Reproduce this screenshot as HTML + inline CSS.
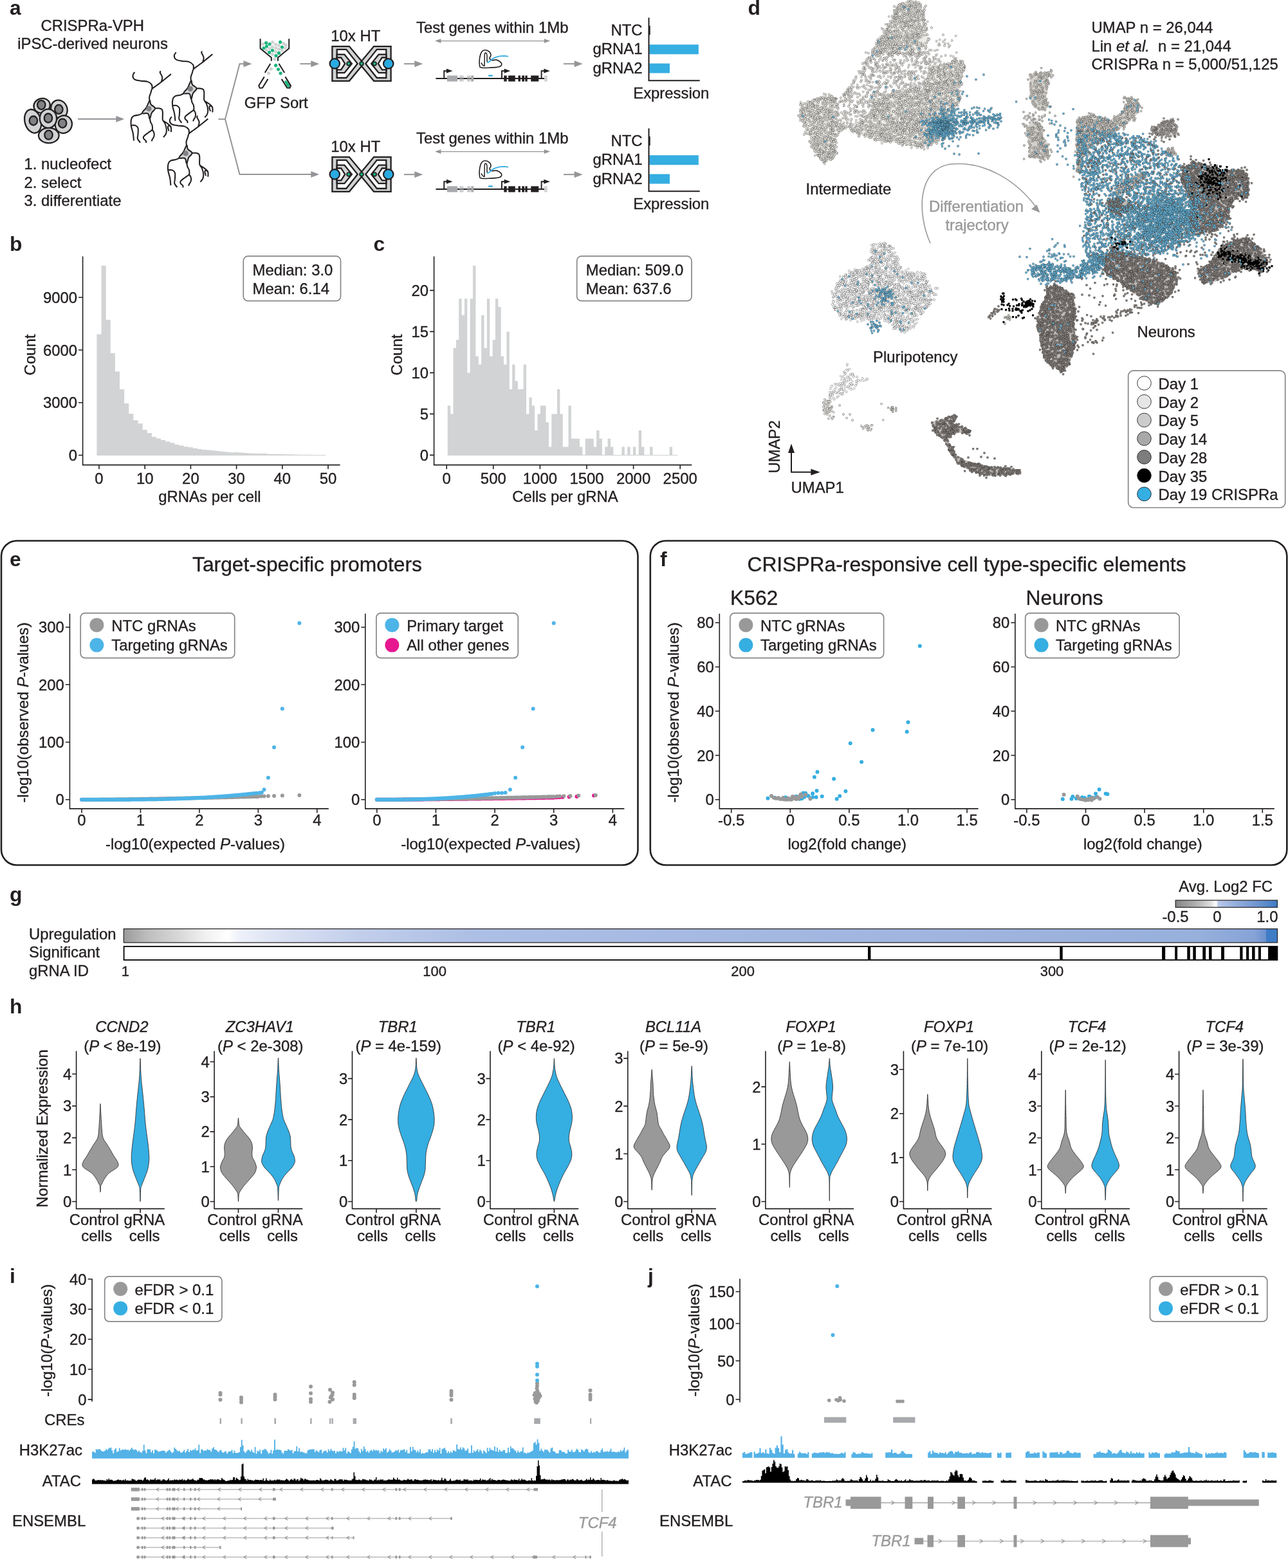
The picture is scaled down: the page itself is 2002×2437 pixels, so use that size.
<!DOCTYPE html>
<html><head><meta charset="utf-8"><title>Figure</title>
<style>
html,body{margin:0;padding:0;background:#fff}
svg{display:block}
text{font-family:"Liberation Sans",sans-serif;font-size:23.9px;fill:#231f20;stroke:#231f20;stroke-width:.35px}
.m{text-anchor:middle}.e{text-anchor:end}
text[style*="bold"]{stroke-width:0}
</style></head>
<body>
<svg width="2002" height="2437" viewBox="0 0 2002 2437">
<rect width="2002" height="2437" fill="#fff"/>
<text style="font-size:31.8px;font-weight:bold" x="15" y="23">a</text>
<text class="m" x="143.7" y="48">CRISPRa-VPH</text>
<text class="m" x="144" y="76">iPSC-derived neurons</text>
<text x="37.5" y="263">1. nucleofect</text>
<text x="37.5" y="291.6">2. select</text>
<text x="37.5" y="320.4">3. differentiate</text>
<ellipse cx="65.14" cy="164.19" rx="12.79" ry="11.23" transform="rotate(-15 65.14 164.19)" fill="#d1d3d4" stroke="#231f20" stroke-width="2.3"/>
<ellipse cx="64.27" cy="163.04" rx="6.2" ry="7" fill="#808285" stroke="#231f20" stroke-width="2.3"/>
<ellipse cx="91.92" cy="169.67" rx="12.38" ry="14.4" transform="rotate(-25 91.92 169.67)" fill="#d1d3d4" stroke="#231f20" stroke-width="2.3"/>
<ellipse cx="91.35" cy="169.95" rx="6.2" ry="7" fill="#808285" stroke="#231f20" stroke-width="2.3"/>
<ellipse cx="51.14" cy="188.39" rx="12.56" ry="18.72" transform="rotate(-15 51.14 188.39)" fill="#d1d3d4" stroke="#231f20" stroke-width="2.3"/>
<ellipse cx="51.89" cy="187.52" rx="6.2" ry="7" fill="#808285" stroke="#231f20" stroke-width="2.3"/>
<ellipse cx="98.84" cy="193.28" rx="12.96" ry="13.82" transform="rotate(20 98.84 193.28)" fill="#d1d3d4" stroke="#231f20" stroke-width="2.3"/>
<ellipse cx="97.11" cy="191.56" rx="6.2" ry="7" fill="#808285" stroke="#231f20" stroke-width="2.3"/>
<ellipse cx="75.79" cy="210.56" rx="15.84" ry="11.81" transform="rotate(0 75.79 210.56)" fill="#d1d3d4" stroke="#231f20" stroke-width="2.3"/>
<ellipse cx="75.51" cy="209.7" rx="6.2" ry="7" fill="#808285" stroke="#231f20" stroke-width="2.3"/>
<ellipse cx="74.93" cy="184.24" rx="13.13" ry="14.69" transform="rotate(0 74.93 184.24)" fill="#d1d3d4" stroke="#231f20" stroke-width="2.3"/>
<ellipse cx="74.93" cy="183.49" rx="6.2" ry="7" fill="#808285" stroke="#231f20" stroke-width="2.3"/>
<path d="M121 185L181.3 185" stroke="#939598" stroke-width="2" fill="none"/>
<path d="M193.3 185L180.3 190L180.3 180Z" fill="#939598"/>
<g transform="translate(295.8 138.1)" fill="none" stroke="#231f20" stroke-width="2.05" stroke-linecap="butt">
<path d="M1.2 -12.4C2.8 -13.5 1.2 -9.3 3.2 -6.5C5.2 -3.7 9.4 -3.6 9.7 -0.6C10 2.4 6.3 2.8 4.4 6.5C2.4 10.2 2.8 15.1 1.4 15.4C0 15.7 1.2 9.7 -1.5 7.7C-4.2 5.7 -9.6 9 -10.2 6.7C-10.7 4.5 -6.6 2.7 -3.9 -1.8C-1.3 -6.2 -0.5 -11.3 1.2 -12.4Z" fill="#d1d3d4"/>
<circle r="4.1" fill="#808285" stroke="none"/>
<path d="M1.2 -11.8C1.1 -12.9 0.5 -16.1 0.8 -18.3C1.2 -20.6 2.5 -23.4 3.2 -25.4C3.9 -27.5 3.5 -29 5 -30.8C6.4 -32.5 9.7 -34.3 12.1 -36.1C14.4 -37.9 15.4 -38.5 19.2 -41.4C22.9 -44.4 32 -51.8 34.5 -53.8M5 -30.8C4.9 -31.8 5.6 -35.4 4.4 -37.3C3.2 -39.1 0.7 -41 -2.1 -42C-5 -43 -9.4 -42.6 -12.8 -43.2C-16.1 -43.8 -20.2 -44.2 -22.2 -45.6C-24.3 -46.9 -25 -49.6 -25 -51.5C-25 -53.3 -22.7 -55.9 -22.2 -56.8M19.2 -41.4C19.5 -42.5 20.9 -46 20.9 -47.9C20.9 -49.8 19.8 -51.3 19.2 -52.7C18.6 -54 17.6 -55.2 17.4 -56.2C17.2 -57.2 18.1 -58.2 18.2 -58.6M9.1 -0.6C10.2 -0.6 13.7 -0.9 15.6 -0.6C17.5 -0.3 19.4 0 20.4 1.2C21.3 2.4 21.3 3.8 21.5 6.5C21.7 9.2 20.9 14.4 21.5 17.2C22.1 19.9 24.1 20.5 25.1 23.1C26.1 25.6 27.3 29.8 27.4 32.5C27.6 35.3 27.1 37.7 26.3 39.6C25.4 41.6 23.1 43.6 22.5 44.4M22.4 18.9C23.6 19.7 27.8 22.1 29.8 23.7C31.8 25.2 33.5 26.3 34.3 28.4C35.1 30.5 34.5 35 34.5 36.3M34.3 28.4C33.8 28.1 32 26.3 31.2 26.4C30.4 26.5 29.6 27.6 29.6 29C29.6 30.4 31 33.9 31.2 34.9M-9.2 6.5C-10.2 7 -12.8 8.7 -15.1 9.5C-17.5 10.3 -21.4 10.2 -23.4 11.2C-25.4 12.3 -26.5 13.4 -27.2 16C-27.9 18.5 -28 22.9 -27.6 26.6C-27.1 30.4 -25.3 34.6 -24.6 38.5C-23.9 42.3 -23.6 47.8 -23.4 49.7M-27.2 26C-26.2 26 -22.8 25.3 -21.1 26C-19.3 26.7 -17.6 27.9 -16.9 30.2C-16.2 32.4 -16.8 36.9 -16.9 39.6C-17 42.4 -18.1 44.6 -17.5 46.7C-16.9 48.9 -14.1 51.7 -13.4 52.7M1.2 13.6C1.4 14.8 2 18.7 2.6 20.7C3.2 22.7 4.5 23.5 5 25.4C5.4 27.4 6.2 30.6 5.2 32.5C4.2 34.5 1.3 35.5 -0.9 37.3C-3.2 39 -6.9 41.6 -8 43.2C-9.2 44.8 -8.6 45.6 -8 46.7C-7.5 47.9 -5.1 49.2 -4.5 50.3C-3.9 51.4 -4.5 52.7 -4.5 53.2M5.2 32.5C5.7 33.3 7.5 35.5 7.9 37.3C8.4 39 8.4 41.4 7.9 43.2C7.5 45 5.8 46.7 5.2 47.9C4.6 49.1 4.5 50.1 4.4 50.5"/>
</g>
<g transform="translate(288.8 238.4)" fill="none" stroke="#231f20" stroke-width="2.05" stroke-linecap="butt">
<path d="M1.2 -12.4C2.8 -13.5 1.2 -9.3 3.2 -6.5C5.2 -3.7 9.4 -3.6 9.7 -0.6C10 2.4 6.3 2.8 4.4 6.5C2.4 10.2 2.8 15.1 1.4 15.4C0 15.7 1.2 9.7 -1.5 7.7C-4.2 5.7 -9.6 9 -10.2 6.7C-10.7 4.5 -6.6 2.7 -3.9 -1.8C-1.3 -6.2 -0.5 -11.3 1.2 -12.4Z" fill="#d1d3d4"/>
<circle r="4.1" fill="#808285" stroke="none"/>
<path d="M1.2 -11.8C1.1 -12.9 0.5 -16.1 0.8 -18.3C1.2 -20.6 2.5 -23.4 3.2 -25.4C3.9 -27.5 3.5 -29 5 -30.8C6.4 -32.5 9.7 -34.3 12.1 -36.1C14.4 -37.9 15.4 -38.5 19.2 -41.4C22.9 -44.4 32 -51.8 34.5 -53.8M5 -30.8C4.9 -31.8 5.6 -35.4 4.4 -37.3C3.2 -39.1 0.7 -41 -2.1 -42C-5 -43 -9.4 -42.6 -12.8 -43.2C-16.1 -43.8 -20.2 -44.2 -22.2 -45.6C-24.3 -46.9 -25 -49.6 -25 -51.5C-25 -53.3 -22.7 -55.9 -22.2 -56.8M19.2 -41.4C19.5 -42.5 20.9 -46 20.9 -47.9C20.9 -49.8 19.8 -51.3 19.2 -52.7C18.6 -54 17.6 -55.2 17.4 -56.2C17.2 -57.2 18.1 -58.2 18.2 -58.6M9.1 -0.6C10.2 -0.6 13.7 -0.9 15.6 -0.6C17.5 -0.3 19.4 0 20.4 1.2C21.3 2.4 21.3 3.8 21.5 6.5C21.7 9.2 20.9 14.4 21.5 17.2C22.1 19.9 24.1 20.5 25.1 23.1C26.1 25.6 27.3 29.8 27.4 32.5C27.6 35.3 27.1 37.7 26.3 39.6C25.4 41.6 23.1 43.6 22.5 44.4M22.4 18.9C23.6 19.7 27.8 22.1 29.8 23.7C31.8 25.2 33.5 26.3 34.3 28.4C35.1 30.5 34.5 35 34.5 36.3M34.3 28.4C33.8 28.1 32 26.3 31.2 26.4C30.4 26.5 29.6 27.6 29.6 29C29.6 30.4 31 33.9 31.2 34.9M-9.2 6.5C-10.2 7 -12.8 8.7 -15.1 9.5C-17.5 10.3 -21.4 10.2 -23.4 11.2C-25.4 12.3 -26.5 13.4 -27.2 16C-27.9 18.5 -28 22.9 -27.6 26.6C-27.1 30.4 -25.3 34.6 -24.6 38.5C-23.9 42.3 -23.6 47.8 -23.4 49.7M-27.2 26C-26.2 26 -22.8 25.3 -21.1 26C-19.3 26.7 -17.6 27.9 -16.9 30.2C-16.2 32.4 -16.8 36.9 -16.9 39.6C-17 42.4 -18.1 44.6 -17.5 46.7C-16.9 48.9 -14.1 51.7 -13.4 52.7M1.2 13.6C1.4 14.8 2 18.7 2.6 20.7C3.2 22.7 4.5 23.5 5 25.4C5.4 27.4 6.2 30.6 5.2 32.5C4.2 34.5 1.3 35.5 -0.9 37.3C-3.2 39 -6.9 41.6 -8 43.2C-9.2 44.8 -8.6 45.6 -8 46.7C-7.5 47.9 -5.1 49.2 -4.5 50.3C-3.9 51.4 -4.5 52.7 -4.5 53.2M5.2 32.5C5.7 33.3 7.5 35.5 7.9 37.3C8.4 39 8.4 41.4 7.9 43.2C7.5 45 5.8 46.7 5.2 47.9C4.6 49.1 4.5 50.1 4.4 50.5"/>
</g>
<g transform="translate(231.4 168.9)" fill="none" stroke="#231f20" stroke-width="2.05" stroke-linecap="butt">
<path d="M1.2 -12.4C2.8 -13.5 1.2 -9.3 3.2 -6.5C5.2 -3.7 9.4 -3.6 9.7 -0.6C10 2.4 6.3 2.8 4.4 6.5C2.4 10.2 2.8 15.1 1.4 15.4C0 15.7 1.2 9.7 -1.5 7.7C-4.2 5.7 -9.6 9 -10.2 6.7C-10.7 4.5 -6.6 2.7 -3.9 -1.8C-1.3 -6.2 -0.5 -11.3 1.2 -12.4Z" fill="#d1d3d4"/>
<circle r="4.1" fill="#808285" stroke="none"/>
<path d="M1.2 -11.8C1.1 -12.9 0.5 -16.1 0.8 -18.3C1.2 -20.6 2.5 -23.4 3.2 -25.4C3.9 -27.5 3.5 -29 5 -30.8C6.4 -32.5 9.7 -34.3 12.1 -36.1C14.4 -37.9 15.4 -38.5 19.2 -41.4C22.9 -44.4 32 -51.8 34.5 -53.8M5 -30.8C4.9 -31.8 5.6 -35.4 4.4 -37.3C3.2 -39.1 0.7 -41 -2.1 -42C-5 -43 -9.4 -42.6 -12.8 -43.2C-16.1 -43.8 -20.2 -44.2 -22.2 -45.6C-24.3 -46.9 -25 -49.6 -25 -51.5C-25 -53.3 -22.7 -55.9 -22.2 -56.8M19.2 -41.4C19.5 -42.5 20.9 -46 20.9 -47.9C20.9 -49.8 19.8 -51.3 19.2 -52.7C18.6 -54 17.6 -55.2 17.4 -56.2C17.2 -57.2 18.1 -58.2 18.2 -58.6M9.1 -0.6C10.2 -0.6 13.7 -0.9 15.6 -0.6C17.5 -0.3 19.4 0 20.4 1.2C21.3 2.4 21.3 3.8 21.5 6.5C21.7 9.2 20.9 14.4 21.5 17.2C22.1 19.9 24.1 20.5 25.1 23.1C26.1 25.6 27.3 29.8 27.4 32.5C27.6 35.3 27.1 37.7 26.3 39.6C25.4 41.6 23.1 43.6 22.5 44.4M22.4 18.9C23.6 19.7 27.8 22.1 29.8 23.7C31.8 25.2 33.5 26.3 34.3 28.4C35.1 30.5 34.5 35 34.5 36.3M34.3 28.4C33.8 28.1 32 26.3 31.2 26.4C30.4 26.5 29.6 27.6 29.6 29C29.6 30.4 31 33.9 31.2 34.9M-9.2 6.5C-10.2 7 -12.8 8.7 -15.1 9.5C-17.5 10.3 -21.4 10.2 -23.4 11.2C-25.4 12.3 -26.5 13.4 -27.2 16C-27.9 18.5 -28 22.9 -27.6 26.6C-27.1 30.4 -25.3 34.6 -24.6 38.5C-23.9 42.3 -23.6 47.8 -23.4 49.7M-27.2 26C-26.2 26 -22.8 25.3 -21.1 26C-19.3 26.7 -17.6 27.9 -16.9 30.2C-16.2 32.4 -16.8 36.9 -16.9 39.6C-17 42.4 -18.1 44.6 -17.5 46.7C-16.9 48.9 -14.1 51.7 -13.4 52.7M1.2 13.6C1.4 14.8 2 18.7 2.6 20.7C3.2 22.7 4.5 23.5 5 25.4C5.4 27.4 6.2 30.6 5.2 32.5C4.2 34.5 1.3 35.5 -0.9 37.3C-3.2 39 -6.9 41.6 -8 43.2C-9.2 44.8 -8.6 45.6 -8 46.7C-7.5 47.9 -5.1 49.2 -4.5 50.3C-3.9 51.4 -4.5 52.7 -4.5 53.2M5.2 32.5C5.7 33.3 7.5 35.5 7.9 37.3C8.4 39 8.4 41.4 7.9 43.2C7.5 45 5.8 46.7 5.2 47.9C4.6 49.1 4.5 50.1 4.4 50.5"/>
</g>
<path d="M339.5 185.2H350L372.5 99.2H381M350 185.2L372.5 271H486" stroke="#939598" stroke-width="2" fill="none" stroke-linejoin="miter"/>
<path d="M378 99.2L379.5 99.2" stroke="#939598" stroke-width="2" fill="none"/>
<path d="M391.5 99.2L378.5 104.2L378.5 94.2Z" fill="#939598"/>
<path d="M480 271L484.3 271" stroke="#939598" stroke-width="2" fill="none"/>
<path d="M496.3 271L483.3 276L483.3 266Z" fill="#939598"/>
<circle cx="408.92" cy="68.46" r="2.6" fill="#d1d3d4"/>
<circle cx="423.69" cy="65.69" r="2.6" fill="#d1d3d4"/>
<circle cx="428.62" cy="69.08" r="2.6" fill="#d1d3d4"/>
<circle cx="440.92" cy="67.54" r="2.6" fill="#d1d3d4"/>
<circle cx="444.31" cy="70" r="2.6" fill="#d1d3d4"/>
<circle cx="433.54" cy="70.62" r="2.6" fill="#d1d3d4"/>
<circle cx="423.38" cy="72.77" r="2.6" fill="#d1d3d4"/>
<circle cx="419.38" cy="75.23" r="2.6" fill="#d1d3d4"/>
<circle cx="428.62" cy="74.62" r="2.6" fill="#d1d3d4"/>
<circle cx="433.54" cy="76.46" r="2.6" fill="#d1d3d4"/>
<circle cx="443.38" cy="74.62" r="2.6" fill="#d1d3d4"/>
<circle cx="414.15" cy="77.69" r="2.6" fill="#d1d3d4"/>
<circle cx="438.46" cy="78.31" r="2.6" fill="#d1d3d4"/>
<circle cx="428.62" cy="80.46" r="2.6" fill="#d1d3d4"/>
<circle cx="423.38" cy="84.46" r="2.6" fill="#d1d3d4"/>
<circle cx="426.89" cy="91.85" r="2.6" fill="#d1d3d4"/>
<circle cx="421.23" cy="107.35" r="2.6" fill="#d1d3d4"/>
<circle cx="417.42" cy="113.69" r="2.6" fill="#d1d3d4"/>
<circle cx="413.72" cy="66.49" r="2.6" fill="#1bb57c"/>
<circle cx="419.08" cy="68.58" r="2.6" fill="#1bb57c"/>
<circle cx="414.46" cy="71.97" r="2.6" fill="#1bb57c"/>
<circle cx="409.97" cy="74.8" r="2.6" fill="#1bb57c"/>
<circle cx="435.69" cy="65.38" r="2.6" fill="#1bb57c"/>
<circle cx="438.46" cy="73.26" r="2.6" fill="#1bb57c"/>
<circle cx="423.51" cy="78.31" r="2.6" fill="#1bb57c"/>
<circle cx="418.65" cy="81.38" r="2.6" fill="#1bb57c"/>
<circle cx="433.54" cy="82.43" r="2.6" fill="#1bb57c"/>
<circle cx="429.05" cy="86.49" r="2.6" fill="#1bb57c"/>
<circle cx="428.62" cy="101.69" r="2.6" fill="#1bb57c"/>
<circle cx="432.49" cy="107.85" r="2.6" fill="#1bb57c"/>
<circle cx="436.12" cy="113.88" r="2.6" fill="#1bb57c"/>
<path d="M441.8 126.6L444.9 124.8L451.1 133.1L449.5 135.8L446.8 135.5Z" fill="#1bb57c"/>
<path d="M404.6 60.2L404.6 75.2L421.8 89.4L421.8 94.8M449.2 60.2L449.2 75.2L432 89.4L432 94.8M420.3 98.9L411.7 113.1M433.5 98.9L442.2 113.1M410.8 119.4L402.2 133.1L403.7 136.8L408 136.5L416.4 122.9M443.4 119.4L452 133.1L450.5 136.8L446.2 136.5L437.7 122.9" stroke="#231f20" stroke-width="2" fill="none"/>
<text class="m" x="429.2" y="167.8">GFP Sort</text>
<path d="M466.5 99.2L484.3 99.2" stroke="#939598" stroke-width="2" fill="none"/>
<path d="M496.3 99.2L483.3 104.2L483.3 94.2Z" fill="#939598"/>
<path d="M628 99.2L645.3 99.2" stroke="#939598" stroke-width="2" fill="none"/>
<path d="M657.3 99.2L644.3 104.2L644.3 94.2Z" fill="#939598"/>
<path d="M876 99.2L893.7 99.2" stroke="#939598" stroke-width="2" fill="none"/>
<path d="M905.7 99.2L892.7 104.2L892.7 94.2Z" fill="#939598"/>
<text class="m" x="552.8" y="64.3">10x HT</text>
<g transform="translate(562 98.9)" stroke="#231f20" stroke-width="2.3" stroke-linejoin="miter">
<path d="M-45.6 -26.8L-19.1 -26.8L0 -3.9L19.1 -26.8L45.6 -26.8L45.6 26.9L19.1 26.9L0 3.9L-19.1 26.9L-45.6 26.9Z" fill="#d1d3d4"/>
<path d="M-38.3 -22L-23.8 -22L-6.3 0L-23.8 22.1L-38.3 22.1ZM38.3 -22L23.8 -22L6.3 0L23.8 22.1L38.3 22.1Z" fill="#fff"/>
<path d="M-38.3 -14.2L-26.6 -14.2L-15.1 0L-26.6 14.3L-38.3 14.3ZM38.3 -14.2L26.6 -14.2L15.1 0L26.6 14.3L38.3 14.3Z" fill="#d1d3d4"/>
<path d="M-38.3 -9.4L-31.8 -9.4L-25.8 0L-31.8 9.5L-38.3 9.5ZM38.3 -9.4L31.8 -9.4L25.8 0L31.8 9.5L38.3 9.5Z" fill="#fff"/>
<circle cx="-41.73" cy="0" r="7.7" fill="#29abe2" stroke-width="2.2"/>
<circle cx="41.73" cy="0" r="7.7" fill="#29abe2" stroke-width="2.2"/>
<circle cx="-20.01" cy="0" r="2.9" fill="#1bb57c" stroke-width="1.7"/>
<circle cx="0" cy="0" r="2.9" fill="#1bb57c" stroke-width="1.7"/>
<circle cx="20.2" cy="0" r="2.9" fill="#1bb57c" stroke-width="1.7"/>
</g>
<text class="m" x="765.3" y="51.3">Test genes within 1Mb</text>
<path d="M682 63.6L849 63.6" stroke="#939598" stroke-width="1.1" fill="none"/>
<path d="M676 63.6l9.5 -3.4v6.8zM855.2 63.6l-9.5 -3.4v6.8z" fill="#939598"/>
<path d="M677.4 121.9L846.5 121.9" stroke="#231f20" stroke-width="2" fill="none"/>
<rect x="694.95" y="117.4" width="16.09" height="9.2" fill="#a7a9ac"/>
<rect x="714.65" y="117.4" width="1.31" height="9.2" fill="#a7a9ac"/>
<rect x="716.73" y="117.4" width="1.2" height="9.2" fill="#a7a9ac"/>
<rect x="718.81" y="117.4" width="1.31" height="9.2" fill="#a7a9ac"/>
<rect x="726.36" y="117.4" width="1.09" height="9.2" fill="#a7a9ac"/>
<rect x="728.12" y="117.4" width="1.09" height="9.2" fill="#a7a9ac"/>
<rect x="729.76" y="117.4" width="1.09" height="9.2" fill="#a7a9ac"/>
<rect x="732.16" y="117.4" width="4.05" height="9.2" fill="#a7a9ac"/>
<rect x="783.28" y="117.4" width="4.38" height="9.2" fill="#231f20"/>
<rect x="790.17" y="117.4" width="10.62" height="9.2" fill="#231f20"/>
<rect x="805.49" y="117.4" width="3.5" height="9.2" fill="#231f20"/>
<rect x="811.18" y="117.4" width="3.83" height="9.2" fill="#231f20"/>
<rect x="816.33" y="117.4" width="3.39" height="9.2" fill="#231f20"/>
<rect x="825.19" y="117.4" width="12.04" height="9.2" fill="#231f20"/>
<rect x="845.99" y="117.4" width="4.82" height="9.2" fill="#d1d3d4"/>
<rect x="759.2" y="116.39" width="6.6" height="2.4" fill="#35aee2"/>
<path d="M690.25 121.86V110.2h5" stroke="#231f20" stroke-width="1.9" fill="none"/>
<path d="M693.95 106.7v7l9.5 -3.5z" fill="#231f20"/>
<path d="M779.99 121.86V110.2h5" stroke="#231f20" stroke-width="1.9" fill="none"/>
<path d="M783.69 106.7v7l9.5 -3.5z" fill="#231f20"/>
<path d="M841.61 121.86V110.2h5" stroke="#231f20" stroke-width="1.9" fill="none"/>
<path d="M845.31 106.7v7l9.5 -3.5z" fill="#231f20"/>
<path d="M745.5 101.8C745 98.9 745.1 93.2 745.7 89.3C746.3 85.3 747.2 82.6 748.8 80.5C750.4 78.4 752.1 77.7 754.3 77.8C756.5 77.8 759.2 79.2 760.8 80.7C762.4 82.2 763 84.2 763 86C763.1 87.7 760.9 88.9 761.1 90.3C761.3 91.7 762.2 93.1 764.1 93.6C766.1 94.1 769.2 92.5 771.8 93.1C774.4 93.7 776.9 95.4 778.4 96.9C779.8 98.4 780 100 779.4 101.3C778.8 102.6 778.1 103.3 775.1 104C772.1 104.7 767.8 104.9 763 105.1C758.2 105.3 752 105.8 748.8 105.2C745.6 104.6 746.1 104.8 745.5 101.8Z" stroke="#231f20" stroke-width="1.6" fill="none"/>
<path d="M753 102.9C753 101.2 753.1 95.7 753.2 92.5C753.3 89.3 753 85.5 753.4 83.8C753.8 82 754.8 81.8 755.4 82.1C756 82.5 756.7 83.9 757 86C757.3 88.1 756.8 92.9 757 94.7C757.2 96.5 757.9 96.5 758.1 96.9M747.9 97.5L750.4 101.3L752.8 102.9" stroke="#231f20" stroke-width="1.5" fill="none"/>
<path d="M757.6 96.9C758.1 96.7 759.4 96.8 760.8 95.8C762.3 94.8 763.9 92.3 766.3 90.9C768.7 89.5 772.1 88.3 775.1 87.6C778 86.9 781.5 86.8 783.8 86.8C786.2 86.9 788.4 87.6 789.3 87.7" stroke="#35aee2" stroke-width="1.8" fill="none" stroke-linecap="round"/>
<rect x="1009.3" y="69.3" width="76.5" height="15" fill="#35aee2"/>
<rect x="1009.3" y="98.6" width="31.7" height="15" fill="#35aee2"/>
<rect x="1008.5" y="40" width="2.2" height="14.2" fill="#231f20"/>
<path d="M1008.5 27.5V125.2H1087.7" stroke="#231f20" stroke-width="2" fill="none"/>
<text class="e" x="998.5" y="54.5">NTC</text>
<text class="e" x="998.5" y="84.3">gRNA1</text>
<text class="e" x="998.5" y="113.7">gRNA2</text>
<text class="m" x="1043.3" y="153">Expression</text>
<path d="M628 271.2L645.3 271.2" stroke="#939598" stroke-width="2" fill="none"/>
<path d="M657.3 271.2L644.3 276.2L644.3 266.2Z" fill="#939598"/>
<path d="M876 271.2L893.7 271.2" stroke="#939598" stroke-width="2" fill="none"/>
<path d="M905.7 271.2L892.7 276.2L892.7 266.2Z" fill="#939598"/>
<text class="m" x="552.8" y="236.3">10x HT</text>
<g transform="translate(562 270.9)" stroke="#231f20" stroke-width="2.3" stroke-linejoin="miter">
<path d="M-45.6 -26.8L-19.1 -26.8L0 -3.9L19.1 -26.8L45.6 -26.8L45.6 26.9L19.1 26.9L0 3.9L-19.1 26.9L-45.6 26.9Z" fill="#d1d3d4"/>
<path d="M-38.3 -22L-23.8 -22L-6.3 0L-23.8 22.1L-38.3 22.1ZM38.3 -22L23.8 -22L6.3 0L23.8 22.1L38.3 22.1Z" fill="#fff"/>
<path d="M-38.3 -14.2L-26.6 -14.2L-15.1 0L-26.6 14.3L-38.3 14.3ZM38.3 -14.2L26.6 -14.2L15.1 0L26.6 14.3L38.3 14.3Z" fill="#d1d3d4"/>
<path d="M-38.3 -9.4L-31.8 -9.4L-25.8 0L-31.8 9.5L-38.3 9.5ZM38.3 -9.4L31.8 -9.4L25.8 0L31.8 9.5L38.3 9.5Z" fill="#fff"/>
<circle cx="-41.73" cy="0" r="7.7" fill="#29abe2" stroke-width="2.2"/>
<circle cx="41.73" cy="0" r="7.7" fill="#29abe2" stroke-width="2.2"/>
<circle cx="-20.01" cy="0" r="2.9" fill="#1bb57c" stroke-width="1.7"/>
<circle cx="0" cy="0" r="2.9" fill="#1bb57c" stroke-width="1.7"/>
<circle cx="20.2" cy="0" r="2.9" fill="#1bb57c" stroke-width="1.7"/>
</g>
<text class="m" x="765.3" y="223.3">Test genes within 1Mb</text>
<path d="M682 235.6L849 235.6" stroke="#939598" stroke-width="1.1" fill="none"/>
<path d="M676 235.6l9.5 -3.4v6.8zM855.2 235.6l-9.5 -3.4v6.8z" fill="#939598"/>
<path d="M677.4 293.9L846.5 293.9" stroke="#231f20" stroke-width="2" fill="none"/>
<rect x="694.95" y="289.4" width="16.09" height="9.2" fill="#a7a9ac"/>
<rect x="714.65" y="289.4" width="1.31" height="9.2" fill="#a7a9ac"/>
<rect x="716.73" y="289.4" width="1.2" height="9.2" fill="#a7a9ac"/>
<rect x="718.81" y="289.4" width="1.31" height="9.2" fill="#a7a9ac"/>
<rect x="726.36" y="289.4" width="1.09" height="9.2" fill="#a7a9ac"/>
<rect x="728.12" y="289.4" width="1.09" height="9.2" fill="#a7a9ac"/>
<rect x="729.76" y="289.4" width="1.09" height="9.2" fill="#a7a9ac"/>
<rect x="732.16" y="289.4" width="4.05" height="9.2" fill="#a7a9ac"/>
<rect x="783.28" y="289.4" width="4.38" height="9.2" fill="#231f20"/>
<rect x="790.17" y="289.4" width="10.62" height="9.2" fill="#231f20"/>
<rect x="805.49" y="289.4" width="3.5" height="9.2" fill="#231f20"/>
<rect x="811.18" y="289.4" width="3.83" height="9.2" fill="#231f20"/>
<rect x="816.33" y="289.4" width="3.39" height="9.2" fill="#231f20"/>
<rect x="825.19" y="289.4" width="12.04" height="9.2" fill="#231f20"/>
<rect x="845.99" y="289.4" width="4.82" height="9.2" fill="#d1d3d4"/>
<rect x="759.2" y="288.39" width="6.6" height="2.4" fill="#35aee2"/>
<path d="M690.25 293.86V282.2h5" stroke="#231f20" stroke-width="1.9" fill="none"/>
<path d="M693.95 278.7v7l9.5 -3.5z" fill="#231f20"/>
<path d="M779.99 293.86V282.2h5" stroke="#231f20" stroke-width="1.9" fill="none"/>
<path d="M783.69 278.7v7l9.5 -3.5z" fill="#231f20"/>
<path d="M841.61 293.86V282.2h5" stroke="#231f20" stroke-width="1.9" fill="none"/>
<path d="M845.31 278.7v7l9.5 -3.5z" fill="#231f20"/>
<path d="M745.5 273.8C745 270.9 745.1 265.2 745.7 261.3C746.3 257.3 747.2 254.6 748.8 252.5C750.4 250.4 752.1 249.7 754.3 249.8C756.5 249.8 759.2 251.2 760.8 252.7C762.4 254.2 763 256.2 763 258C763.1 259.7 760.9 260.9 761.1 262.3C761.3 263.7 762.2 265.1 764.1 265.6C766.1 266.1 769.2 264.5 771.8 265.1C774.4 265.7 776.9 267.4 778.4 268.9C779.8 270.4 780 272 779.4 273.3C778.8 274.6 778.1 275.3 775.1 276C772.1 276.7 767.8 276.9 763 277.1C758.2 277.3 752 277.8 748.8 277.2C745.6 276.6 746.1 276.8 745.5 273.8Z" stroke="#231f20" stroke-width="1.6" fill="none"/>
<path d="M753 274.9C753 273.2 753.1 267.7 753.2 264.5C753.3 261.3 753 257.5 753.4 255.8C753.8 254 754.8 253.8 755.4 254.1C756 254.5 756.7 255.9 757 258C757.3 260.1 756.8 264.9 757 266.7C757.2 268.5 757.9 268.5 758.1 268.9M747.9 269.5L750.4 273.3L752.8 274.9" stroke="#231f20" stroke-width="1.5" fill="none"/>
<path d="M757.6 268.9C758.1 268.7 759.4 268.8 760.8 267.8C762.3 266.8 763.9 264.3 766.3 262.9C768.7 261.5 772.1 260.3 775.1 259.6C778 258.9 781.5 258.8 783.8 258.8C786.2 258.9 788.4 259.6 789.3 259.7" stroke="#35aee2" stroke-width="1.8" fill="none" stroke-linecap="round"/>
<rect x="1009.3" y="241.3" width="76.5" height="15" fill="#35aee2"/>
<rect x="1009.3" y="270.6" width="31.7" height="15" fill="#35aee2"/>
<rect x="1008.5" y="212" width="2.2" height="14.2" fill="#231f20"/>
<path d="M1008.5 199.5V297.2H1087.7" stroke="#231f20" stroke-width="2" fill="none"/>
<text class="e" x="998.5" y="226.5">NTC</text>
<text class="e" x="998.5" y="256.3">gRNA1</text>
<text class="e" x="998.5" y="285.7">gRNA2</text>
<text class="m" x="1043.3" y="325">Expression</text>
<path d="M150.44 708.1V519.48H157.56V413.01H164.68V496.99H171.8V548.99H178.92V577.52H186.04V605.01H193.16V627H200.28V643H207.4V653.25H214.52V658.26H221.64V667.99H228.76V673H235.88V679H243V681.5H250.12V684.01H257.24V686.25H264.36V688.26H271.48V691.01H278.6V692.51H285.72V694.26H292.84V695.24H299.96V696.74H307.08V697.96H314.2V699H321.32V699.6H328.44V700.36H335.56V701.1H342.68V701.91H349.8V702.6H356.92V703.14H364.04V703H371.16V703.55H378.28V704.09H385.4V704.5H392.52V704.77H399.64V704.91H406.76V704.77H413.88V705.46H421V705.73H428.12V705.87H435.24V706H442.36V706.14H449.48V706.27H456.6V706.46H463.72V706.63H470.84V706.74H477.96V706.85H485.08V706.96H492.2V707.01H499.32V707.06H506.44V708.1Z" fill="#d1d3d4"/>
<path d="M128.6 398.5V722.6H528.6" stroke="#231f20" stroke-width="1.6" fill="none"/>
<path d="M122.1 707.5h6.5M122.1 625.75h6.5M122.1 544h6.5M122.1 462.25h6.5" stroke="#231f20" stroke-width="1.6" fill="none"/>
<text class="e" x="120.1" y="716.06">0</text>
<text class="e" x="120.1" y="634.31">3000</text>
<text class="e" x="120.1" y="552.56">6000</text>
<text class="e" x="120.1" y="470.81">9000</text>
<path d="M154 722.6v6.5M225.2 722.6v6.5M296.4 722.6v6.5M367.6 722.6v6.5M438.8 722.6v6.5M510 722.6v6.5" stroke="#231f20" stroke-width="1.6" fill="none"/>
<text class="m" x="154" y="751.5">0</text>
<text class="m" x="225.2" y="751.5">10</text>
<text class="m" x="296.4" y="751.5">20</text>
<text class="m" x="367.6" y="751.5">30</text>
<text class="m" x="438.8" y="751.5">40</text>
<text class="m" x="510" y="751.5">50</text>
<text class="m" x="326" y="780">gRNAs per cell</text>
<text class="m" transform="translate(55 551.5) rotate(-90)">Count</text>
<rect x="378.3" y="398.2" width="151.2" height="69.5" fill="#fff" stroke="#85878a" stroke-width="1.7" rx="7"/>
<text x="392.5" y="427.7">Median: 3.0</text>
<text x="392.5" y="456.5">Mean: 6.14</text>
<text style="font-size:31.8px;font-weight:bold" x="15" y="389.5">b</text>
<path d="M695.75 708V630.6H700.12V643.4H704.48V541H708.85V528.2H713.21V464.2H717.58V489.8H721.95V464.2H726.31V579.4H730.68V464.2H735.04V413H739.41V553.8H743.78V566.6H748.14V489.8H752.51V541H756.87V464.2H761.24V553.8H765.61V528.2H769.97V464.2H774.34V477H778.7V553.8H783.07V566.6H787.44V515.4H791.8V605H796.17V566.6H800.53V592.2H804.9V605H809.27V605H813.63V566.6H818V643.4H822.36V617.8H826.73V630.6H831.1V669H835.46V643.4H839.83V630.6H844.19V630.6H848.56V656.2H852.93V694.6H857.29V643.4H861.66V643.4H866.02V605H870.39V643.4H874.76V694.6H879.12V694.6H883.49V630.6H887.85V681.8H892.22V681.8H896.59V681.8H900.95V694.6H905.32V707.1H909.68V681.8H914.05V681.8H918.42V681.8H922.78V694.6H927.15V669H931.51V681.8H935.88V707.1H940.25V694.6H944.61V681.8H948.98V694.6H953.34V707.1H957.71V707.1H962.08V707.1H966.44V694.6H970.81V707.1H975.17V694.6H979.54V707.1H983.91V694.6H988.27V707.1H992.64V669H997V694.6H1001.37V707.1H1005.74V707.1H1010.1V694.6H1014.47V707.1H1018.83V707.1H1023.2V707.1H1027.57V707.1H1031.93V707.1H1036.3V707.1H1040.66V694.6H1045.03V707.1H1049.4V707.1H1053.76V708Z" fill="#d1d3d4"/>
<path d="M674.6 398.5V722.6H1075.3" stroke="#231f20" stroke-width="1.6" fill="none"/>
<path d="M668.1 707.4h6.5M668.1 643.4h6.5M668.1 579.4h6.5M668.1 515.4h6.5M668.1 451.4h6.5" stroke="#231f20" stroke-width="1.6" fill="none"/>
<text class="e" x="666.1" y="715.96">0</text>
<text class="e" x="666.1" y="651.96">5</text>
<text class="e" x="666.1" y="587.96">10</text>
<text class="e" x="666.1" y="523.96">15</text>
<text class="e" x="666.1" y="459.96">20</text>
<path d="M694.2 722.6v6.5M766.8 722.6v6.5M839.4 722.6v6.5M912 722.6v6.5M984.6 722.6v6.5M1057.2 722.6v6.5" stroke="#231f20" stroke-width="1.6" fill="none"/>
<text class="m" x="694.2" y="751.5">0</text>
<text class="m" x="766.8" y="751.5">500</text>
<text class="m" x="839.4" y="751.5">1000</text>
<text class="m" x="912" y="751.5">1500</text>
<text class="m" x="984.6" y="751.5">2000</text>
<text class="m" x="1057.2" y="751.5">2500</text>
<text class="m" x="878.5" y="780">Cells per gRNA</text>
<text class="m" transform="translate(625 551.5) rotate(-90)">Count</text>
<rect x="896.7" y="398.2" width="178.3" height="69.5" fill="#fff" stroke="#85878a" stroke-width="1.7" rx="7"/>
<text x="910.8" y="427.7">Median: 509.0</text>
<text x="910.8" y="456.5">Mean: 637.6</text>
<text style="font-size:31.8px;font-weight:bold" x="580.5" y="389.5">c</text>
<defs><marker id="d1" markerWidth="8" markerHeight="8" refX="4" refY="4" markerUnits="userSpaceOnUse"><circle cx="4" cy="4" r="3.25" fill="#ffffff" stroke="#111" stroke-width="0.66"/></marker><marker id="d2" markerWidth="8" markerHeight="8" refX="4" refY="4" markerUnits="userSpaceOnUse"><circle cx="4" cy="4" r="3.25" fill="#e9e7e2" stroke="#111" stroke-width="0.66"/></marker><marker id="d5" markerWidth="8" markerHeight="8" refX="4" refY="4" markerUnits="userSpaceOnUse"><circle cx="4" cy="4" r="3.25" fill="#cfccc6" stroke="#111" stroke-width="0.66"/></marker><marker id="d14" markerWidth="8" markerHeight="8" refX="4" refY="4" markerUnits="userSpaceOnUse"><circle cx="4" cy="4" r="3.25" fill="#aaa6a2" stroke="#111" stroke-width="0.66"/></marker><marker id="d28" markerWidth="8" markerHeight="8" refX="4" refY="4" markerUnits="userSpaceOnUse"><circle cx="4" cy="4" r="3.25" fill="#8a8480" stroke="#111" stroke-width="0.66"/></marker><marker id="d35" markerWidth="8" markerHeight="8" refX="4" refY="4" markerUnits="userSpaceOnUse"><circle cx="4" cy="4" r="3.25" fill="#000000" stroke="#111" stroke-width="0.66"/></marker><marker id="cr" markerWidth="8" markerHeight="8" refX="4" refY="4" markerUnits="userSpaceOnUse"><circle cx="4" cy="4" r="3.25" fill="#6ab7dc" stroke="#111" stroke-width="0.66"/></marker></defs>
<g fill="none" stroke="none" transform="scale(.5)">
<path d="M2490 325L2540 305L2590 295L2605 320L2605 380L2595 450L2600 475L2585 500L2560 505L2535 480L2518 450L2520 425L2505 405L2490 370Z" fill="#e9e7e2" fill-opacity="0.85"/>
<path d="M2790 15L2820 2L2855 5L2870 30L2875 60L2882 100L2880 150L2840 165L2790 165L2740 160L2720 140L2750 95L2775 55Z" fill="#e9e7e2" fill-opacity="0.85"/>
<path d="M2890 200L2915 200L2950 195L2970 188L2995 190L3000 210L2990 240L2985 280L2988 310L2970 330L2950 350L2945 395L2940 435L2890 450L2865 460L2860 350L2870 270Z" fill="#e9e7e2" fill-opacity="0.85"/>
<path d="M2665 415L2700 350L2720 310L2790 280L2860 270L2865 460L2840 455L2790 445L2740 440L2700 430Z" fill="#e9e7e2" fill-opacity="0.85"/>
<path d="M3200 230L3240 225L3268 218L3272 230L3260 240L3260 270L3252 300L3260 325L3250 345L3230 345L3210 330L3200 300L3202 260Z" fill="#cfccc6" fill-opacity="0.9"/>
<path d="M3190 395L3210 380L3235 385L3245 400L3240 425L3260 450L3260 490L3240 495L3195 488L3200 450L3192 425Z" fill="#cfccc6" fill-opacity="0.9"/>
<path d="M3346 373L3378 357L3421 362L3453 373L3484 352L3506 314L3490 304L3522 304L3543 320L3538 352L3516 373L3484 399L3453 415L3421 437L3389 458L3367 490L3357 533L3346 533L3349 479L3343 426Z" fill="#cfccc6" fill-opacity="0.9"/>
<path d="M3463 586L3495 559L3532 543L3559 533L3564 549L3538 575L3506 596L3474 607Z" fill="#cfccc6" fill-opacity="0.9"/>
<path d="M3623 463L3649 458L3657 479L3639 490L3623 485Z" fill="#cfccc6" fill-opacity="0.9"/>
<path d="M3580 405L3612 378L3644 370L3663 394L3660 421L3633 426L3602 421Z" fill="#aaa6a2" fill-opacity="0.55"/>
<path d="M3676 522L3708 501L3751 511L3788 533L3825 527L3868 527L3884 564L3878 618L3846 612L3825 639L3820 682L3793 708L3756 724L3719 719L3697 692L3708 639L3692 596L3671 564Z" fill="#8a8480" fill-opacity="0.55"/>
<path d="M3442 623L3474 612L3506 623L3527 639L3506 660L3469 666L3447 650Z" fill="#8a8480" fill-opacity="0.55"/>
<path d="M3426 799L3463 777L3506 788L3559 799L3612 815L3655 841L3660 878L3639 916L3602 948L3559 937L3516 905L3474 873L3437 852Z" fill="#8a8480" fill-opacity="0.55"/>
<path d="M3719 841L3761 820L3788 772L3836 745L3878 740L3921 772L3942 815L3921 847L3878 831L3836 847L3788 873L3740 884Z" fill="#8a8480" fill-opacity="0.55"/>
<path d="M3256 895L3286 885L3336 915L3346 965L3336 1010L3346 1050L3336 1100L3321 1140L3301 1155L3271 1140L3246 1120L3236 1070L3226 1025L3224 990L3236 950L3251 920Z" fill="#8a8480" fill-opacity="0.55"/>
<path d="M2902 1310L2935 1300L2968 1288L2972 1300L2960 1320L2990 1325L3018 1338L3015 1350L2985 1345L2960 1350L2945 1365L2960 1390L2975 1415L3000 1430L3035 1440L3085 1450L3135 1455L3170 1460L3172 1472L3135 1478L3085 1480L3050 1475L3010 1460L2975 1440L2950 1400L2935 1370L2910 1350L2900 1330Z" fill="#8a8480" fill-opacity="0.55"/>
<path d="M2804 11l2-2 3 2 10-3 4-5 4 5 3-5 2 2 6 0 3 6 3-4 1 4 1 0 1-5 0 0 9 4 1-2 21 10-15 4-1-4 0-5-4 3 0 3-5 0-3-4-2 6-1-9-1 12 0-4-3-5 0-3-1 7-2-4-5 5 0-7-1 10-3-10-3 3 0 2 0 0-1-3-1 3-3 2 0 3-1-6-3 1-4 3-1-3-2-2-1 6-2 0-2-8-4 6-2-4-4-3 0 4-1-2 0-1 0 5-4-1-4 5-8-3 0 11 2 2 4-2 1-2 3-3 2 2 1 0 1 5 1-8 1 5 1 2 4-5 0 8 2-5 1 2 0-5 1-1 4 9 2-5 3-4 0 2 9 6 1 1 2-7 1 0 2-1 1 6 1-3 0-4 3-2 1 9 6-5 5 0 1 4 4-1 0 3 2 0 1 1 2 0 0-8 1 6 2-4 1 6 0-1 0 1 2-1 7-3 5 1 0-8-3 14 0 3-1 5-1-2-1-4-3-2-1 10-1-2-1 1-3-2-6-2-2-2-4-2-1 0-1 3-2-5-2 9-2-6-7-3-1 6-2-3-1 6-3-9-1 3-3 2-1-3 0 6 0 0-1-6-5 7-2-4-1 6-2-9-1 2-2 3-13-7-3 4 0 0-3-4-1 5 0-4-1-1 0 9-1 0-2-2 0-1-1-3-2-2-16 13 10-2 1 4 4 4 1-2 0-1 1-2 1 2 2-6 1 6 0-4 1 9 0-3 2-7 0 8 1-1 4 2 0-7 0-1 1 4 3 2 0-7 0 5 3 2 2 3 3-9 2 9 1-3 5-2 5 3 4-5 6 1 1-4 4 3 0 4 2 3 3-8 1-3 4 5 3 0 1-2 1-1 2 1 4 8 1 0 1-7 1 1 2-2 7 9 0-11 1 11 4-5 0 2 2-7 11 17-8-5-3 0-2 2 0 2-12-1-3-3-3 4 0-5-3 0-1 2-4 0-1 3-1 0-1-3-3 2-1 1-5-4 0 2-1 1-3-2-1 5-2-3-1-2-1 7-2-8-3 5-1 3-3 2 0-5 0-2-1 0-5 2-2 3-1 0-2-8-1 3-4 5-1-4-2 1-1 5-3-9-1 6-7-2-2-5 0 3-3-4-2 9-1-9-6 10-1-6-1 6-14 4 7 1 1 5 1 2 0-6 5 0 2 2 10-7 1 8 0 3 3-2 2-3 1-1 1 1 12 1 2 4 2-8 4-3 4 11 1-3 3-4 1 4 0-4 1 3 1 0 1-1 4 1 1-1 1 4 2 1 1-3 5 1 1 0 0-5 0 6 0 0 5-9 2 5 4-2 4 7 3 0 3-9 1 5 2-4 1 1 3 8 4 0 1-1 5-9 0 8 1 1 3-9 2 2 18 10-15 6-1-5-1-2-1 7-1-3-9 4-4-4-2-2 0 6-1 1-7-9 0 4-3 1-4 4-4-6-1 2-4-5-5 10 0-9-3 9-2-11-5 4-2 3-11-5-2 9-2-2-2-4-1-1-5-4-6 11-2-5-6-5-2 11-10-11-3-1-3 9-4 0-3-7 0-1 0 0-1 10-2-3-1 0-9 0-5-4 7 12 3 7 2-9 2 2 0 4 2-1 0-5 2 4 2 4 3-4 4-2 0-2 3 6 4-7 2 3 7-3 0 1 1 4 1 6 7-10 2 6 1-5 7 5 10 3 2-8 0-1 3 2 4 3 0 4 1-2 9 1 5-2 0-2 2-2 4 3 1 2 1-3 2 1 0-5 4 5 1 2 1-2 1-3 0 8 0 0 5-6 0-1 5 0 3 6 0 0 3-9 5 0 6 10 2 0 88 3-39-3-46 11-13-10-10 6-3-4-3 7-1-8-1 4-3 1-1 2-4-5-1-2-5 10-2-4-1-3-2 3 0-6 0 3-1 1-4-2-5 3-1 4-3 0-1 1 0-6-1-3-2 1-2-1-2 2-3 2-7-2-4-1-1 4 0-3-1 4-2 3-2-7-1-3-5 3-3-1 0 3-2 1 0-5-4 0-1 6 0-7 0 9-1 0-3-9-3 8-1 2-3-5-5-1-2 6-1-2-1 2-2-1-1-9-1 7-2-6-1-3-3 9 0-4-2 3-2-5-2 2-3 5-1-3-10 10 1 5 0-8 1 7 3-6 1 1 1 3 1 5 4 0 2-11 0 6 0-3 1 6 4 0 3 2 2-7 4 2 0-3 1-2 6 5 1-5 0 0 1 0 0 10 2-10 5 6 1-4 0 3 4-3 2 4 1-6 1 5 3 0 3-7 1 11 6-7 1-1 1 6 5 2 3 0 3-3 1-6 5 6 0 4 1-10 6 8 1 0 0-8 1 6 1 3 1-1 1-4 2-3 2-2 3 1 1 9 3-8 11 3 2-6 0 10 0-5 3-2 2 8 30-5 1-4 4 0 22 6 10-5 11 6 5-6 22 3-7 16-5-7-9 0-2 7-15-2-2-5-2 5-36-7-3 10-1-10-1 10-8-2 0-4-1 6-4-1-1-9-1 8 0-8-9 7-3-1 0-5-1 4-6-4 0-2-4 2-4 2-1 5-4 2-2 0-2-3-4 1-1-4-4 0-1 0-3 7-9-4 0 3-1-5-5 3-5-8 0 6-6-3 0 7 0-8-3 3 0-1-5 2 0-2-1-1-2 5-1 0-4-6-2 2 0 7-6-6-1 2-1-6 0 9-7-5-1-4-2 8-6-6 0 3-2 0-4 1-1-2-2 4-3-9-1 8-1-3-4 3-1-5-2-2-10 20 4 1 0-4 2-3 2 0 0-1 1 6 7-7 3 8 0-10 7 6 1-3 3 5 1-1 1 3 1 1 4 0 1-6 1-2 0 7 3-8 0 0 1-2 1 5 2-1 4 4 6-1 1-2 1 4 3-5 1-2 0-1 0 9 2-9 0 10 3-9 1-1 6-1 1 7 1-2 0 0 4-2 1 4 0 2 1 1 1-10 2 9 2-8 4 5 4-5 3 2 0-1 3-2 5 8 2-5 9 8 3-6 0 0 3 3 1-3 4 4 11-4 1-5 2 9 4 2 1 0 17-8 0 5 2-5 10 9 25-1 35-9 24 17-67-6-11-1-7 12-5-6 0 1-7 3-2-5-7 2-1 0-6-4-1 6-3-1-1-2 0-3-2 9-3-1-6 0-4-3-2 1-1-9-1 4 0-2-4 4-2 6-1-5-2-2-6 1-3 4-4 1-7-2-3 2-7-3-1 1 0-2-2-6-1 4-3 6-2-11-2 10-1-5 0-1 0-1-3 1-2 4-1-1-2-7-2 11-1-3-2-3-1 0-2 3-2 3-1-4-4 4-1-2-1 3-1-3-2-6-5 2-5-2-3 7-1-5-4-3-1 7-1-4-1 1 0 2-1-2 0 1-3-3-1 6-1-6 0-4-5 9-5 2-3-4-2-4-1 2-2 3-1-4 0-2-11 7-8-2 9 17 1-3 7-1 3-6 10 0 1 0 1 4 5 1 1-3 4-2 3 5 0 4 8-10 5 10 10-2 4-6 2 0 1 1 7 0 0 4 1-7 17 1 18 4 2-5 3 1 2 8 0 2 6-12 5 2 0 0 1 4 0 0 7-3 2-2 8 6 7-1 0-6 2 10 5-7 0 1 7-2 8 8 4-2 0-2 22 4 8-5 3-4 14 6 13-3 16 1 8 3 29 14-7 0 0 0-11-1-2-8-1 8-3-5 0 0-1 4-6 4 0-2-42-6-1 6-7-6-7-1 0-3-3 10-8 2-4-6 0-3 0 3-10 5-2-1-1-9-1 5-3 3 0-7 0 1-21-3-2 6-4 3-10 2 0-10-1 5-12 0-3 3-8-1-12 0 0-1-18-2 0 2-2 1-3-3-20 3 0-8-5 3-4-1-3 6-1-2-9 0-14-1-4-3-3-1-7 6 0 4 0-5-1-2-2-2 0 3-6-3-2 10-1-6-2 5-11 7 4-2 5 0 4 7 0-8 0 0 1 0 1-2 2 6 10-5 13 9 0-7 1-3 2 9 2-2 2 2 2-9 14 8 12-1 2 0 0-2 6 5 4-9 1 9 5 0 1-2 3 1 8-5 12-2 4 2 0 2 3 4 3-8 18 7 11-1 6-1 1 0 0-3 5-4 2 0 1 10 2-9 9 2 2-3 11 3 2 3 3 0 1-2 4-1 1-3 3 8 6-8 9 5 4-3 14-3 0 9 1 0 0 1 5-1 6 2 0-5 5 1 1 5 5-4 0-2 4 3 1-3 0 5 3 0 1-3 3-1 1-7 0 10 0-8 2-1 2-1 2 2 4 1 0-1 1 2 1 2 1-5 1-1 2 1 0 4 6 3 1 1 4 0 1-8 1 8 0-7 2 1 1-2 1 2 1 4 3 3 3 4-1 3-1 2-1-1 0 2-1-7-1 7-9-6 0 8-1-1-4-8-4 10-3-7-1 5-3-2 0-1-4-5-3 2-5 2-6-5 0 11-1-7-1 1-4-1 0-4-4 9 0-2-6-3-2 7-1-6-1 0-1 6-12-7 0 6-2-7-1 8-1-8-4 0-6 9-3-8-2-1 0 0-1 5-5 2-6 0 0-5-10 2-12-3-1 3-4 2-1 1 0-4 0-4-14 3-22 0-27 6-1-7-1 3-6-7 0 6-1-2-3 7-1-2 0-8-13 11-3-5-12-3-5 2-2-1-2-1-9 3-3-6-5 5-3 3 0-3-1 3-9 1-5-1 0 1-3-4-1 4-6-4-2-5-9 9-4-6 0 4-2 1-1-2-13 10 1 6 4-3 3 3 1-6 4 4 0 0 5-5 23 2 3 0 4 1 7-1 8-3 4 3 8-1 0-4 1 10 2 1 5-1 1-4 1-1 3 4 3-5 6-5 2 11 0-5 10 3 1 3 4-5 7 3 2-5 3 0 1-1 4 4 7-3 6-1 9 6 2-4 1 4 5-3 3 3 2-5 2 4 3-2 7-2 15 0 8 4 2-4 2 2 3 2 11-3 4-4 2 0 2 5 1-3 2 7 0-5 2-3 3 7 2-9 3 0 1 0 0 10 5-4 2 1 1-6 1 2 0 3 2 3 3-10 3 1 1 2 4 9 0-4 2 2 1-1 1-9 1 9 5-2 7 2 5-2 0 5 0-3 1-3 1-3 9 4 4-4 1 3 5 3 1 3 4-5 0-3 2 3 4-7 2 10 1-3 4-3 1 1 1-4 1-1-6 21-2-7-1 9-4 0-3-5-2-1-1 1-3-1-2-4 0 1-2 4-1 6-1-3-4-4-4 2-1-4-1 5-1-4 0 2-3-4-4 10-2-11 0 5-1 5-6-8-4 9 0-3-2-9 0 12-1-5-1-6 0 1-1-1-1 7-1-4-7 1-3 0-1 3-2-2 0-5-4 9-1 0-12-5-2-3-3 7-2-8-3 0-1 3-5-2 0 5 0 4-13-10-7 9-11-2-6 4-5-8-3-4-6 9-1-7-4 4-1 5-6-7-9-3 0 9-1-7-1 8-8 1 0-10-7 7-1-3-5 5-7 0-4-9-4 0-5 7-9 1-14-10 0 9-12-1-6 2-12-3-4-2-1 1-1-3-2 0-2 0-1 9-5-2-9 2-4-6-1-4-6 2-1 0-3 7-16-2-7 12 3 2 2-10 2 2 17 6 13-4 0 7 4-3 2 3 8-9 2 3 25 6 6-10 17 6 6 4 8-10 11 7 2-8 6 11 1 0 4-6 1-1 3-1 3-3 2 1 1 3 24-2 0 3 1-3 5 5 2-2 10 4 0-9 2 4 2-1 7 1 14-4 5 6 7-2 1 2 0 1 5-7 1 6 4-1 7-2 1 3 1-6 1 4 7 4 11-7 3 2 2-1 2 2 10-2 1 8 7-2 1-1 1 0 5-5 2 7 2-4 1 6 5-5 3 2 7-4 1-4 3 3 0-4 1 8 4 0 3-3 0-1 5 15 0 4-3-8-1 8 0-8-2-2-1 2-1 7 0-4-4 0-1 3-2-3 0 3-8 0-2-7-2-2-2 8 0-3-1 5 0-4 0 1 0-7-2 3-3 3-8 3 0 2-1-11-2 11 0 0-1 0 0-6-1 7-2-10-1 0-2 0-2 3-1 6 0-5-2 1 0-6-1 3-2-1-1 4-4-7-5 5 0 3-1-1-1-4-2 3-1 4-1-8 0 6 0 0-4 0-3 0-1-5 0 3-6 3-1 1-6 0-2-3-3-3 0 4-4-4-1 7-2-5-1 5-2 0-3-5-1 0-2-5-2 5-3 3-7-3-1 6-3-7-13 3-10-3-5 6-6 0-4-1-2 2-7-6-4 0 0-4-6 8-8-9-6 4-4-2-3 4-19-1-4 2-1 0-2-1-1-3-7 5-8-6-5 5-2-6-3 3 0-2-12 0-9 1-3-3-1 3-5 8-19-10-22 3-1-3-2 4-4 5-10 12 2-3 6 0 3 0 5-2 11 1 1-7 1 10 6-3 10-2 4-4 1 7 17-5 6 3 0 5 1-6 8 4 7-2 5 0 1 4 2-11 2 7 1-3 17 7 4-4 9-5 4 4 16-6 6 5 1 3 0-1 12 5 5-8 1 0 4 3 13-2 0-4 0 10 4-1 1-9 8 9 0-5 5-1 0-3 1 10 0 1 7-4 1 3 1-2 5-1 8-8 2 12 1-9 2 8 0-5 1 3 5-5 1-3 3 0 4 3 1 7 1-5 0-4 1 6 5-8 1 6 1 5 0-2 3-6 2 4 1 4 5-2 3-2 0 3 3 0 0-5 1-5 3 8 1-6 2 4 3-2 4 5 2-5 1 7 2-6 6 6 4-3 6-4 3 1 6 3 3-2 1 5 1-9 0 2 2 1 2 0 3-1 1 5 9-4 3 14-6 3-1 0-2-7 0 2-6 1-2 2-1 1-5-3-2-3-1 7-2 0-2-8-4-1-1 10-1-2-3 2-1-7 0 5-3-4-3-3-1 8-8-9-1 2-2-3-2 0-4 7-1 3-5-8-2 4-2 1-3 0-1-4-5 8 0-4 0-6-9 4-1-3-2 9-3-8 0 3-1 1-2-2-1-2 0 2-2-2-2 1 0 7-1-6-1-1-1 1-1 2-10 0 0-1-6 3-3-5-1-2-2 8-5-2 0-1-3 3-4-2 0-4-4-2-5 7-2-4-2-1-1 3-3-5-1 8-2 2-5-7-2 5 0-3-9 4-7-5-3 2-5 1-3-3-2 4-7 0-2-4-1 5-22-3-25-3-1 4-1-2-7 3-14-6-6-1-1 9-3-1-4-11-8 9-27 3-8-9-2 7-2-6-3 7-5-3-1-4 0 0-2 0 0 5 0 1-4 2-68 4 6 2 10-1 0 6 6-2 38-3 2 4 2-1 0-2 1-3 2-1 0-2 8 4 2 6 0-4 1 2 1 0 2-8 8 5 9-4 4 2 7-1 3 5 18 4 1-3 3-1 0-7 13 7 1 2 0-3 6-7 1 2 0 8 5 0 1-3 1-7 7 0 1 8 3-5 4 3 2 1 2-1 4 1 2-7 1 5 3 4 8-3 3 3 1-2 4 2 2-3 1 5 3-11 2 5 0-2 3 7 3-9 3 2 2 4 8-5 3 7 0-4 4 3 1-5 0 0 3 0 3 4 3 3 1-9 4 9 1-2 0 4 1-2 1-9 3 2 6 6 10-7 4 8 1 1 8-6 2 7 3-10 0 6 1-7 4 10 1-10 1 6 2-2 2-2 1 6 3-6 1 2 2 1 0-1 2 7 1-11 2 3 3 6 0-8 0 6 2-5 0-1 2 0 7 7 8-1 7-5 1-1 1 0 4 4 5-3 1 4 5-3 1-2 0 2 0-1 0 3 7-4 6 4 5 5 1-2 11-1 2 2 1-9 6 7 2 1 3-1 1-7 4 8 3 2 0-1 0 0 1-6 1 7 1 1 0-3 4 7-3 2-1 6 0-2-3-4 0 3-2-1-1-2-12 3-4 0-4-2-1 2-1-3-3-5-9 8-3-7-1 4 0-5 0 9-6-3-3 1 0 3-4-10-6 6-2 5-2-3-3-6-5-3-1 6-5-1-1-1-4 7 0 1-9 0-1-3-1-8-2 1 0 4-1 1-2 0 0 4-2-3-4-2 0 2-3-5-7 5-1 0-7 0-6-6-2 4-1-3 0 1-7 3 0-4-3 7-4-8 0 5 0 4-2-3-3-7 0 4-2-3-4 7-1 1-5-8-2 9-8-9-4 2-5 4-1-2-1-2-3 0-3 4-2-8-6 2-1 3-3-5-6 0 0 0-6 1-1 1-1 3-4 5-1-3 0 3-3-9-1 8-3-4 0 6-1-8-1-1-2 6-3-5 0 8-1-2-1-6-8 8-3-4-2 3-6-8-6 7-1 1-3-2-7 0-12-7-10 7-1-7-4 6-1 4-12-9-18-1-4-1-2 3-2 6-3-9-6 8-2 3-1-3-2-8-12 4-13 3-4-2 0 2-1 2-1-4 0 2 0 2-1 0-1-4-3 2 0-1 0 3-3-6 0 8 0-1-1-10-1 7-4 4-1-3 0-3-2 3-4-3 0 1-5 4-2-3-1 2-1-8-4 6-1-1 0-1-3-4-5 7-1-4-1 0-3 3 0 2-1 0-1 3-3-7-3 3-6 1-2 0-1 0 0 3-41 11 0-5 10 4 6 0 7-7 1 9 5-7 1 1 0 2 1 1 2-5 4 1 1 0 7-3 8 2 2 2 13 5 0-6 3 2 1-4 1 8 1-7 4 3 2-4 1 0 2 7 3-5 7 5 1-6 5-2 0 1 2-2 1 3 3 1 0-1 1-1 1 2 0 3 13-3 4-1 0-2 1-1 5 1 3-1 1 10 5-8 4-2 9 0 0 11 1-9 3-3 3 5 3-4 14 3 3 6 3-2 2-8 4 6 1-1 8 4 3-8 5 5 6 2 0-6 8 2 3 1 2 3 3-1 1-2 1 5 2-1 2 1 3-7 4 6 2-1 3-7 2 9 2-3 6 2 0 3 2-4 0-2 6 2 0 3 8-4 4 5 3-6 1-3 1 6 5 0 3-2 6-5 3 6 6 4 0-6 4 1 0-7 0 10 5-9 5 2 2-1 2 5 4 2 0-7 0 2 6-3 3 7 0-1 1-2 4 4 4-6 6 4 0 2 3 2 2-5 5 3 3 3 0-7 3 3 1 3 2-11 2 8 1 0 4-2 0 2 1-6 1 1 6 7 1-1 3-2 3 0 2 2 3-8 1 9 5-6 3 8 2-10 0 10 1-8 2 2 4 4 0 2 7-9 0 3 0 4 4-6 1-3 4 10 3-3 1-8 4 11 7-1 0-10 0 8 3 3 4-2 3-1 1-7 1 10 1-4 5-3 3-2 0 3 1-3 5 3 0 1 3-2 7 3 3 3 4-9 3 5-3 10-4-3-2 2 0-3-2 2-3 6-3-4 0 5-4 2-1-4-3-6-1 8 0-4-1 1-6-4-10 6-1 1 0-4-4 4-1-3-3 5-1-11-1 2 0 5-9 5-2-5-5 1-1 2-5-7-1 6 0 1 0-7-5 1 0 3-4 1 0-2-3 4-11-1 0 2-1 0-1-10-2 2-7-2-3 9-8-6-1 4-1 2-1-10-6 2-4 2 0-2-5 1-2 3-6 1 0-4-2 3 0-6-2 9-4-4-8 0 0-1-8 7-1-9-4 1-1-2 0 9 0-3-2-5 0 7-1-9-5 7-14-4-1 3-2-1-3-4-4 7-8-6-1 7-4-2 0-6-2 7 0-2-1-5-6 9-4-2-3-7 0 3-5-3-1-1-1 4-3 5 0-9-1 4-2-2-4 2-4 7-1-4-2 3-2-5-1 1 0 3-7-5-6-1-1 6-1-6-16 4-1-5-18 6-2 0-1-3-1 3-4-5-18 3-15-1 0-1-18 8-1-1 0-11-1 3-1 5-3-7 0 0-2 7-7 1-3-7 0 1-1-2-4 8-1-6-14 2-1-1-4 3-5 5-3-2-11-5-1 2-2-6-1 10-2 0-2-5-5-2-1 8 0-1-1-11 0 4-2-2-1 8-1-6-4 4-6-3 0-2 0 6-7 1 0-8-7 9-4 0-2-6-2-4-4 1-1 18 0 1 3-7 3 9 2-5 2-3 0 8 1-8 2-2 2 2 0 0 2 4 0 4 3-9 2 6 0-6 1 2 3 1 6 0 2 4 2-8 1 0 1 6 4-6 3 9 7-1 2-6 1 3 1 2 6-6 0 0 2 6 1-1 1-7 1 10 3-1 3-5 3-3 3 5 1 4 2 0 2-9 0 7 3-4 3 3 1 0 1 4 1 0 0-5 1 4 1 0 4-1 0-4 4 6 15-8 20 6 1 3 1-3 16-8 0 9 2-4 8-5 5 7 4-1 2 3 1 1 7 0 8 0 3-3 3-1 24 0 0-2 0 6 3-7 0-3 5 7 1-7 4 6 3-4 1-1 3 1 0 3 2 0 0-3 2 7 2-1 3-2 1 1 1-1 1-3 1-4 2 10 1 1 2-8 2 7 1-1 2-9 2 6 1-2 1 4 2-6 1 3 1 3 1-6 1 6 2 2 1-8 10 9 1-2 1 1 7-10 1 10 4-6 2-3 1-1 2 9 0-6 2 0 1-2 7 1 0 1 5 8 1-3 2 3 7-5 0-1 1 2 1-5 3-1 2 2 2 4 0 0 6 1 3-4 1 2 5 3 1 0 1-4 3-1 3-3 3 6 2 0 2 0 3-1 5-2 1-1 0 7 2-1 4-2 2-5 1 8 7-4 0 5 0-10 3 3 6 5 1-3 1-2 7 0 4 4 5-4 0 1 2-5 6 6 6-3 2 5 0 4 6-9 0 4 1-6 0 8 3 2 1-2 5 0 2-3 1 5 2-5 6-1 5-1 0 3 1-4 2 9-4 4-12 4-5-1-1 2-1-1-4-7-1 10-2-2 0-5-3 4-1-5-1 0-1-3-2 7-15 0-1 4 0 0 0-3-1-6-1 2-2 5-1 1-1-9-1 6-2-6-3 9-7-9 0-1-1 5 0 3-4-1-8 4-1-4-1 3-4-4-1-2 0-3-1 7 0-7-6 7-1-5 0 9-1-2-1-2-4-2-1-4-4 6-7-6-1 8-1-9-2 8 0 1-3-3-3-4-1 1-3-1-3 0-1-3-1 10-1-6-5-2-2 8-3 1-3-10-1 9-4-9-1 2-2 4-1-4-5 3 0-4-3 8-5-4-1 2-4-5-13 7 0-1-1 0-4-3-11 0-3-3-3-1-2 9-2-4 0-2-4 6 0-10-4 4-5-1-3 7-5-2-1-9-1 1-3 10-1-5-1 5 0-7-2 8-1 0-1-1-2-6-1 3-4-7-1 4-2 5-6 2-7-10 0-2 0 3-6 3-5 5-4-1-7-7-10-1-1-2-11 7-2 2-5-5-6-3-3 6-2 4-5-3-6-6-9 6-2 3 0-9-3 6-1-4-2 7-1-11 0 7-1-6-3 10-7-8-1 2-4 4-7-5 0 8-2-9-1 0-5 8-3-7-3 5-1-4-11-3-3 9-2-8-1 2-1-2-2 4 0-4 0-1-3-1-5 10-1-4-1-1 0 5-7-7-4 8-1-2-1-10-2 0-1 7-1-5 0 7-5 2-6-4-1 0-4 1-4 3-1-4 0-3-1-2-1-2-1 5-3 4-4 2 4 2 2 5 10-2 1 2 1 3 3-2 1 3 1-8 8 10 4-9 0-1 9-2 0 4 0 3 3 1 3 1 2 0 2-6 6 5 0-2 5 0 1-1 2-1 3 2 2 1 2-2 2 2 1 2 1-9 3 8 3 3 1-6 1 4 2-5 2 4 0-6 4 8 3-3 0-1 5-6 3 7 0 1 2-4 7 4 1-1 21 0 4-1 6 3 0 0 2-5 0 7 6 0 10-1 12-9 6 1 9 8 7-8 3 1 4 1 3 4 0-2 1-5 1 6 2-4 2-2 1 2 1 0 6 6 3-4 4 0 5 1 2 0 3-2 0-2 5 5 0-2 10-2 2 9 4-5 1 1 2-5 0-1 2 7 0 0 3-3 1-2 3 0 1 8 3-6 3-6 3 7 2-1 5 1 0 2 4 0 2 0 0-2 4-2 6 6 3-7 6-4 5 10 1 0 1-7 0 0 0 7 2 1 1-5 2-5 1 4 4 1 1 6 1-11 0 5 4 2 3-3 5 1 1-2 0 1 3 5 1-4 2 0 0 0 0-4 3 0 1 2 4-1 2-3 3 4 4 7 2 1 2-2 3-2 2-8 1 4 0-3 4 7 3 4 1-10 0 8 1-9 1 3 2-1 5 6 1-5 1-1 0 0 4 1 4 2 0 5 5-9 1 0 1 3 3-4 1 7 1 2 2-3 1 5 0-7 5 1 4-5 0 3 2 6 3-8 1 2 2 1 4 1 1 2 0 2 1-3 1 0 1-3 0 0 5-3 1 3 1 1 1 2 0-1 2-5 5 0 0 11 5-6-2 12-1-3-1-2-2 11-3-11-4 1-1 7-3 3-3-6-2-2-12 6-4-4-7 4-1-9-3 4-2 3 0-3-6 6-1-3-2 4-3-7-4-1 0 6-1 1-2-8-2 1-2 4-1 3-1-8-1 4-2 1-1-3-5-2-5 4 0-6-4 8 0-6 0 7-1 1-1-5-3 2-2-2-3-2-2 7 0-9-4 9-1-10-1 1-3 9-3-11-1 1-2 2-2 4 0-4-2 1-3 7-6-1-5-3-1 0-2-5-1 8 0-4-1-4-4 7 0 0-4 1-2 0-1-1-4-6-2 6-2 0-7 0-3-5 0 5 0-7-2 8-3-9 0 8-3-1-1 3-3-6-3 2-1-7-1 2-2 5-4-5-17 8-3-5-1 6-1-3-1 1-1-5-8-2-4-1-9 9-1-5-2 6-2-5-1 1-5 0-5-6-2 3-4 3-4 4-1-3 0-6-2 6 0 2-2-9-2 5-4 6-1-3-9-8 0 8-16-6-1 8-10 1-1-5-10 2-9-6-1 9-2-12-7 5-1-4-1 6-5 2-2-2-3-1-4 0-1 2-1-4 0-1-3-1-1 8-9-1-1-8-5 0-6 0-4 5 0 2-3-1-3-1-1-6-3 3-3-2-1 7 0-3-7-3-2 0-1 7-1-3-4-1-2 3-9-2 0 2-2-8-1 3-4-3-7 10 0-7-2 7-1-1-4-3-2-5 0 1-7 0 11 18 2-2 1 3 2-6 3-3 4 8 8-2 6-3 4 1 4 6 7-2 0-2 4 1 1-5 8 2 1 1 1-2 4 9 1-10 2-1 3 10 6-7 4 4 3-3 1-1 4 0 0-1 2 8 3-5 2-3 1-2 1 8 2-4 6 3 1-3 0-3 1 7 1 1 1 1 3-10 4 9 1-6 4 1 0 3 0 4 3-6 2 6 1-10 3 9 3-3 6 2 6-1 3 1 2-4 0-2 2 4 2-4 5-1 7 7 1-1 2-3 1-1 1 2 2-2 4-2 0 4 3 3 4-1 0-7 1 2 0 5 4-3 4 1 5-1 1 0 0 3 5 0 1-1 4 4 3-7 3 2 1-2 2 7 3-9 0-1 4 4 0 5 6-1 0-6 9 3 2-3 8-1 6 3 1 2 2 0 4-5 3 2 1 0 3-2 8 2 0 2 0 5 8-10 3 4 5 4 1-8 0 0 1 7 0 3 2-5 1 3 1-9 7 3 0 6 5-5 0-4 0 5 3 2 2 3 5-1 4-8 2 4 0-5 1 6 1-7 0 4 1 5 3-6 7 0 0 6 5 1 0-4 2 5 3-1 1-6 1 0 2 0 0 2 0-1 3 7 3 0 0-1 1-9 5 5 6 3 1-8 5 0 1-1 2 0 6 1 7-1 3 4 10-4 0 9 6-6 3 3 0 5 3-7 0 3 5 2 1-4 4-4 0 2 0 2 1-3 3-2 1 7 2-3 0-4 1 3 4 5 1-7 2-2 4 8 1-1 6 0 1-7-9 21 0-6 0 6-6-1-2-1-1 3-1 0-3-7-5-1-3 6-1-7-4 0-1 1 0 4 0-2-1 8-2-1-5 0 0 0-2-6-2-3-3 3-2 6-7-11 0 1-2 7-1-2-1-1 0 5-1-8-1-1 0 5-1 5-7-5-2-4-10 3 0-1-2 7 0-8-4 8 0-2-1-4-6 7 0-3-1-3-3 0-2 4-4-2-3-1 0-2-2 5-1-6-1 6-3-8-6 4-1-3-1 1-8-1-1 3 0-6-1 10-2 1 0-3-4 1-1 2-1-6 0-1-1 3-1 0-2 2-2-8-2 4-3 0 0-3-2 1 0 2-5-2-1 8-2-4 0 3-1 1-1-2-2-7-4 9 0-2-2-9-2 10-5-7 0 2-5-2-3 1-5 1 0 3-2-1 0-4-3 6-1-6-4 3-2-2-4-3 0 5-1 1-3-3-8-3-1 8 0-5-9-2-7 7-5-8 0 3-1 3-4 4-3-1-4 1-2-8-2 2-8 1-2-1-2 3-1-1-5-3-5 4 0 2-4-9-2 11 0-3-3 0-2-6-2 9-1-3-1-7-2 9-3-5 0 3-2-5-16-1-7 1 0-4-4 6 0-1 0 4-4-1-4-6-1 6-1-6-6 6-9 2-2-8 0-1-1 11 0-3-4 1-2-2 0-4-2 3 0-1 0-6 0 10-12-8-1 9-2-10-4 7-1-1-6-1-1 1-4-6-1 0-1 3-3 8-2-4-3-5-4 0 0-3-2 3-4 4-2-6-1 0-1 3-1 1-2 4-2 0-2-3-9 1 0 0-1-6-1 4-8 17 3-8 5 5 4 0 6 4 0-10 0 7 1-2 1-3 1 1 4 3 1 2 8-5 0 2 1 0 2-5 1 8 3 0 1-2 0 3 1-6 6-3 2 9 1 0 1-4 1-3 1 7 9-7 3 1 0-1 8 3 1 3 1-6 3 1 1 4 2-1 2-5 1 7 2-1 0-4 1 7 5 1 1-3 2 3 0 0 3-2 7-7 1-2 0 3 44-2 11-1 0 3 3 2 3 2 1-3 0-4 1 11 2-7 1-2 0-2 3 4 8 6 5-3 8 0 2-8 2 11 0-11 3 7 0 3 2-8 4 1 0 8 1-3 2 1 1-8 0 5 1-4 5-1 1 4 1-1 2 0 4-1 3 0 4 5 0-3 0-5 4 2 0 8 2-2 0 2 3 2 3-12 0 4 3 4 6-3 4 0 2-5 3 4 1 7 3-4 1-2 11-1 1-4 6 10 5 0 0-6 1 5 2-2 2-1 4 3 2-7 0 6 1-4 6 0 0 3 5-4 1 4 2 4 4 1 3-2 1-10 2 6 0-5 1 0 1 6 1 4 2-3 2 4 1-6 2-6 0 9 4-4 5-1 9 4 0-5 1 1 0 7 1 1 8-6 1 1 3-5 2 3 1-5 0 10 6-7 5 1 3-1 1-2 0 9 1-1 2-8 8 4 4-2 2-2 3 5 1 3 2-2 3 3 0 2 3-9 1 7 0 2 3-11 0 1 1 9 4-2 1-1 3-6 1 3 1-5 2 4 0 7 5-4-2 6-2 10-2-10 0 4-1 5-3-9 0 9-11-4-2-2-2-2-2 5-4-6-5 0-4 7-2-7-2 11 0-10-1 9 0-11-2 3-5-3-2 8 0 1-1-3 0 0-2-3-4 2-10-3-1 6-2-7-1 9-7-1 0 3-1 0-6-2-6-4 0-1-3 5-1-1 0 1-12-4-3 2-2-5-4-2-6 7-5 1-1-2-5-6-1 4-1-1-3 8-3 0-4-3-8-6-4 1-2 3-3-5-4 5-3 2-1-3-1 3 0-3-4-4 0 5-1 4-3 0 0-11-3 9-2-9-1 11-1-8-2 5 0 3-1-1-4 1 0-5-4-6-3 4-1 2-2-1-3-5-6 1-1 10-3-7-10-1 0-2-3 6-4 1 0-6-3-1-2 2-9-3-1 4-19-1 0 0-66-3-4 3-4 9 0-10-5-1-3 10-5-3-2 0-2 0-2 3-1 0-1-7-3 0-1-2-3 6-4-5-3-2-3 9-2-3-10-1-1 3-2-1-3-3-5-4 0 8-3-3-1 4-1-3 0 0-8 1-7 11 4 4 1-6 8-2 2 2 3 5 1-4 1 5 1-8 1 4 2-5 2 4 2-3 1 8 1-10 1 3 3-4 3 11 1-4 0-4 4-2 1 3 3 7 0-3 3-8 0 9 1-4 4-4 0 11 2-9 1 0 2 0 2 0 7 3 1 0 4-5 2 9 2-4 0 2 4-4 2 2 2 6 118-11 1 1 3 2 3-3 3 1 5 0 6 2 9 3 4 0 3 1 0-7 2 3 0 1 0-2 0-3 5 1 0 5 2-1 2 0 2 5 2-7 1 1 0-1 5-2 3 0 6 7 2-7 1 1 1 0 5 6 3 4 1-11 3 6 5 3 2-4 1 4 1 0 0-8 1 9 6-5 2-5 3 6 3-6 5 4 2 1 1 3 4-1 6-8 1 10 1 0 3 1 15-1 6-7 0 4 1-6 1 6 3 2 4-4 2 3 0-7 1 1 1-2 7 5 4 7 1-8 7 0 0 6 5-6 1 3 2-1 2-4 0 9 3-10 3 3 1-3 13 2 2-2-21 13-16 1-2 3 0 0-5-5-1 5-2 3-4-5-1 3-10 4-2-8-1 0-2 8-1-2-3-4 0 5 0-5-1 3-3-4-1 4 0-8-4 11 0-3 0-2-3-6-4 9 0-3-10 1-6-1 0-4-2 3-10 1-1-2-10-2-1 5 0-5-3 5-7-5-4-1-51 0-145 7-1 0-4 4-3-4-2-1-3-6-1 6-1-1-3 2-1-3-2 5-6-3-2 1-2-8-5 9-4-3-3 0-6-3-3 1-1 6-1-3-1-1-1 3 0 3-2-6-3-1-3 1-1-5-3 5 0-3-4-1-2 10 3 1 0 0 3 2 3 6 0 2 2-8 1 1 2-1 1 2 5 3 7 0 0-5 1 7 1 2 3-7 2 4 7-8 1 0 3 3 1 2 0 0 10 3 0 1 4-10 2 4 0-3 1 5 1-2 2-2 2 9 1-4 3-4 2 8 0-10 5 0 232 2 19-1 12 1 2-2 7 7 11-4-282 16-2-1-3-5-2 0-3 2-1-1 0 5-1-8-1 0-2 6 0 2-1 3-2-7-3 4-2-2-3 3 0 1-1-2 0-1-3-2-1 3 0 4-1-5-5-3 0-3-3 0-2 11-1-7-1-1-1-1-1 1-3-1 0 7 0-1-5-7-1 3 0 4-2-5-1-1-5-3 0 4-5-1-1 12 9-1 1 2 1 0 3 2 1-2 0 0 2 8 7-4 8-3 0 5 3-9 0 8 4-4 1 4 1 1 2-4 0 4 0 2 7-3 0-5 1 3 3-4 0 1 0 7 1-1 1 1 0 0 3-4 3-5-10 13-2-2-1 3-11-4-2 8-1-5-4 5 0-7 0 10-1-5-1-5-1 11-1-11 0 10-1-1-3-5-3-1-1-2 11 15" marker-start="url(#d2)" marker-mid="url(#d2)" marker-end="url(#d2)"/>
<path d="M2810 22l13 7-52 88-40 13 112-2-46 22 17 4 5-9 39 5-133 10-12 13 244 36 101 23-52 5-163 6 191 4-48 7-17 3-245-3 30 16 240 15-19-2-197-3-61 5 203 7 39-3 17 4 15-1 15 6-23 10-4-1-73-5-196 0 181 14 34 1 11 6 7-2 216-5-115 20-7-2-9 0-66-6 0-4-2 9-34-2-110 16 78-8 30 1 1 6 5-4 0-3 7 1 10 3 1-4 0 4 1-1 9 5 2-5 6-3 2 6 6-5 5-2 19 4 23-5 17 8 19 0 4-7 11 5 2 2 3 3 2-8 3-4 27 22 0-5-6 4-3-1-3 3-5 0-4-4-39 2-3 0-3-5-5 6-1-7-4-1-1 2-7 4-10-7 0 8-9-2-2-6-6 2-1-3 0 9-1-1-7-7 0 10-1-8-7-1-4 10-8-2-2-6-4-3-1 10-5-5-1 5 0-11-6 9-10-6-5-1-2 9-1-3-1 2-1 1-4-6-7 0-12-2-3 5-14-1-26-2-368 8 94 2 171 0 120 9 8-1 8-4 2 0 4 1 8-3 1 0 1 3 4 0 3 4 5-2 4-5 6 5 0-4 1-5 1 8 1 3 1-8 0 0 0-3 3 9 0 1 3-3 3-5 7-3 1 8 3 1 4-4 1 3 1-1 7 4 3-3 1-8 5 1 3 2 3-2 11 8 3 0 1 2 1-7 3-2 1 3 1-1 10 2 1-2 3 7 2-1 1-2 12 2 7-2 1-1 7 1 6-6 0 7 1-2 3-3 0 6 2-3 2 0 4-1 3 0 0-2 1-3 5 7 2-4 1 4 4 3 1-2 1-4 2 6 0-8 4 6 0 2 5 0 4-5 1 1 1 5 3-3 1-2 2-1 0-1 0 0 1 12-9 5-5 0-1 0-2-8-4 7-6-5-1 0-12 1 0 5-1 0 0-9 0-1-8 3-3 1 0 7-4-7-2 4-2-3-4 1 0-3-1 6-1-4-4 3 0-3-7 6-2-5-2-5-5 0 0 6 0 3-1-4 0 0-4 0 0-4-2 4 0 5-1-6-4 1-5 5-3-2 0 0-2-8 0 5-3 3-3-3-1-6-1 8 0 4-3-7-1 2 0-1-3-4-2 4-9 4-2-4-3-1-1-2-1 8-2-9-2 7-2 0-1-3 0 1-2-1-1-6-1 3-3-2-4 2 0-2-1 0-1 11 0-8-4 1 0-2-1 8-1-9-1-1-1 8 0 0 0-1 0 0 0 0-2 2-1-4 0 3 0 2 0-5-2 1 0 0-5 4-2-2 0-6 0 2 0 3-2-3-1-4-1 8 0-4 0 3-1-4-1 7 0-7-1 5 0 3 0-1-1-3-1-4 0 4-1 2 0-8-1 7 0-5-1 8 0-11-1 7-2-4 0 3-2-3 0-2-1 9-2-7-1 6-1-2 0 1 0 2-2 0-1-6-1 6 0 0-1 1 0-9-4 9-1-12-1 6-2 2-1 3-4-1-3 1 0-2-1 0-8-6-1 3-3 5-5-6-3-2-5 4 6 9 5-3 9 4 1 2 0-2 6 0 6 2 2 2 1-9 4 10 1-4 2 6 0-10 1 8 2 1 1-3 1-7 1 1 0 7 2-5 1 7 0-9 1 2 1 4 1-4 3 8 0-9 1 5 1 3 0-8 0 8 1-3 1 2 0 1 1-5 0 6 1-8 0-2 0-2 1 4 0-3 0 2 1-3 0 0 1 2 0 2 0 1 1-4 3 5 0 4 1 0 1 0 0 1 1-7 1 8 1-8 2 5 1-4 1-2 0 6 0-7 1 6 0-4 1 7 0 1 0-4 0-3 0 3 0-2 2-4 0 7 1 1 0-5 1 5 0-2 1-5 1 7 1 0 0-4 1 2 0-6 0 7 0-7 0 6 2-7 0 9 1-8 0 2 1-4 0 3 1 1 2 3 3-2 0 0 2 1 6 0 2-5 4 1 5 6 4-5 2 5 5 0 1-8 3 2 4 0 2-2 0 4 10 8 3-4 2 1 4-4 0 7 1-11 12 5 3 5 1-10 2 0 5 6 10 0 6-2 15-2 1 2 0 0 3 2 23-4 0 1 1 1-3 7-13 4-13-3-2-1-8 8-20-5-8 5-8 3-1-11-4 10-7-9-5 5-3 3-2-2-7-1-1-4-4 3-19 0-4-2 0 1-2 6-5-8-1-1-1 10-1-10-2 5-1-4-1 10-5-7-3-3-3 1 0 3-1 5-1-1 0-7 0 1-1 7-1 0-1-6-1 1 0-5-2 0-1 1 0 0-1 0-1 0-1 8 0 2-1-7 0-4 0 7 0-8-1 5-1 2-1-3-1-4 0 9 0-6-2 7-1-2 0-5 0 5-1 2 0-5 0-5 0 8 0-2-1 2-1-3-1-3 0-1-2 9 0-3-7-6-1 0-1 2 0 1 0 6 0-1-2-6-1 4-1-4-4 7 0-1-3-5 0 0-2 4-1 3-2-3-3-1-2 3-3-3 0-4-3 4-5 3-17-2 10 10 2 5 4-1 4 0 0 1 2-1 4-9 1 2 0 0 1 3 1 0 0-3 2 3 0-4 3 10 2-5 1-7 3 5 1-5 1 6 4-1 3-2 1 0 2 0 1-3 0 9 0 3 1-2 2-8 1 2 2 7 0-4 1-2 0-3 1 3 0 0 1-4 1 2 0 8 0 1 2-10 1 4 2 4 0-7 0 8 1-6 2-1 1 5 3-8 1 10 1-6 0 1 1-6 3 5 0 3 1-7 0 8 0-5 3 0 1 7 1-9 2 6 1-6 0 1 1 2 1-5 1 6 0-6 3 11 0-9 0 1 3 3 2 5 1-1 0-8 1 0 6 3 1 1 9-4 2-2 0 7 6-3 4-2 13 7 7 2 11 1 12-9 3 1-37 16 0-6-17 4-11 1-9-3-5 6-1-2-5 3-4 1-2-5-1-5-6-1-4 6-4-4-1 3-1 4-1 2-2-9-3-3-2 2-7 6-3-5-5 6-1-8-9 9-3-3-3-1-1-4 0 5-11-1-3-6-31 4-283 16 322-6 3 7 4-1 6-2 30-3 0-1 2 0 31 5 19-6-3 21-28 0-18-9-3 10-1-7-42 3-10-7 62 18 104 15-60 3-16-2" marker-start="url(#cr)" marker-mid="url(#cr)" marker-end="url(#cr)"/>
<path d="M3237 211l-17 13 14 3 1-1 2 0 11 0 8 1 1 1 2-3 8-7 0 2 2 1 4 13-9 0-5-3-1 5 0-2-2 3-1-8-7 4-3 0-2 7-7-11-1 8-2-6-1 9-2-3-1-2-4-4-4-3-1 3-2 0-1 2-1-4-7 9-6-7-2 3-5 13 9-5 13 9 7 1 2-9 6 9 4-9 1-2 1 2 1-1 2 1 9 2 3 5 2 1 12-11-8 20-1-3-1-5-1 8-5 2-4-8-2 1-10 7-5 1-3 1-3-2-6-10 0 3-4 3-12 4 0-4 0 11 2 4 8-6 8 5 1 1 0-4 2-4 12 5 4 5 1-4 1 2 9-6 2 2 0 2 0 5-10 10-3 1 0-3 0-7-1-1-1 10 0-3-7 1-2-5-1 3-4 3-1-2-5-1-2 3-2-4-7 3-3-5 0 20 3-7 2 5 2-5 2 2 4-6 9 4 1 0 1 3 4-4 7 4 3 4 6 0 4-10 1 18-3 5-7-2-2-8 0-1-7 1-1 3-1 5-6-7-3-2-2 6-4 0-15-4-11 4 18 11 2 5 1-10 3 6 12-6 4 9 9-5 1 7 2-2 4-4 2-4 1 4 8 1 8 12-2 0-9-4 0 3-2-5-4 0-7 10-1-1-2 2-12-1-7-9-2 4 0-1-1 2 14 9 11-2 4-1 3 5 31 18-17-10-15 7-29-7-7 8-1-2-10-4-5 7-14-11 2 19 4-6 4 11 5-6 5-2 9-4 2 10 1 0 3 0 1 1 12-9 2 10 7-6 0-4 8-1 17 23-24-8-10 7-1-11-6 7-6 3-1 0-6-5-4-5-5 9-21 4 3 1 2 7 2-2 4-1 21 5 9-9 5 10 0-9 2 1 0 3 2 2 1-2 2-3 6 7 6 10-2 1-6-10-3 5 0 5-5-4-1-1-4-4-9 3-4 7-1-9-1 1-3 7-3-9-1 10 0-8-6 8-2-10-1 9-6 8 12-3 2 4 3 2 2 2 0-3 6 2 0-7 7 0 6 6 3-2 2 2 0-3 1 3 1-4 7 2 5 16-4-2-1-7 0 5-1-1-3 3-1 2 0-5-10-2-3 6 0-3-1-1-3 4-6 0-4 1-4-3-6-4-6-3 6 19 11-1 4-2 2-2 2-3 6 4 0-3 7 3 3 0 1 7 2-3 2-5 6 8 6-6 11 12-6 5-4-2-6 1-2 0-1-9-3 9 0-7 0 6-1-3-2 5-4-5-3-4-1 7-23 0-3-3-2-4-15 7 15 7 3 1 9 0 5 7 1-9 3 1 6 6 1-2 2-6 7 4 5 6 3-2 1-6 1 3 2 5 4-11 0 12 1-10 2 9 2 1 9-3 3 7-13-2 0 6 0-2 0 4-8-4-3-1-9 4-7-3-1-6-2 12-3 0-3-2-1-2-1 0-1 2-4-4-5 2-8-6 0 16 1-3 2 5 1-2 5-3 3 5 4-3 2 4 0-5 5-2 5 6 6 3 2-2 5-6 2 3 2-3 4-1 6 4 4 0 0 2 4-5-6 10-10 4-5-4-3-1-3 11-3-4-50-5" marker-start="url(#d5)" marker-mid="url(#d5)" marker-end="url(#d5)"/>
<path d="M3234 251l-16 52-15 2 60 27 73 7-30 14-45 19 22 6-13 5-1-8 9 12 18 3 15 8-2 9-18-2-95 12 88 0-1 5 0 1-25-2 54 29 0 3-24-1-36 3-17-9 61 15-8 10-42-3-26 5 83 13 11 8-28 17 33 1" marker-start="url(#cr)" marker-mid="url(#cr)" marker-end="url(#cr)"/>
<path d="M3537 309l-13 0-6-3-1-4-7 4-5 0-2 1-6-3-1-3-3 4 0 12 11-4 4 5 1 0 4-2 9 5 8 0 3-9 3 8 14 15-6-5-4-4-9 7-2-6-6 2-7-1-6 3-1 3-4-2-6-7-1 4-2 7-3 9 5-8 0 5 1-3 5 1 3 8 1-3 10-3 1 5 1-3 8 1 5-7 2-1 0 5 2 2 1 4 9-3-21 4-2 0-1 7-8 0-10 3 0-5-10-4-6-1-4 6-1 1-3-1-6 5-75-4-8-2-7-2-32 18 2-5 5 6 6-5 8 4 7-7 3 6 0-8 1 10 4-4 1 1 1-8 1 1 7-1 3 1 5 2 9 2 10 2 9-2 1 5 1 0 5 1 22-3 0-6 1 5 2 1 2-5 12 6 0-1 1 0 8-2 7-1 3 0 4-4 1 0 3 7 1 3 6-5 9 0 1-5 4 7-2 6-4 0-13-2-7 10 0-1-6-4-5 5-6 0-3-7-9 1-3 7-3-10-2 3-5 5-4 1 0-1-4-1-1-5-3 5-3-5-2 0 0 7-3-6 0 4 0-3 0 2-2 2-8-7-1 5 0-7-4 6 0 0-7 0-4 3 0-2-2-1-2 6 0-2 0-7-16-1-1 6-1-6 0 4-4 0 0-1-2 1 0 0-1-4-6 2-5 8-1-3-2-8-6 4 0 0-3 3-1-7 0 1-1 4-5-1-3-2-3-2-2 6 3 15 6-8 0 8 5 1 9-3 2-7 3 6 2-3 3-2 0 2 2-3 2 9 4-5 10 2 4 0 6 0 5 4 3-8 3 2 1 1 9 5 1-11 5 3 2 3 2-2 3-2 3 5 4-7 2 8 2-1 1 1 1-2 1-1 9 0 1-1 4 7 10-7 2 0 1-2 6 3 1-3 2 8 1-4 2 5 1-9 0 0-4 16-16-2-1 2-5 2-2-2-1 1-3-5-4 8-1-3-4 0-5 0 0 4-4-3-3 2 0-8-9 0-1 6-1-3-4 3-1 1-2-7-1 2-26-3-6 5-12 0-3 1-12 0-1-5-2 4-2 4 0-3-3-2-7 1 0 4-4-9 1 11 14 5 4 6 2-10 2 3 1 6 6-8 2 1 8-1 1 6 0-7 1 8 1-3 7-4 4 8 2-2 7-1 7-1 6-1 3 1 1-4 9 6 0 1 17-2 0-6 2 0 4-1-4 14-14 1-3 6-2-7-5-1-3 1 0 7-2 1-1-3-6 1-12 0-1 2 0-9-2 5-4-4-1-1-3 2-1-1-1 7-3-9-5 11-1-5-9-1 0-2-6-1-6 7-1-4-2 2-7-3-3-3-2 4 3 14 1 0 2 4 3-6 7 4 1 0 0-5 1 7 0-1 1-6 2 7 6-2 4-5 1-2 1-2 1 8 3-7 17 10 4-7 2 6 10-9 9 1-14 12-3 4-7-5-9 3-4 5 0 2-1-1-1-7-1 4-2 1-10 0-5 0-6-6-7 1-11 9-2-6 5 13 2 3 2-3 0 1 1-4 3-4 1 5 0 6 0-4 6 4 2-3 4-7 2 3 9-1 7-1 243 7 0-3 0 0 8 6 4-8 1 7 0-8 9 18-5-6-2 5-4-4-13 1-1-2 0 0-244 2-6-4-8 4-9 5-2-8-7 8-4 0-6-7 7 14 3-3 3 5 2 2 0-2 3 5 0-6 2-4 3 1 20-3 240 2 5 0 3-1 5 1 6-2 10 0-294 13-1 3-1 3-2-6-1 9-1 1-1-3-5-2 0 7 3 5 4-4 1 3 10 6-9 11-7-4-1 5-3-1 1 6 3-1 3 2 206 17 0-7-2 4-5 2-2-9-2 10-2-7-6 3 0 4-14 2-3-2-187-1 155 15 1-2 5 1 4 0 2-1 1-4 4 2 1-4 1 3 3 3 5-10 7 10 1-2 9-7 8 11 6-11 1 3 2-3 2 3-19 14-3-5-2 8-2-6-1 8-3-6-12 2-1-1-1 1-1 2-2 2-1-9-2 4-8-3-9 1-10 7-6 5 6 7 0-9 7 3 4 3 0-7 2 3 0 2 1 6 0-3 4-8 2-1 2 9 4-7 4 0 2 3 1 2 6 1 3 0 3-5 1-1-13 11-8 5-1 2-3-4-1 3 0-6 0 5-8 3-3-3-3 4-2-7-1 6-5 0-6-8 4 14" marker-start="url(#d5)" marker-mid="url(#d5)" marker-end="url(#d5)"/>
<path d="M3618 368l28 2 16 1-14 5-2 1-2 3-3-6-1-2-1 11-1-3-1 0-1-2-5 3-2-6-2 3-3-1-2 0-1 4 0 1-4-5-2 3-4 2-1 2-29 10 7 0 7 1 6-7 1 2 3 4 0 0 2-4 2-5 5 6 0-5 3 1 1 0 0 6 1-4 2-3 2 1 1 8 5-5 2 3 1-6 0 1 2 1 2-2 3 2 0-5 2 9 1 1 6-8 1 3 3-2 3 7 1-5 3 5-3 8-1 5-2 0-1-6-2 2 0-1-5 1-1 5-4-4 0-5 0-3-2 6-4 4-1-9-4 11-1-6-2 0-2 3-2-3-5 1-5-3-2 2-1 3 0-3 0-3-1 6-10-4-1-3-3 1 0 0-1 4 0 3-1-4 0-2-2 2 0-4-1 2-3 3 0 4 0-4-1 3-1 1 0-3-4-4 0 5-6 10 8 1 0 2 2-4 7-3 0 1 1-3 2 7 2 3 0-9 0 7 4-4 0 5 2 1 0-1 3-9 2 9 2-3 0-3 1 7 1-10 0 6 2-5 1 9 2-8 2 6 1-2 0-6 2 5 6 2 6-1 3-6 6-1 2 1 3 4 4 6 2-6 9 2 2 4-12 5-13 0-6 0-5-3-4 6-12-2-1 4-9-8-10 6-1-1 20 11" marker-start="url(#d14)" marker-mid="url(#d14)" marker-end="url(#d14)"/>
<path d="M3363 410l82 12 41 21 15-6 16 5 13-4 88 3-117 5 42 11 36 10 44 5-12 6-262-3 369 22-6 6-10-8-80-1-34 0-25-1-162 10-35-2-16 10 2-3 99 0 169 2 36 1 47 2 8 2 24-6 11 3 130 16-6-8-41 8-19 0-33-2-18-8 0 8-9-7 0 0-1 3-3-4-12 7-14 1-2-6-4 4-13 4-4-5-8-7-316 1-11 11 20 9 71-5 13-3 102 8 92 0 2-5 14-3 4 0 8 4 15 6 15-5 1 1 7-4 3 1 46-3 7 0 7 6 15-2 1 5 0-3 0 4 23-6 5 0 8 7 2-3 2-4 7-3 5 6 2-5 6 0 8 8-1 11-5-4-1-5-7 6-2-2-8 0-13 1-3 3-1 3-4-3-2-6-7 6-9-9-7 0-22 3-6-1-4 3-12 4-9 2-18-3-8-2-11 4-4-1 0-2-5-3-9 1-8-4-29 2-103 8-2-9-176 15 51-1 103 5 119-4 7 5 16-8 5 5 1 5 11-10 15 6 1 3 6-7 6 4 1-3 11 5 3-8 6 7 1 2 1-5 1 0 12 1 5-6 12 11 4-6 3-4 1 5 8-2 1-3 14 4 11-4 18 1 1 2 0-1 22-2 11 2 7-4 0 2 8 0-24 21-14-6-1 5-8-10-13 1-2 5-14-6-10 1-2 0-11 1-15 7 0-6-13 4-22-3-10-2-7 1-4 7-1-8 0 3-10-1-7 3 0-3-16-4-1 3-83 3-52-4-17 3-34-3-115 21 40 0 0-8 42 5 80-5 122 3 2-3 38 4 10-2 19 2 18-6 12 2 4 4 4 2 6-2 18 0 15-4 18 1 0 3 18-1 3-2 0 6 22 0 11-4 3 0 2 5 1 4-3 8-5-8-1 6-4-1 0-1-12-1-7 6-8-1-5-9-2 10-15-6-11-4-21 3-10 5-12-5-1 6-2-9-11-2-8 7-12 3-20-10-140 12-166-12 57 13 41 2 27 5 4-7 21 4 27-1 16 1 100 6 0-9 7 10 1-9 11 8 8-9 3 0 1 2 16-3 33 8 1-7 3 9 4-8 6-2 0 0 2 6 22-4 8-2 17 9 10-6 1-3 3 6 2-1 9-4 13 2-3 10-7-1-7 3-20-3-37 1-6-1-5 4-5-2-10 4-1 3-19 0-7-6 0 0-6 3-7-5-18 1-10 3-3-6-8 9-3 2-105-6-2-4-81 11-8-11-20 6-12 3-1-5 0 3-9-1-1-1-20 14 9-7 13 7 13-8 1 0 15 2 22 1 18 5 18-1 20-5 84 2 34 1 44-4 2 7 1-4 4 8 6-2 4-6 10 4 8-5 2 6 2-5 0-1 4-1 5 2 7 7 6-3 12-2 9-5 6-1 2 5 4-3 49 1-40 16-16 5-4-2-29-9-9 2-1 4-14 3-17-4-15 1-2-4-10 0-7 9-68-10-119 3-1 3-9 4-18-5-2 3-6-4-13 2-14-7-4 4 0 1-8 5-13-7-4 15 17-3 8 2 8-6 5 8 2 1 1-5 17 2 16 5 0-1 4-6 7-2 10-1 5 2 7 9 28-8 80-2 83 4 14 2 9-1 9 5 10-4 25 2 15-6 6 4-5 10-2 3-6-5-1 6-4-4-2-2-2-2-7 1-3 1-8 5-14-8-7 3-7 6-17-2-14-7-10 6-2 3-10-2-6 2-81-4-35 1-86 1-1 3-5-11-11 5-27 6-18-2-34 13 28-7 45-3 238 5 0 6 5-1 11-7 12-2 8-1 4 11 3 1 24-2 6-7 18 8 11-11-7 13-1 6-1 3-2-4-6-1-10 4-6-6-1 1-4 5-5-1-7-7-15 7-8-7-12 7-4-2-1 1-9-1-2-4-60 5-20 2-24 1-53-2-104 1-58 6 214 1 31 3 49-4 3 7 28-4 1 3 7 1 1-4 3-5 5 3 3 2 15 2 20 0 31-2 2-6 15 2 18 8-48 2-2 3-6 7 0-7-15 3-7-3-3 9-2-10-6 9-1-8-1 4-3-4-3-2-4 1-9 4-2 2-1-3-74 3-187 3 132 2 34 2 39 7 57-1 10 2 11-7 159 5-25 15-43-2-47-9-17 3-6 8-87-6-45 5-7-1-4-5-27-3-36 0-80 1-32 7 50 10 28 1 38-6 38 3 78 0 141 0 12 4 16-6 3 2 2-3 4 9 1-6 6-1 19 2 0-2 2-5 7 3 4 5 18 15-9-8-4-2-1 1-22-1-3-1-1 4-17-3-1 6 0-4-8 9-15-2-8 1-6-2-6 3-1-4-153-8-22 12-83-1-94-4 158 16 45-10 78 1 60 9 12-7 25 7 13-8 8 5 4-2 9 2 16-1 12 2 2-5 2 6 4-8 7 0 0 9 1-5 3-4 1 1 15 10-18 6-10 0-1 3-22-2-53-2-16-5-2 10-9 1-12-8-17 0-24 1-7 7-24-8-110 1-93 5-16-3-17-4-4 7-10-3-7-7-10 10-52 2 15 11 26-4 0-1 9-5 2 4 6-4 10 10 1-5 4-1 21 5 2 2 11-8 15-2 1 7 0 1 2-5 1 2 4 3 11 1 5 0 2-4 5 2 3-1 11-7 22 1 102 1 25 1 59 7 2-1 12-6 6 7 9 1 5-7 0-4 1 6 27 3 3-6 30 6 3-7 17-2 0 7 14-5 9-1 4 2 5 0 21 19-1-7 0 3-5-2-1 4 0 0-10-5-8 0-7 3-3 2-1 2-59-7-17-2-12 10-4-9-10 3-10-5-25 8-6 0-164-6-3 4-4 5-6-2-8-7-6 1-10-4-6 5-5 1-13 2-1-6-7 9-9 1-6-11-1 6 0 3-6 0-9-5-1 3-3 4-19-2-3 0-5-9-11 10-6-6-2-3-4 8-2-3-9 5 9 8 10 1 10-8 3 11 0-4 43-2 13 6 2 0 23-8 44 1 8 5 9-6 6 2 0 2 1-6 0 4 5-2 2 7 8-2 139-3 2-3 1 3 9-3 0 7 7-4 5-3 7 6 33 0 2 2 8 1 2-7 19 7 0 0 1-6 22-4 2 2 3-4 13 12 9-7 2 6 1-4 17 3-3 3-6 3-1 4-8 2-3-8-8 6-13-4-18-2-2 0-21 2-2 3-4-2-1-2-3 2-9 3-1-4-21 6-5-4-5 3-6-5-9 7 0-8-4-1-1 0-7 0-2 9-14-8-7-3-1 9-12 0-102 2-1-3-1-7-8-1-5 12-10 0-12-6-11-5-6 2-10 2-9-5-4 6-30 3-5-9-1 5-18-1-1-4-2 2-4 4-6-6-15 8-3-3-14-5-2 5-2-4-12 2-5 6-4 1-3 0 2 13 6-8 4 2 1 3 0-2 16 5 1 1 13-10 3 3 2-4 1 5 1-4 2 8 13-1 1-1 16-3 5-4 1 6 5 0 17 3 8-10 1 7 6-6 7 10 2-1 7 0 6-3 12 4 4-2 6 2 0 1 10-9 3 1 3 5 5 1 7-10 3 1 4 4 0-2 4 1 0-2 3 7 5 1 11 0 70 1 3-5 2-6 22 5 2 5 0-5 3 4 7-2 3 3 8-7 2 8 4-4 23 3 5-4 5 6 17-10 11 2 10-3 66 5 21-1-117 8-13 0-12 10-3-10-5 1-8-1-1 7-2 1-3-2-4-6-2 2-7 1-18-3-8 0-4 6-4 0-78 3-6-2-2-4-5-3-3 3-7 0-4 0-4 7-4 0-2-8-5 2-1-3-17 9-10-8-2 3-5 0-7 2-9 2-5-2-1 3-4-5-1 4-2-5-5 7-1-6-34-1-1-5-16 6-2 0-19 0-2 0-3-4-19 1 34 18 2 0 13 1 16-9 8 3 15 0 17 8 20 0 4-3 25-3 11-3 1 5 10-3 23 5 4-1 15-5 96 2 3-2 16-2 24-1 3-1 2 8-9 5-58-1-94 12-2 0-4-10-5 7-20 0-11 0-3-7-3 4-8 2-16-5-7 3-2-2-3 8-9-8-2-1-7-2-18 1-17 7-3-6-4-1-8 6-6-7-52 9-29-7-124 8-25 2 1 8 1 0 2 1 4-2 4 0 18-2 0 0 2-1 15 5 189-6 9-2 10 0 2 0 8 5 6-7 12 10 9-3 17 4 7-10 2 9 2-5 1 3 32-1 1 5 8-1 16-11 0 8-27 5-2 0-3 1 0 2-5-3 0 7-4-4-31 3-5-5-4 5-2 4-2-6-16-1-10 2-30-4-171 10-10-2-14-2-2-5-36-1-1 10-1-4-2-5 0 2 0 4 4 9 14-3 5 8 2-9 12 4 10-2 5 1 4 0 5-4 5 3 4 4 1-5 5-2 1 10 3-8 128 4 89 5 12-7 1-1 8 8 1-1 3-1 5 1 10-7 3-3 5 11 11-8 8 7 6 1 3 1-14 2 0 3 0 2-18-3-16-2-14 6-7-8-226 5-3-6-12 11-5 0-5-3-1-3-4-1-7-2-9 4-3-5-19 8-2-8-13 0-11 20 4-5 20 4 9-5 32 1 1 4 4 1 0-6 16 2 10 3 212-4 3 6 25-5 29-4-32 12-36 7-214 0-5 1-17 2-1-2-4-8-4 9-30 2-3-9-6-2-6 2-2-2 0 7-3-1-3 9 9 3 4-7 23 6 1 1 8-1 7 4 7 2 8-6 7-2 10-3 7 1 4 7 2 1 7-9 143 7 11-4 10 0 7-3 6 10-6 1-7 5-127 2-34 4-4-8-2 2-2 6-5-11-1 4-1 1-1 4-3-3-1 0-1 3-4 0-5-6-2 6-3 2-25-1-6-9-4 9-20 2-5-8-5-3-3 2-1 1-11-3 10 17 16 3 3-4 2-3 2 10 11-10 5-1 0 3 2 4 11-6 4 9 10-9 3 3 2-4 6 3 3 4 3-1 3 0 11-3 72 4 25 3 17-9 24-2-19 13-48 6-4-2-4 3-2 2-61-3 0-7-7 11-8-7-15 4-3 2-15-4-4-1-3 4-8-8-8 7-23-7-2 8-5-4-5 5-3-5-3-3 2 21 7-6 2 3 1 0 3-6 2 2 2-1 1 5 14 1 4-2 10 5 15-3 4-7 1 3 13 3 2-3 3-1 2 2 23 0 74 11-66 0-16-1 0 7-39-2-1 0-1 2 0-6-3 3-6-3-4 6-18 0-1 0-20-6-1 17 3-1 17 0 2 1 6-2 26-7 24 11 0-4 6 1 3-2 15 3 7 8-6-5-1 11-2-3-17-2-3-2-7-1 0 4-1-6-1 8-4-3-3 3-6-7-1-3 0 9-4-8-18 1-18 1-8 5-2 10 14 6 4-6 12 1 23-3 9 1 14 6 6-11 2 5 12 7 2-7 5 2 51 1 11-4-67 12-2 4 0-7-2 7-2-6-6 7-3-9-2 7-1 3-22-8-4 9-6-3-1 4-4-4-1 3-7-7-10 0-9 8-1-8-3-4-9 4-3 3 0-6-3 6 13 8 23 1 5 0 32 7 3-1 2-7 3 7 11-7 9 1-8 12-7 2-1-1-4 6-5-5 0 6-15-6-5-2-3 1-13-2-5 3-13-6-5 7-3-5-3-1-7 1 9 11 3 0 8 8 4-9 8 9 4-9 4 1 16 11 10-12 11 13-4 3-8 8-2-10 0-1-5 9-7-2-2-7-13 9-2-10-4 5-11-3 7 17 0 0 5-3 11 0 2 6 5-1 5-8 3 4 5 1 2 5 18-7 1 0-17 12-6 1-3 4-3-8-4 6-2-4" marker-start="url(#d28)" marker-mid="url(#d28)" marker-end="url(#d28)"/>
<path d="M3410 407l-9 0-45-5-3 17 8-9 3 9 44-7 4 0 4 4 15 2 5-9 10 5 4 4 16-6 12 3 14-1 6 4 8 1 35 5-61 4-12-5-29 6-10-8-5 11-1-9-9 8-18-8-13-1-6 2-88 4 21 8 11 1 25-3 2 1 8 7 4-7 9-2 35 9 6 2 18-5 40-5 9 4 5-1 18 2 3-6 4 5 60-6 20 10-19 8-20 3-16 0-8-3-5 4-50-4-19 1-4-4-2 8-33-9-13-1-33 10-2-3-2-6-7 0 10 13 8 8 2-11 3 9 15-7 25 7 9-6 26 7 2-8 33 6 26-2 14-5 0 6 12-5 22 0 16 3 21-5 13 6 13 10-31 8-6-6-7-4-22 9-10-3-4-4-4 3-18 2-6-1-8 2-11-2-9-7-12 0-13 11-29-11-16 4-2 6-25-1-4-3-12 2-9 8 14 1 36-3 4 4 1 4 4-6 2 5 21-8 5 5 16-3 14-2 11 8 10-10 36 6 29 1 5-3 11 7 17-2 23 2 5-9 17 10 13-2-13 4-25 5-16 0-17-4-7 3-37 4-9-3-14-1-7 5-71-9-29 4-1-4-3 2-25 7-12-1-9-3-9-5-3 0-5 11 18 6 47 3 16-1 13-1 50-8 5 5 67-5 4 4 33-3 51 9 45 10-4 4-61-2-5-5-27-1-11-2-14 4-19-4-10 9-13-8-5 7-6-6-4 3-10 3-6-8-5 6-26-7-14 9-14-6-1-3-15 5-11-1-7-1-14 2-1-4-10-1-1 0-19 0-11 12 4 5 10-2 6 5 4-4 12 4 99-4 8 3 11-2 22 2 35-1 0 1 42 3 18-3 38-1 18 5 12-8-27 12-6 4-39-5-35-3-13 6-41-3-24 1-35 3-2-6-19 9-13-8-23 9-8-11-8 7-28-6-3 14 3-1 5 8 4 2 6-4 5-6 2 4 6-5 10 2 25 3 0-4 8 0 39 5 28 0 57 0 13-7 3 9 10-7 43 3 50-3 17 11-12 10-5-6-3 1-5-2-46 5-10-3-14 0-23-5-10 4-21-1-5-2-12-1-3 10-25-11-1 11-3-8-16 1-2-3-1 9-9-8-7 8-1-8-32-1-16 5-20-1-5 6-14-9-17 3-3 4 1 7 9 3 39 4 3-10 6 11 11-6 1-5 24 4 25-4 21 4 3 6 8-7 2 8 22-2 0-7 39 3 9 5 75-5 32-3 0-2 12 7 10-2 41 12-89-4-11 4-11-1-1-4-3 3-14 1-13 0-12 4-29 1-12-6-66-1-12 5-3-4-12 6-42-5-52 10 10 4 3 3 31-4 22 2 23-3 50-4 12 11 2-6 3-1 8 4 8 1 2-7 17-2 21 10 19-4 3-5 21 2 16 0 34-4 2 9 3 0 2-5 5-3 23 1-2 10-8 2-16 4-2 2-13 0-3-4-2 0-11 3-12 0-15-6-11 2-20 8-7-3-3 3-17-10-2 8-39-2-2 0-7-3-33 0-38 2-38 4-22 7 2 7 9-9 64-3 55 5 5-2 12 1 36 1 5 3 4-4 7 5 1 1 4 0 3-3 15-3 14 7 5-7 5 2 3-1 4 0 5 1 7 3 13-2 5-7 15 7 6-4 1 0 4 0 8-3 3 7 19 3 31-8-16 15-14-3-6 7-1-2 0-6-10 2-1 6-6-8-1 8-8-6-12 4-15 0-1-7-1 11-14-5-4-4-8 1-2 4-1 2-2 1-1 0-1-3-4-3-5 6-6 0-1 1-4-2-10-2-7-3-13 6-5-4-2-1-9 2-6 2-1-1-2-6-3 4-10-2-20-1-16 1-13 5-4 1-6 0-5 0-4-9-50 3-15 7-2 1 0-10-35 17 2 1 12 0 11-7 14 2 41 5 7 3 11-4 14 4 11-3 5-5 9-2 6 10 5-2 9 0 10-4 1-2 10 9 5-10 1 8 19-2 5-3 2 2 3 2 10-4 1-3 8-1 1 6 5-5 6-2 0 11 0-4 2 4 3 0 8-6 14-3 8 3 2 3 2-6 2-1 7 11 0-2 1-9 0 1 1 6 1 2 6-5 1 1 1 3 1-6 4 2 4 6 3 0 3-2 6-1 2 3 10-8 1 1 11 6 43-6-45 12-12-2-1 9-5 0-5-9-10 3 0 6-2-3-5-1 0-6-2 0-7 0 0 2-4-1-11-1 0 4-1-1-10-2-1 5-6 4-2-11-1 8-14 2-4-4-2-2-4 1-4 0 0 0-4 0-5 3-1-4-1-4-2 11-2-1-5-1 0 2-3-5 0-2-1-2-2 5-4-5-2-1-2 8-2 0-9-9-3 7-4 0-10-2-4-2-4 7-8 2-12-5-35 4-31-4-44 4 0-3-2-4-13-2-9 14 7-1 16 6 45-5 10-2 8 8 8-2 5-2 24-2 10-2 5-1 1 8 11-2 4 0 8-6 6 1 1 3 1-3 3 6 1-4 3-3 1 4 8-3 1 7 4-5 4-3 3 11 14-6 1-4 2 7 5-7 3 5 1 0 2 3 1-5 11 3 0 0 6 1 8-8 5 3 0 8 7-10 0 1 0 3 5-2 4 6 4 1 3 0 4-6 9 3 5-6 2 4 8 3 7 2 0-1 9-1 3-6 10 8 25-4 34 5-7 6-35-5-17-1-14 1-13 9-2 1-2-9-9 10-11-10-2 5-8-5-2 7-1-4-1-2-2 7-1-2-8-6-2 5-1 5-1-8-1-1-2-2-11 9-2-10-12 9-3-3-7 3-1-9-2 3-4 9-2-7-2 3-12-7-2 1-2 2-1 8-4-10-9 5-2-5-1 5-4-2-4-1-11 5-3-6-2 9-3-2-6 0-1-3-8 1-5-7-17 0-7 5-11 1-21-3-27 3-24-1-10-5-17-1-7 23 16-7 9 6 25-7 51 4 22-5 5 10 3-8 7 2 2 1 4 0 17-3 21 2 4-3 4 7 1 2 13-5 0 2 7 0 14-3 2 0 10 0 12-5 2 1 1 10 5-9 3 8 3-4 1-4 3 8 8-1 5-9 1 6 1-1 1 3 1-2 0-4 9 6 12-8 10 0 1 10 10-5 13 4 6-5-1 14-15 2-4-7-1 7-12-3-8-1-3-4 0 5-1 4-3 2-6-5-4-3-1 4-1-4-1-1-3 5 0-1-3-6-2 5-5 1-25 2-2-7-1 10-4-1-2-7-5 3-6 4-1 0-1-10 0 1-8-2-11 5-3 7-4-11 0 2-3 2-2 4 0-3-2 2-33-8-25 9-13-9-46 9-11-9-25 6-20-4-12 16 11 6 20-8 41 6 0 1 4-10 0 11 3-6 25 3 5-4 15 6 8-7 2-1 21 5 5-5 4 4 5 3 7-2 6 2 0-3 7 1 3-5 5 0 15 8 0-5 1 3 9-1 3-7 5 7 5-4 10-1 2 3 0 2 2 1 2 0 6 1 3 1 5-7 5-2 1 5 5 4 2-10 4 2 5 3 10 6 14-9 7 2 12-4 5 5 16-6-25 21-6-7-2 5-4-3 0 1-18-1-9-1-8-1-10 7-1-5-15-3-5 6-2 1-3 0-1-5-2 4-16 3-4-5-7-3-3-2-22 10-8-8-1 9-43-1-4-7-3 8-11-6 0-4-1 10-8 0-31-4-4-3-3 6-20-10-8 8 0-7-17 9-3-2-23-1-1-7-12 14 56 7 42-1 6-5 16 7 13-1 20 2 21-7 9 4 22-8 1 6 11 0 7-3 0-2 3 7 12 1 5-8 2 3 12 1 1-4 20 1 5 1 1 0 3-1 15 4 23 1-48 11-5 4-15-8-2 0-3 6-1 0-15 1-12-8-7 0-7 8-22 0-17 1-4-9-5 10-8-8-31 8-9-3-33-8-2 6-8-5-6 3-5 0-24 5-17-5-9 4-1-8-4 5-61 6-108 6 176 2 11 4 17-1 8 1 41-1 22-4 7-6 38 3 17-1 14 7 19-7 7 9 32-7 10-1 10 2 3-2 13-3 2 24-49-9-15 4-12-6-13 10-4-5 0-4-29 9-5-2-1 1-10-5-69 5-16 1-2-9-12 8-22-6-83 6-115 9 87-4 48 2 71 2 4 2 12-3 5 5 0-6 3 2 0 1 3 0 6 4 29-12 53 2 37 5 38 3 59-8 13 3-85 12-12-3-65 0-66 0-2 5-5 2-6 2 0-6-3 2-2 2-2-7-15 0-3 9-81-4-70-3-23 16 29 1 11 3 2-10 2 5 4 0 3 1 1-3 15 5 72-1 4 1 6-2 2-7 9 7 0-6 17 8 19-7 12 4-5 10-6 0-5 5-2-3-9 1-2 1-7-3-8 2-5-3-9 6-3-8-4 4 0-1-11 0-30 0-9 4-1 1-4-6-25-4-14 0-6 2-2-1-1 9-5-3-7-6-1-1-3 5-12-1-4-4 0 8-1-6-14-1-7 9 2 6 5 1 21-5 4 3 2-2 8 9 2-10 9 1 2-1 5 4 11 0 6 4 3-7 6-2 6 6 13-5 1 3 5 7 4-2 9-5 2 7 1-10 3 10 11-5 15 4 2-6 0-3 0 10 1-3 0-6 1 8 14-2 5-1 11-4 1 2 1-5 4 2 1 6-48 5-3 9-3 1-1-3-3 1-5-7-7-2-9 10-6-5-1 5-1-5 0 3-30-3-9 3-32-3-14-3-2 14 2 4 8-1 16-2 2-4 1 7 10-2 5-1 14 5 14-8 13 1 1 7 1-5 11-3-31 13-18 3-22-1-20 1" marker-start="url(#cr)" marker-mid="url(#cr)" marker-end="url(#cr)"/>
<path d="M3794 517l-6 8-6-4-92 11 51 4 20-7 17 0 1 3 5-1 13 6 16 8-8-3-10-2-2 9 0-4-7-3-39 7 0 0-18 14 5-7 14 7 14-3 1-6 22 7 10-2 67-7-37 22-17 0-22-10-4 6-17 4-8-4 0 0-12 5-31-11-4 21 14-8 5 3 12-3 4 8 3-9 32 4 5-1 4 8 2-7 22 6 58 5-73-1-19 1-3 7-18-7-55 16 38-4 70 11-17-1-304 145-19 5-8 5 9 4 32-2 289 7 4 2 74 13-37-1-10-7-10 4-2 2-1-1-11 2-13 13 16-10 1-1 7 2 11 8 2-9 16 6 5-5 2 0 0 4 1-2 3 7 1-1 4-1 7-8 6 4 6 3 4 2 7-5 51 12-21 4-10-5-16-4-6 9-15-10-7 1-1 2-1 7-6-6-2 0-8-1-4-1-5 1-6 0-2-2 19 14 32-3 2 11 2-10 4 0 3 7 3-5 0-2 9 3 10 4 2 2 2-3 16 0 7-2 9 11-4 8-55-1 26 1 9 2 4 1-806 77 88 15-34-7-55 2-2 6-4-11 18 23 46-2 11-6 0 5 2 3 2 0 3-4 2-2 1 0 2 2 1-5 0 2 1 7 1-3 8 0 0 8-4 7-11-11-13 1-1 4-56 9 21 3 9-4 3 1 15 3 1 6 35 8-45 1 17 6-63 14" marker-start="url(#d35)" marker-mid="url(#d35)" marker-end="url(#d35)"/>
<path d="M3519 319l14-1 4 4-31 5 8 19 6-1 13 0 1 2 4-9-35 18-102 5 23 5 53 1 1 5-3 10-95-3-13 11 35-5 21 9 2-10 9 18-32-5-48 8 1 14 49-7 9 4-29 10-5 1-2 2-2 7 21-3 19 6-21 15-36-2 16 5-7 20 3 7-8 8-14 5 0 35 6 0 207 19-2-7-16 16-29 10-3 3-13-8-26 16 15 17" marker-start="url(#d5)" marker-mid="url(#d5)" marker-end="url(#d5)"/>
<path d="M3399 407l16 2 18 9 36 2 31 10-11-1-82 1 181 3-142 15-41 19 173 0 22 1 19 5-96 6-64-4-40-1-6 2-13 10 6 4 161-8 35 9 8-10 92 5 6 16-130-7-52 8-36-8-80 14 2 4 283 1 15-4 6-2 16 8 0-6 6 3 8-3 36 5 78 7-25 5-74-6 0 4-1-4-3 0 0 5-6 0-3-7-16 4-11-6-8 4-3-1-4 3-1 2-21-4-2 7-2-8-4-3-125 9-51-6-111 8 198 6 92 3 11 3 11-4 0-4 14-3 7 3 13 5 1 0 9 3 13-8 6-2 4 5 21 2 2-4 14-1 10 4 0-1 8 0 5 2 12-6 7 5 3-4 23 13-10-5-14 7-1-4-5 9-13-10-18 3-7 6-2-8-6 6-11 1-1 0-19-1-15 0-2 2-1-3-4-4-3 6-3-5-231 5-1-7-76 0-30 16 54 1 108-1 85 0 25-1 3-5 6 7 1 3 1 1 1-3 0-8 0 6 16 2 5-7 8 7 4 2 7-6 2 0 17 4 20-5 13 0 9-3 11 9 4-8 6-1 10 2 5 0 5 6 0 1 1-3 1-5 6 9 0-3 2-3 2 2 7-3 4-1 12 0 3 8 4-6 0-3 1 5 3 0 6-4 13 14-19 0-12-2-27 1-6 4-1 1-32-2-2 2-3 0-24 1-6-1-9 2-1 0-10-5-3-5 0 10-5 0-5-3-1 0-1-3-4 5-14-2-7-4-1 3-5 4-14-4-2 0-1-3-11 0-101 4-61 0-77-6-43 5-3-2-5-3 34 16 153 1 123-6 0 8 1-4 4-4 19 4 1 5 19-9 8 1 7 2 23-2 10 3 3-4 2 7 8 0 3-5 4 1 14-2 1 1 4 4 13 0 6 3 8-4 1-5 6 7 2-1 0-4 14 5 3 2 6-7 0 1-1 11-32-1-10 3-2 4-18-2-2 3-18-4-7 2-8 3-2-9-8 3-2 5-15-2-5 3-1-7-16 6-3 2-10-4-8-6-6 6-4-1-2 1-183-4-21 5-83-8-32 13 12 2 29 4 34-1 166 4 46-6 33-5 11 7 3 4 20 0 4 1 4-3 3-6 7 5 11-8 10 4 5 4 2-6 4 2 0 2 4-2 0 6 16-6 10 2 3 0 8-6 12 2 12 3 7-3 1 5 1-3 6 5 2-2 7-3 0 7 6-9-14 16-13 0-17 1-1-4-1 8-11-2-43-8-10 8-4-7-2 3-6 4-3-5-9 6-3-9-3 1-12 2-4 0-1-2-5 4-2 2-6-7-218 8-5 3-3-10-9 2-1 5-19 1-1-1-48-2 9 12 39 0 3 4 3-7 7-2 2 3 2 3 1-4 6 2 2 1 12 0 2-6 2 1 40 4 164 6 11-9 4 8 5-10 16 2 9 2 9 4 13-1 3 1 0-2 1 4 2 1 0-5 3-1 2-5 3 11 9-5 5 4 7-11 7 6 5 1 3 4 7 1 8-6 4-4 2-2 21 1-20 16-3 4-14-8 0 3-9 7-4-4-4-3-7 3-22 4-1-10-16 10-2-10-9 0-2 0 0 9-7-10-2 10-5-3-1-2-6 0-150-5-53 2-7 5-4 3-1-9-14 4-10 3-1 2-7-3-10 2-5 0-2-4-6 10 4-1 5 8 6-6 1-3 8 10 1 0 6-4 4 1 6 0 6 4 0-7 0-4 2 8 3 2 3-5 5 1 37 0 87-6 74 6 6 0 15-3 3 1 17 6 6-8 2 0 14 1 18 0 4-2 16 7 1 1 7 2 1-8 1 10-6 10-14 0-5-1-7-2-11-7-3 9-11-1-19 0-4-2 0 2-13-2-7-1-3 1-1 1-16-4-16-2-7-1-175-1-15 10-5-7-3 4 72 13 94-6 24 5 36 3 1-9 3 3 15 3 12-1 3-2 17-2 8 9 3-3 3-3 1 5 29-6 26 2-2 16-7-4-5-7-17 6-6 1 0-3-7-1-4 6-21 1-3-7-2 5-3-2-5 3-4-2-16 1-3 1-2-3-11-5-26 5-4-5-83 11-119-1-32-10-38 0-31 15 67 7 63-1 12 2 28-7 154-3 1 0 2 10 2-11 37 7 6-7 9 3 24 1 8 2 14-2 18 17-51-2-16-3-3 2-1-4-7 8-3-9-1 1-11 0-5 7-1-1-29-1-1-4-190 5 43 12 134-3 13 2 41-3 2-1 2-3 101 9 10-3 32 4-8 11-6-1-4 2-13-1-185-8-89 1-8 4-132 5 21 3 294-2 76 9 12-8 36 0 3 2 1 8 0 0 2-6 1-1 30 16-9-6-9 5-4 1-3-5-8 2-1-4-4 2-4-1-18 6-3-5-2 4-1-3-5-1-4 1-2-3-3 7-16-5-2 0-5 6 0 2-5-8-120 0-12 1-31 5-173-10-43 13 113 8 59-6 5 4 24 2 175-5 5 6 3-8 13 4 7 0 24-4 6 8 8-7 4 3 2-6 8 11 68 13-28-5-1-3-3 7-24-2-1 2-2-3-24-2-2 4-2 2-7-1-19-4-28 0-1 3-4-7-4 3-30 6-46-11-129 7-48-1-27-4-13 6-13-4-2 5 0-4-6 2-7 3-1-6-2 4-2-8-4 4-3-5-1 3-2-1-3 4-3 6-5-1-9-1-12-5 33 18 30-1 4-7 9 0 1 0 18-2 3 2 3 5 4-3 6 2 3 0 7 4 137-7 61-3 28 2 11 0 11 1 1 2 8 5 1-4 27 3 3-3 14-2 16 4 10 1 14 1 15-4 0-5 4 5 23 3 14 12-8-1-28-7 0 0-1 4-9-2-33 1-3 2-6-4-8 5-5-3-11 5-15-3-15 1-2-2-6-2-9-3-8 3-2 4-1 0-3-6 0 5-2-4-2 0-196 6-1-6-6 9-1-9 0-2-17 8-11-4-7 6-12-7-2 1-29 6-1-7-1-4-4 0-2 3-5 3-5 1-18-1-24 3 4 5 2 6 8 3 8-8 22 0 2-3 7 3 5-1 1 8 10-5 8 5 10-3 6-3 3 0 14 8 8-8 10 3 2-7 3 8 0 3 9-10 5 10 4-1 1-4 5-5 1 6 2 2 9-1 2-7 123 4 35 2 4 4 0 0 10 0 2-10 9 8 1-7 15 4 20-5 11 5 8 2 2 0 6-6 1 3 1 5 9-4 7-4 11 8 8-7 0-2 8 10 10-6 16 0 6 0 4 4 7 1 1-10 4 2-25 19-5-4-7-1-9-1-10-1-11 6-21 4-10-2-4-9-27 3-4 7-22-5-1 0-13-5-4 10-5-4-17 4-2-7-3 5-84-9-9 8-10-3-8 1-3 2-13 3-9 0-1-4-6 4-1-7-18 5-1-1-6-6-13 6-6-1-2 2-6-1-13-4-25 1-9-4-1 9-11-1-10 2-7-4-7-4-6 13 6 5 0 1 10 0 21-10 13 0 5 3 2-2 0 7 12-4 2-3 11 5 2-3 14 2 6 3 8-3 4 3 3 2 3-8 1 5 1 2 4-5 5 6 2 0 11-7 4 5 10-3 0 6 15 0 11-8 0 2 15 1 7 2 71-4 1 6 9-2 3-7 1 4 44 4 33 2 12-7 8-1-24 10-3 4-6 0-3-4-2 4-9 2-11 0-8 1-2 3-121-8-6 6-1-9-3 2-3 7-2 2-30-11-3 5-2 4-19-3-1-1-9 2-9 4-6-10-5 8-24-2-2-5-1 3-5-4 0 8-2-7-5 4-13-1-8 1-7 5-6-7-8 8-3-1-9-3-1-2-3-2-4 3-3 0 0 0-3-6-4 1 17 12 6 0 6 6 0-1 3-1 10-2 2 5 15-4 4 1 13-3 1 0 14 1 0 7 24-6 0 6 6 1 13-4 0 3 4-2 5-5 5-3 8 7 2-7 21 0 11 9 2-1 4-6 11 1 7 4 11-6 62 3 6 7 5-7 7-1 9-3 15 3-29 12-2 1-1-4-83 7-1-4-16 3 0-1-3 5-4-7-3-4-11 8-2-2-7 4 0-3-22-1-16-3-1 6-3-8 0 4-12 4-11 0-30 2-26-7-1 1-17 3-11 0-19-1-64 3-114 9 4 2 3-4 3 2 6 2 16 1 204-9 4 8 1-7 3 2 6 2 5-4 5 0 5 7 5 1 6 0 10-6 12 6 3 0 1-1 19-2 9 3 3-4 3-4 6 1 1 1 7 7 1-11 10 10 16-4 3-2 20 11-20-2-1 7-12 2-31 0-4-8-6 2-1 0-1-1-1 5-2 0-12-3-2 5-17 1-7-6-5 0-2-4-6 6-9 1-5-5-3-3-48 4-154 3-1-4-35 5 0 2-6 0-5 1-11-4-9-5 4 19 0 2 6 0 3-8 4 5 20 1 5-9 4 5 4-1 4 2 5-1 4 2 9-3 10-2 4 0 94 6 66 0 50-4 13 6 33-10 5 3 11 2 21-3 6 2 12 7-24 3-4 6-4 3-6-10-1 6-2 0-2 1-1 3-3-2-9-8-9 4-3 4-6-8-1 6 0-7-5 1-12-1-4 2 0 3-215 5-5-3-14 0-14-3-25-4-12 6-1-6-3 4-7 5-1-5-2-4-11 21 8-7 7 0 6 10 0-8 3 2 7 4 1-8 29 10 21-6 15 3 2 3 79-1 154-7 8 3 0-4 10 4 4 1 2-2 1 0 3 11-67-4-5 5 0-5-90 1-82 4-15 6-3-3-7-8-4 6 0-2-2 0-11-4-4-1-4 8-9-5-19 4-4 3-15 2-4-4-7-4-4-2 28 20 0-5 4 3 11 2 4-3 23-1 6-3 9 0 8 1 5 3 11 1 118 0 5-5 16 4 11 2 7-3-52 17-65 0-52 0-6-2-1-2-8 1-53 2-7-4-11 1-1 2-9-1-1-4-5 5-2 0 2 12 4 1 9-8 7 10 17-10 19 2 12 8 11-4 11-8 4 3 1 4 6 0 1 1 24-3 58-5 13 10 15 0-45 8-73-6 0 10-5-6-27-1-2 6-2-4-19-2-3 9-2-5-4 0-12 4-2-5-1-1-4-2-6 2-1-4-9 5-2 7 1 0 6 10 0-11 32 4 4 0 11 6 0-10 1 5 30-5 10 3 0 6 34-9 39 11 6-6-38 10-28-1-8 8-4 0-2-1-2-8-3 3-2 0-4 2-7-5-3 11 0-4-3 0-8-1-30-2-15 0-4 4-4 4 3 5 19-4 5-1 6 3 21-3 1 10 6-9 2 5 4-4 2-2 8 3 1 7 61-7-5 12-29 0-11 5-13-9-4 6-12 2-1-6-4 4-5-2-20 7-17-11-8 11 0-11-7 2-2 9-5-11 0 19 5-4 10-1 19 2 27-2 11 4 12 1 9 3 6-5 7 6 58-1-47 13-13-11-11 10-14-8-6 5 0-3-1-2-2-1-3 8-1 0-11 1-6-3-17-7-14 9-14 1-3-8 8 18 24-2 3-4 0 1 1 1 17 2 10-5 12 9 4-6 8 2 11-1-2 14-4 5-5-1-10-5-13 0-11-3-4 3 0 0-18 1-2-1-6-2-6 1-13-1 4 15 1-5 11 6 7-2 3-3 4-2 1 5 11-3 16-1 1 6 2 3 1 0 5-2 6-6 6 8 4-9 8-2-8 24-8-7-3-5-3 6-8 4-4-5-4 4-2-3-26 1-1 2-9-4 7 9 10 8 0 0 0 1 1-6 7-4 1 4 2 4 24-1 6-4 1 4 1-6 0 7 7-5-20 13-1-3-9 3-2-4-5 3 12 13 4-4" marker-start="url(#d28)" marker-mid="url(#d28)" marker-end="url(#d28)"/>
<path d="M3407 404l-59-6-1 19 10-7 45 4 26-5 18 5 14 4 75 5-10 5-2-5-51 1-25 1-1 0-13 5-26-2 0 2-6-7-26 0-10 2-46 4-12 12 4 2 48-4 36 1 46-4 11-4 19 1 0 6 1 0 0-4 4 7 8 0 1-8 18 6 40 3 0-8 10 1 1 3 3-7 9 9 28 15-15-8-4-1-19 8-28-10-3 2-5-1 0 3-33 0-2 2-84 4-42-5 36 8 4 5 25-3 33 8 6-10 2-1 32 0 27-1 21 3 40 8 6-7 30 14-8-4-92 7-3 2-5 1-32-1-18-2-38-9-10 7-4-3-1-3-28 0-24 6-2-3-15 11 10-1 1 3 6 1 1-1 0 3 1 2 18 2 17-2 26 1 28-3 11-4 19 8 15-10 11-1 8 6 1 1 6 4 3-4 1 0 26-6 0 3 17 2 20 2 50-9 13 21-5-2-9 2-25-5-15-2-2 4-3-3-49 8-38-2-1-1-36-1-4-6-4 4-27-4-5 8-11-3-1 2-7 4-31-6-14 17 15-7 10-1 6 9 2-10 0 1 5 3 3 6 34-3 29-6 3 7 55-2 4-8 6 2 18 3 1-3 37 5 6-2 2 7 2-3 13 1 4-2 3 3 9-8 11 6 13 2 2-5 1-1 12 5 21 6-13 1-28 6 0-9-3 7-46-9-11 9-19-3-26 5-24 1-26-1-18-6-19-2-13 1-29 6-6-5-8-2-5 5-14-8-20 5-5 17 5-7 1 4 7-3 6-3 4 0 1 9 7-4 7 1 4 4 21-2 9-8 74 5 6-1 33-1 20 3 19 1 20 1 1-1 62-4 13 7 17 2-2 7-44 3-8-5-67-5-3 5-3-6-6 2-13 3-12-1-47-2-13 9-21-3-4 0-2 4-8-9-24 8-29-10 0 4-11 3-12-3 36 14 66 4 2-5 2-3 16 2 18-5 0 9 7 3 9-1 19-2 4 0 17-2 16-4 2 9 15-9 15-1 7 0 32 9 28 0 9-11 0 3 12 0-8 18-22-6-23 1-67 2-19 2-4-4-9 2-25-4-29 3-1 5-13-1-8 2-1-6-24 4-2-2-40 3-12 2-1-10-4 4-1 14 21 0 1-2 4 1 14 2 19-1 19-7 21 4 14 0 2 7 7-6 9 2 7 2 10-1 14-7 12 4 29 5 2-8 14-2 21 1 8 0 2 5 3 0 25-2 10 4 14-2 18 2 14-3 6 10-23 8-5-6-18-2-5 0-40 3-9 4-11-3-14-6-1 10-10-6-1 2-16 0-31 3-14-1-5-7-18 7-11-4-2-1-38 1-6-6-54 4-7-3-11 18 27-4 47 5 24 1 5-7 3-1 1 11 7-4 3-6 16 1 6 6 57-6 19 1 0 7 11 1 11-4 5 1 2-7 1 0 12 1 14 2 1 3 5-7 20 1 9 4 32 4 1-2 1-7 2 3 33 20-22-6-6 3-2-6-3 8-35-1-4 1-1-4-8 3-6-4-1 3-26 0-8-5-18 2-11 1-6-7-1 7-15 1-10 0 0-8-2 6-8 1-3-1-3-6-11 12-4-9-7-2-20 7-20-4-5 7-7 1-2-8 0 7-91-6-13-1 50 12 36 5 15 3 9-5 15-7 15 9 40-6 21 6 11-8 15 5 6-1 2 4 4-1 11-5 6 9 8-8 0 0 8 4 1-5 1-3 2 11 2-10 8 8 3-5 5 3 2 4 11-11 10 5 11-4 7 2 5-1 8 1 19 8-20 12-48-2-9 2-10-2-5-2-8-1-1-2 0 4-6-2-5 3-6-5-1 8-3-3-3-2-9-1-7-2-12 0-11 5-5 1-6-4-22-4-3-1-4 11-25-1-3-3-29-7-21 6-7 2 0-4-5 0-8-3-49 0-9 14 7 3 22 0 12 1 16-1 11 3 18-9 20 9 32-2 10 3 9 0 9-4 1 2 8-8 1 2 13 4 7-3 9 0 8 5 1 2 7-6 3-4 0 9 4-6 4-4 2 3 4 9 7-5 9 1 3-2 3-5 7 3 1-4 4 3 13 5 14 0 0-6 5 5 4-1 11-1 1 3 6-7 3 8 12-8 0 9 0-1 68 8-33 0-4 0-22 1-6 2-1 1-14-2-6-5-3 6-9-8-3 9-5 0-11 3-8-10-2 2 0 1-9 7-4-4-3 0-6 4 0-8-1-2 0 3-2 4-4-3-5 5-3-11-1 10-1-9-5 7-4 2-1-5-3-1-4-3-1 6-2-6-9 6-1-2-1 6-4-3 0-2-2-2-1 7-8-9-7 4-2-2-3 1-11 3-2 3-4-5-7 4-3-8 0 3-25 2-6-1-10-5-3 10-10 1-1-11-2 10-5 0-16-7-21 3-7-5-2 3-21 2-4-7 0 2-1 0-9 4 0-2-1 6-2 0-8-10 0 18 30 3 1-1 22-2 7 0 21-3 10 6 5 1 2 1 14-2 1 1 2-6 0 1 13 4 36-8 3 2 4-1 7 8 3 1 3-9 2 5 0-5 19-1 9 0 0 6 3-6 1 2 2 6 6-2 0-1 0 4 5-2 1-8 1 1 7 8 2 2 14-8 1 8 6-2 2 0 3-7 14 6 10-3 1-4 1-1 1 9 10-7 2-1 1 5 1 6 8-12 2 9 2-8 120 20-104-2-5-1-1 3-6-1-3 1-15-4 0-2 0 4-3 3 0-10 0 0-10 8-1 1-1 2-4-2-2-6-1 8-3-1-2-7-5 1-3-2-7 10-1-12-2 5 0 7-8-12 0 4-1 3-4 4-3-7-1 2-1-5 0 3-3-4-1 10 0-9 0 10-4-5-3-1-5 2-9 2-10-1-4-7-6 6-3 2 0-1-1-7-8 6-7-4-11 3-2 1-4 5-1-11-4 1-13 4-23-6-12 1-18 8-69 2-14-9-2 2-1 7-2-9-4 7-8-2 31 14 30-3 5-6 6 3 13 7 0-6 27-1 6-1 3 5 7-5 2 7 2-8 9 5 0-4 3 2 4-1 7-2 9 0 6 3 1-3 18 10 5-1 9-2 3-3 5 2 9 5 1-6 7 5 0-7 1 5 1-3 7 6 1-2 3 0 1-4 1 3 2 3 1-3 2-7 0 5 3 1 0-6 1 0 14 6 3-6 5 8 5-2 1 4 1-4 1-7 2 8 1 3 6-5 0-2 5 6 0-8 10 2 2-1 0-3 15 10 0-11 9 11 16-11 6 4 2 7-6 8-7 0-2 5-4-4-4 3-2-7-3-1-3 6-1-4-4 0-3-4-3 4-18 2-1-1 0 5-16-5-6 0-10 4-5-5-11 1-1 0-1-6-1 9-3-5-9-3-1 7-3-6-9 9-1-3-1-6-1 1-2 2-5 6-11-9-3 0 0-1-2 8-5 3-3-2-10 2-36-11 0 5-15-4-19 7-2-1-2-7-12 11-34-10-2 8-22-2-20-5-3 16 14 3 26-8 23 10 2-5 10-1 27-4 6 4 0 0 3 1 6 3 14-5 3 5 43 2 19-11 1 5 2 4 22-9 7 5 21-3 3 0 11-1 5 3 7-5 8 1 6 6 13-4 1-1 6-1 5 4 2 2 26 0 54 17-51-11-48 6-6-3-3 1-13 5-11-9-1 10-4-2-8-6-3 1-6 7-4-4-3-1-4 5-9-10-22 1-9 8 0-9-3 8-4-8-13-1-1 3-7 3-6 4-10-9-28 7-5-3-11-4-9-1-62 1-2 3-1-2-22 7-117 2 96 8 45 5 4-2 11-9 26 9 29-1 6 2 29-8 20-1 55 6 5-1 4-2 4-1 0-2 0 6 8-2 2 5 14 0 1-8 12 1 9 6 11-1 2-3 3 6 19-9 55 3-46 14-33 1-20-4 0-5-4 12-17 0-24-2-16-3-7-1-26-5-2 3-2-3-2 8-4-2-55-4-10 0-14 1-20 6-37 0-5 0-115-4-20 16 0-3 155 1 1-5 0-2 44 5 16-4 1-1 41 7 13-2 8-3 24 7 11-8 12 8 13 1 6-9 4 6 0-6 2 10 33-10-38 11-10 5-28 5-107-6-21 5-3-4-6 3-14-6-11 7-10 1 0-6-105 4-123 9 90-1 8 2 70-2 63 6 4-1 7-1 1-4 2 2 13-2 60-2 44 2 5 0 27-4 90 1-229 21-7-5-3 0-2-1-3-4-2 4 0 2-1 1-6-2-7-3-4 4-3 4-4-3-13-3-3 3-80-3-41 0-23 19 21-6 1 3 1 3 2-5 24-1 88 1 6-3 10 1 1-2 16 4 0 4 0-6 3-5 0 5 1-2 10 5 2-5 5 6 4 3 6-7 6-3 1-1 1 7 0-1 17 4 9-4-8 6-32 0-1 9-24-1-9-6-3-1-2 3-1 6-4-9-2 4-2-6-3 5-5 5-13-9-3 6-2-3-17 3-14-3-3-2-5 8-5-5-6-1-23 1-10 2-2-2-22-1-1-4-2 6-1-4-2 1-19 7-1-1-21 10 5-7 17 10 4 0 1 1 25-9 5 6 2-2 19 5 10-6 1 1 4-5 7 0 6 3 1 1 4-1 6-2 8 2 1 0 16-1 8 6 5-5 16-2 1 5 14 4 9-7 15 0 7-1 3 4-8 12-4 4-25-5-3-5-9 7-2 2-31 0-2-8-2-2-7 10-3-1-17-8-4 3-13-3-6 9-19-7 0 5-14 2-3-9-43 14 64 4 0-7 10 6 6-5 21 2 6 4 0 3 0-7 6 3 1-5 3 2 21-1-1 12-73 3-8 4" marker-start="url(#cr)" marker-mid="url(#cr)" marker-end="url(#cr)"/>
<path d="M3793 517l-11 5-13-3-14 6-3 4 15 5 10 3 1-5 4-3 2 3 6 2 9 4 6-2-18 8-21-1-8 6-2-5-28 17 5-9 13 3 10 0 2 7 6-7 0 2 3 4 1-4 2-3 1 5 2 3 2-1 0-8 6 7 3 2 12-7 8 1 17 2-27 8-7 3-24 6-13-10-26 7-6-4 34 9 10 3 8 5 19-7 1 9 2 12-5-9-64 19 3 0 32 1 6-8 28 5-60 109-257 40 9-5 29 0 0 7-9 1-3 7-4-8-18 0-13 10-7 1 372 10 40 8-34-6-17 2-6-3-3 11-3-8 0 3-1-1-3 0-9 7 12 7 6-7 7 1 2 8 1-3 2 3 8-3 12-1 5 6 3-10 2 10 1-3 0-6 0 4 5 4 1-4 4 3 49 14-2-10-12 6-1-3-16-1-1 2-10 4-4 1-5-5-3 2-3-6-5 0-1 6-1 3-9-7-1 1-39-3 62 19 22-5 2 5 20 1 1-3 15-3 6 6 3 2 13 4-20 1-14-2-10 5-24-3-11-1 47 19 10-9 2 1-814 79 91 9-6 5-37-2-3-3-42 3 0 5 5 0 16 6 53-3 2 0 0-1 1 1 1 2 2 1 1 1 3-2 2 3 1-4 6 3 4 1-2 3-17 1 0 2-28 8-51 1 24 4 28-4 1 1 5 5 7-3-30 21 10 1 20 3" marker-start="url(#d35)" marker-mid="url(#d35)" marker-end="url(#d35)"/>
<path d="M3513 312l10 21-2-5-3 7-13 0 0-9-17 21 31-4 16-4-159 27 38 2 2-4 104-2-47 11-23 6-57-2-44 1 15 6 37 9 63-5 8 11-10 0-57 9-15-6-26-2 0 13 9 6 60-1 16-4 5-1-109 22 39 0 3 18-3 2-9-6-19 8-6 27 207 57-17 3-1-2 0 2-29 16 40-6-17 15-6-3-21 20 19-5-10 9-42 6" marker-start="url(#d5)" marker-mid="url(#d5)" marker-end="url(#d5)"/>
<path d="M3395 406l-42 1-1 3 61 1 161 14-27 3-16 2-172 6 3 3 56-3 1-2 13 4 40 6 164-11-65 14-145 8-13-11 24 23 22-3 72-4 8 12-18 6-72-7-63 2 90 11 12 0 30 4 21 0 26-1 143 14-44-6-151 3-111 4-7-4-7-1 33 11 40 5 16-3 121 4 99 1 7-10 2 10 7-5 11 1 6-3 16 6 15-9 88 22-62-1-14 0-3-2-7 2-11-8-8 8-8-9-6 8-6-4-23-1 0 3-2-4 0-1-2 8-6-4-14-3-6 2-6-4-12 7-21 2-12-6-57 2-98 4-38-7-31 14 9-1 32-3 33 6 206 5 1-3 1-8 4 2 1 5 6-7 30 8 1-4 0 3 3-8 1 7 6 0 4-2 5 6 20-5 11-3 7 8 3 1 7 0 1-6 9 5 18 0 6-8 3 0 24-2 2 2 4-2 5 4 2 5 4-1 11 10-4 4-1 1-13-3-2 2-2 0-8-1-2 0-6 0-13-1 0-8-23 2 0-1-5 10-10-2-2-1-5 3-1-1-4-8-8 3-3 2-1-7-3 9-2 1-4-2-2 2-4-10-11 3-16-3-7 11 0-10-18-1-5 10-6-10-1 2-5 3-52-4-144 3-69 4-48 4 188 0 11 8 35-7 74 6 2-8 2 0 11 2 2 6 4 4 0-7 6 5 0-8 1 0 5 2 1 5 19-4 26 6 3-9 4 3 1 6 7-1 6-2 1-7 2 4 3 7 24-2 4-4 20-5 18 6 5 1 8-5 19 1 4 12-7 2-1 4-6 1-4-10-3 6-2 2-20 0-4 0-1-3-3 5-6-6-2-3-9 1-24 5-18 0-8-7-7 3-11 5-15 0-3-3-16 2 0 2-7-2-11-1-6 1-7-3-1-1-20-2-19 4-16 2-196-5 54 10 204 2 1-1 0 7 2-8 1 4 10 0 3 6 11-2 16-2 2-6 30 0 1 1 16 6 6-1 13-7 10 4 7 4 2 0 6 3 13-8 0 2 15 5 1-6 10-2 9 2 4 6 3 8-16 4-12-9-2 10-2 0-13-7-2 5 0-8-15 5-2 3-28-4-5 2-17-1-14-1-1 1-11-4-19 9-12 0-15-5-71 1-47-3-69 2-50-6 25 23 29-4 96-6 90 3 5 4 8 1 5-4 14 4 19-4 15 5 8-8 6 1 29-2 3 5 7 0 8-2 12 3 9-6 2 8 35-3-9 7-5 2-3 5-24-7-10 10-26 1-42-10 0 7-6-4-1 7-7-6-3-3-7 5-6-8-14 1-7 5-9 2-2-4-56-3-30 8-120-1-3 1-4-3-7 5-1-1 0-2-1-4-2-3-1 8-8-4-1 2-6 0-67 3-14-4 14 16 53 1 6-10 12 2 2 7 5-7 5 8 6-3 64 3 63-8 53 8 13 1 30-10 3 3 2 5 2-4 9 0 50 1 49-1 6-6 1 7 1 1-4 9-9 7-10-3-9-8-2 7-7-8-22 6-16-6-16 8-3 2 0-1-12 1-6-1-110-4-49 2-29-2-2 2-6-3-4 5-39 1-3-9-2 3-1-1-1 5-5-8-1 4-3 6-4 0-3-5-11 7-53-12 68 22 1-7 11-1 2 3 19 1 1 2 4-4 4 4 7-3 13-4 8 2 106-1 47 5 40-6 14 3 15-1 3-2 12 2 0-3 13 4 7 4 10 2 4-9 1 5 11 6 10-3 3-7 1 7-1 14-2 0-6-1-4-2-4-8-22 7-4-2-20-1-11 3-14 2-12 0-1-5-150 1-86 3-3 0-2-5-10 0-10 5-58-6 302 17 4 2 3 1 1-4 34 2 1-5 12-2 4 4 12-1 2-4 4 7 2 3 9-10 6 10 5-9 11 1 7 3 0 3-20 5-4 1-4 3-9 2-3 0-8 1-3-8-1 8-1 1-3-7-2 0-1 2-3 7-11-2-1 0-3-7-23 5-3-6-4 11-6-1-3-1-5-4-83 6-22-1-217 13 145-4 75 1 114-5 48 4 1-1 0 2 9-2 6-3 10 2 4-2-3 14-14 2-3-4-2-1-7 0-1 4-9 0-21 0-62 4-94-9-44-2-121 0-23 11 91 9 138-7 75 0 33 5 31 4 25-1 105 12-9-3-36-2-33 2-57 0-64 0-9-1-10 4-5-8-7 11-7-4-91 0-26 1-35-6-12 4-112-6 121 13 312 5 35-5 1 10 10-7 3 4 0-1 3-7 5 7 10-6 10 2 18 8-8 0-32 12-9-3-5-5-2-1-9 3-16-5-36 1-82 3-67 6 0-3-109-3-118 8 46 1 6 0 2 4 3 0 7 6 115-5 207 1 30-6 6 7 6-8 5 2 0 9 14-11 2 0 34 8 4-6 1 3 5-6 12 0 0 7 10-1 10 6-15 7-3-2-1-4-22 6-8 4-2-9-9-1-8 0-21 3-19 7 0-10-2 2-4 6-2-1-3-7-6 9-2-9-3 5-4 3-3 0-8 2-115-7-11 3-97 2-36-7-10 5-11 4-4-3-9 1-5-3-9 3-4-4-1 2-3-6-6 2-3 3-2-2-32 3-37 8 28 0 1 4 11 0 0 2 7-3 1 6 3-7 19 0 0-3 2 1 12 7 8-1 14-8 1 5 0-5 15 9 16-5 4 5 1-7 18-1 22 9 159-11 47 12 5-1 5-5 3-5 0 9 7-4 3 1 6-5 6 5 1 2 6-1 9 2 10-8 44 0 20-1 0 9 7 1 8-5 6 1 1-4 12 6-9 10-16 1-11-8-9 6-9-4-8 3-1 0-20 0-9-2-28 3-8 3-35-2-5-1-8 6-177-4-13 0-11-3-1-5 0 7 0-1-3-2-3 1-13 2-3-3-4 3-2-3-29 6-4 2-4-8-9 2-6-5-2 5-9 5-7-8-4-3-14 4-2 3-4-2-2-4-1 0 13 22 4-9 5 3 16-5 9 11 8-4 6 2 10 1 5 1 1-4 11 0 1 1 6-4 7 7 13-1 10-1 4-2 8 0 10 2 3 2 15-9 14 9 6-2 132 0 0 3 3-3 10-4 1 0 3 6 13-5 7-1 9 0 5 0 6-2 1 3 12 1 11 3 0-10 1 6 0 5 1-7 14 4 10-6 1 6 6 1 16 2 18-1 3-5 3 1 21-1 5-5 1 9-15 14-16-3 0-4-7-1-7 1-6-1-14-2-4 3-1 1-5-1-12-1-24 6-19-5-4 3-11 4-3-5-11 0-2-6-12 4-5 4-2 3-1-3-18-7-6 9-4-3-70-1-24-5-1 5-1 2-15-7 0 2-1 8-15-9-10 3-12 1-12 1-1 4-24-9-1 7-1 0-2 0-3-4-12 7-24-2-12 0-9 0-9-2-5-6-6 4-1 5-7-2-6 2 0 1-1-6-1-2-2 0-10 19 18-11 8 10 4-8 5 7 6-6 9 7 4-5 5-4 4 5 5-6 7 0 2 4 15-3 1 1 12 1 7 3 2 0 3 4 11-7 40 0 27 3 16-3 4 0 5 1 0 0 6 2 100-2 21 4 22-3 1 2 5 2 5-7 1 6 0-6 27 1 11-1 76-1 2 3-7 12-76 6-26-9 0 2-1 4-21-2-4 0-5 6-8-10-28 7-1-1 0 0-2 2-6-7-5 0-86 1-2-1-4 10-9-4-8-2-1-3 0 8-7-2-8-3-3-1-3 7-1-11-5-1-1 11-15-4-12 2-14-1-8-5-27 8-4-5 0-3-4 8-5-9-3 8-8-10-1 2-37-2-4 0-172 22 183-7 21 8 8-1 6-7 3 8 6 0 5 0 7-1 1-3 3-1 21-3 8 3 10 3 5-4 9 0 9 4 17-3 1 4 9-1 3-3 26 0 1 2 7-3 7 7 58-12 25 3 0-3 5 10 14-9 3 9 8-3 0-3 15 1-17 10-17-3-3 1-4 3-4-4-83 2-1 5-13-5-12 3-4 5-6-3-10-1-4 1-14 3-9-4-5 0-3 4-2-7-2-1-9-2-3 12-1-8-4 2-2-6-15 8-19-7-22 9-2-5-3 3-3-1-212 1-15 15 2-5 1 4 1-8 9-1 2-1 0 2 6 2 1 1 0-1 0 1 2 5 4-5 5 1 0 3 7-2 0 3 166 0 36-8 15 0 0 3 6-2 2 3 9-1 1 1 2 5 3-8 16 1 7-4 0 4 15-1 16-2 7 4 14 0 14 6 6-1 2-5 2 5 4-1 0 3 4-6-8 17-3-7-4 6-8-1-10 0-21-3 0-5-4 8-10 3-8 0-9-2-15-7-2 5-12-6-10 0-8-1-12 10-186-2-12-1-11-2-1-4-5 2-3 3-5-5-14 6-13 6 2 0 1 7 23-1 4 4 1-7 9 4 6-8 10 8 1-4 3 7 3-6 3 2 17-2 26-2 101 1 0-2 78 0 11-1 6 0 2 1 2 7 9-4 3-6 3 2 3 0 4-2 8 4 8 5 2-8 1 6 11-3 17 2-13 10-1-1-9 1 0-2-15 0-4 10-1-10-25 3-2-3-9 5 0-2-4-2-33 2-48 0-135 2-16-1-6 2-8-6-5 9-4-5-4-4-1 8-3-9-2 4-4 1-2 4-4-7-3 3 0 1-23 4-2 6 13 5 2-4 3-2 13 4 6 1 2-8 38-1 0 10 4-5 9 2 83-4 137 5 21 2 3-9 0 5 3-3 12 1 3 1 1 5 5-9-63 20-202 2-6-3-1 0-24 3-22-5-1 2-17-3-4 0-13 7-8-1-6-9-5 19 1-2 2-5 6-2 7 7 3 2 2-1 5-7 9 0 6 11 11-5 48-2 9 7 158-2 13-1 26 4-56 1-11-1-3 8-37 2-95-9-6 3-1 2-7 1-4-3-2 1-33 5-3 1-1-4-8-6-9 8-6 0-1-9-9 6-6 3-4-4-1-2-3-1-9 16 2-6 5 8 8-8 14 10 10-5 13 6 0 0 24-3 17-6 1 4 12-4 2 2 17 6 17-2 32 2 30-6 4 1 13-4 18 1-51 10-7 1-7 8-1 1-23-3-27-8-9 11-3-2-6-3-1 2-29 1-13-4-10 2-8-7-3 8-6-3-1 5-11-10-3 4-13 4-2-5-3 11 6 8 21 1 7-1 5 0 3-6 7 2 1 5 18-10 6 2 16 4 1-6 0 2 3 3 5-3 11 5-6 5-5 8-7 1-12-7-13-1-1 6-27-7-7 10-26-2-5-2-1-6 12 17 1-2 5-2 8 1 5 9 1-8 0 1 8-3 6 9 27-10 8 7 5-3 6 6 21-2 120-7-65 11-51 0-1 6-8-5-15 7 0-4-5 5 0-2-14-8-5 7-1 2-19 1 0-9-3 2-11-1-3 8 0-7 0 8-2-7 0 7-4 1-10-6-6-5 2 20 3 3 4-9 10 2 11 5 26-1 20-3 1 4 4-9 32-1 40 0 9 7 12 2 17-7-61 15-25 5-4-10-1 10-2-8-15 5-37-4-3 1-12 2-1-3-7-3-11 3-7 14 3 1 10 6 4-1 8-9 2 0 10 7 4 2 9-8 9-3 5 9 2 2 15-1 0-4 0-4 2 7 4-2 7-4 0 2 14 3-14 8-13 0-2 6-5-8-2 6-3 3 0-6-2-2-31 3-16 5-15 3 9 9 9-8 12-2 6 10 27-2 9-5 7-4 6 4-7 11-18 8-2-1-15 2-2-2-18-2-2 3-16-6 14 12 1-4 5 11 0-6 4 1 3-5 29 6 6-2 8-2-10 20-4-7-12 6-6-7-1 2-15-1" marker-start="url(#d28)" marker-mid="url(#d28)" marker-end="url(#d28)"/>
<path d="M3399 401l-22 7-87 4 66 0 83 8 9 0 22-2 69 10-26 3-18-11-9 6-6-3-17 5-10-5-6 0-40 2-28 5-7-3-89-2 7 10 67-2 8 5 15 0 36-1 8 2 6 1 37-7 8 8 7 2 39 0 3-11 38 10 0-1 5 0 11-1 15-2-5 17-5-3-28 0-7-3-56-3-11 4-20-2-7 0-18 4-2 0-60-1-19 6 15 4 36 2 71 4 9-3 2-5 19 1 27 4 25-4 29-3 32 19-7 3-2 0-26-10-2 6-14-4-17 8-34-4-13-6-3 3-1 7-5-2-7 2-33-10-16 7-11 0-16-7-8 2-29 3-6 2-3 3-7-3-3 3 18 2 2 0 17 2 5-1 21 8 24 0 2-1 27-7 7 3 49 6 3-10 4 3 29 0 5-3 15 0 51 3 25 11-38 1-60 2-2 5-10-6-10 2-16 0-28-6-9 9-18 1-16-4-3-6-6 1-8 6-24 2-7-9-3 0-3 10-1-2-4-9-6 1-3 9-5-5-16 7-5 12 1-7 7-3 14 6 18 0 15-6 5-1 0 2 10 7 6-1 14 3 7-9 9 5 4-3 21-4 3-1 4 8 20-2 21-1 3-3 0 7 17-8 14 4 1-3 2 10 10-9 0 7 3 1 5-3 6 2 5-4 6-2 5 3 4 0 4-6 7 9 12-4-29 17-56-7-35-2-31 7-23-1-44-6-23 7-3-1-62-8 20 15 9 3 15 4 16-5 3 0 8 4 2 1 0 2 6-5 2-5 10 3 39 6 2-11 14 2 11 2 6 7 55-4 1 5 26-7 49 1 18 4 11-9 28 11 3 9-21-2-12-3-5 6-3-1-12-7-33 3-23-5-63 4-20 4-95-6-9 1-2-1-12 5-12-3 0 12 20-2 66 3 17-1 29 8 10-1 3-6 14 0 20-4 40 9 39-6 3 6 47 0 17-9 13 21-15-2-30 4-23-10-24 8-3-7-20 5-2-6-5 4-15-2-6-1-27 6-39-7-1 6-11 3-9-8-3 0-4 7-42-4-18 1-35 4-1-8-8 2 0 9 8 4 19 5 6-9 21-1 22 7 1-7 2 5 21 4 41-2 30-4 3-1 4 2 13 5 5-3 2-2 16 3 3-4 3-2 1-1 2 6 1-5 12 1 23 2 0-3 11 1 0 2 1-3 23 3 8 0 6-2 19 7 9-8 2 6 32 6-43 3-20-5-4 10-2 1-26-9-19 0-7 6-13-7-5 6-21 5-14-7-1 3-1-5-3 9-18-9-33 9-39 0-7-2-10-4-5-4-44-1-28 4 11 13 25-5 44 2 6 8 2-6 17 6 37-5 13 4 43 1 5-8 9 8 3-2 5 1 8-7 8 1 17 2 8-1 2-3 13 2 2 7 8-10 23 10 6-7 5 5 11-3 4-3 43 9 26-7-15 10-18 0-48-2-16 0 0 5-31 3-17 2 0-2-9-5-11-2-4 2-7 5-3 1-1-1-15-3-11 5-6 1 0-1-9-8-31 2-35 5-40-5-25 4-37 0-5-3-6-1-8 5 11 6 8 5 79 1 41-1 6-8 2 5 50 3 12-4 2 6 10-8 8 1 0 3 11-2 15 5 4-3 8 3 3-4 12 4 11-9 2 1 7 2 8 6 16-7 3 8 3 0 5-6 9-3 15 2 45 7-45 12-10-2-4-4-10 6-2-3-3-6-13 0-15 6-1-3 0-3-3 8-2 2-7-11-1 0-3 0 0 2-2 7-4-9-2 6-1 1-7-5-2 0-3-3-4 4-5 2-2 1-4-2-3-5-5 3 0 7-1-6-7-1-2-1-10 10-1-6 0 2 0 0-10 2 0-5-3 6-10 0-14-4-1-3-13 5 0 0-4-2-2 2-38-4-71-3-39 0 3 11 4 3 20 1 46 6 3-2 5-3 29 5 10-6 7-5 6 7 4-3 4 3 19-4 1 2 14 1 2 6 15-3 8-3 4-3 1 6 3-2 1 1 3-3 2 0 2 0 1 7 1-7 0 0 10 0 1 7 2-4 6-7 4 2 4 9 1-11 8 1 3 6 5-6 10 8 4 0 2-8 8 9 1-2 2-8 0 5 4 2 2-8 9 10 1-5 2 0 14-5 7 6 3 5 10-2 16 1-19 11-8 2-8-7-12 5-2-4-3 5-2-5-4 1-2-1-4-3-3 8-1-9-4 2-3 3-10 4-1-9-4-1-1 12-10-3 0 1 0-9-2 2-2 2-4-3-3 7-1-4-8 2-3-2-33 1-1 3-9 3-8-9-2 6-5 0-2-7-4 6-4-4-8 5-6-7 0 7-10-6-2-2-7 10-49-10-4 10-1-1-12-1-12-8-20-1-2 8-1-7-42 4 4 8 13 3 13 6 0-1 8-5 3 3 23-3 7 3 2 2 11-6 10 3 18 6 25-11 4 0 7 4 12 2 3-1 2 1 17 1 1-5 1 5 5 2 5-4 1 6 3-11 10 5 2 3 0 0 3 1 6-2 9-1 2 3 5-7 6 1 6 6 2-6 2 8 1-7 15-3 3-1 0 5 6 1 2 1 2 3 7-1 0-10 13 5 2 6 6-9 1 6 6-7 0 2 4 6 4-8 6 3 5-3 23 5 53-3-21 13-44 5-2 3-5-1-6-3-7-4-1 7-1-7-4 5-5 2-8-6-4 7-3-2-2-5-2 0-1 6-1-10-12 4-2-2-9-1-5 8-1-4-10 2-2-1-11-3-6 5-6-2-7-3-4 8-9-12-2 1-4 1-2 9 0-2-4-8-18 9-2 0-12-4-5-3-2-2-12 2 0 9-8-5-6-1-15-5-34 5-14 4-18-9-37 10-32 7 29-3 6-2 19 6 7 0 2-3 50 6 46-4 1 5 3-9 1 8 1-1 2-6 3-2 5 9 4-9 6 7 1-7 13 2 8 5 5-3 6 4 2-1 2 2 3-4 2-3 5 0 15-2 2-1 6 7 3-4 2 7 0-2 1 0 5-7 1 3 2-4 3 8 9-4 10-2 8 10 5-6 29-2 2-3 5 2 0 0 6-1 8 0 3 0 29 21-14-9 0 1-22 6-1 2-6-5-2 3-8-1-7-7-11 8-15-5-4-1-4 3-1 0-4 4-1-6-10 7-9-9-4 6 0 4-11-8-1 0-16 5-11 0 0-8-3 8-1-2-1-2 0 2-10 2-4 2 0-1-6 0-2-7-2-1-9 2-16 2-5-5-6 7-6-7-11 5-13-2-11 7-1-11-3 2-9 5-3-3-9 2-5-5-1 4-48 2-7 3-7-5-14 6 8 11 3-4 1-3 27 8 26-1 6-4 10 0 12-5 46 4 3 5 4 0 21-5 3 7 2-4 15-5 4-2 1 0 1 9 6-6 2-2 9-1 5 2 15 0 3 7 5 1 2-7 3 2 7-5 4 3 7-2 9-1 8 5 1 4 9-7 7 7 22 1 2-1 7 1 8 0 5 0 86-6-65 7-5 1-23 10-5-2-9-4-24 2-2-2-4 4-5-9-2 6-10-5-4 6 0-3-2 5-3-6-2 6-2-8-6 3-13 2 0-2-7 3-2 1-4 2-2-5-3-2-4 0-2-2-3 4-5 5-5-4-2 2-5-4-13 0-8-4-15 6-10 5-9-10-5 3-12 1-15 2-6-3-5 5-7 2-61-2-13-1-5 3-91 13 90-1 10-4 30-5 6 10 2-2 13-6 15 0 2 7 11-4 14-1 2-4 33 0 4 1 39-2 6 0 0 3 9-2 4 7 1-3 5 1 1 1 0 2 9-2 3-4 8 4 1 3 2-9 8-2 1 7 1-6 15 0 9 1 16 4 6-2 9-4 7 5 1 3 8-3 5 3 26 2-54 7-3-1 0 3-15-6-12 1-12 1-5 5-7 3-3-10-9 9-12 0-1 1-11-8-1-2-13 4 0 6-1-10-4 3-3 6-8-5-29 0-3-3-1 5-11-5-1 6-8-3-7 7-4-3-25-6-23 1-6 5-119-3-31 5 140 11 5 2 41-5 12 2 13-1 4 0 33 0 9-5 6-2 6 5 9 4 2-4 10 0 6-2 10-3 73 10-38 1-12 1 0 8-2-1-16-7-22 8-1-1-11-1-5-4-13 7-25-8-6 6-1-6-3 9-1-11-34 8-15-4-9-3-18 8-16-2-24 1-7-2-2-4-55 8-44 0-4 7 111 2 4 1 14-6 4 9 3 0 3-10 10 0 0 1 6 1 3 6 3-3 6 2 5 2 71-8 32-2-115 17-20 0-3 0-13 0-2 3-8-7-23 6-55 2-97 7 20 8 14-2 2 1 8-5 9 3 1 1 5-6 0 6 28 2 76-8 5 4 15-5 0 4 6 0 12 3 2-6 7-3 8 8-13 13-4-4-2-2-10 7-1-2-1 0-1-3-10 4-12-3-34 5-15 0-4-6-2 4-11 0-9 1-6-11-5 5-10-3-2 6-2 1-6-6-4 5-6-2-8-2-18 5-12-6-2 4-1-2-6 4-3-3-4-4-9 9 14 7 0 1 11-6 4 9 9-7 2 3 1 2 16 4 11-4 0-8 10 6 1 6 3-5 5-2 10-2 8-2 6 4 20 4 2-8 0 3 17-2 10-1 3 5 1-2 3 7 9-9 4-1 1 6 19 4-32 3-5 1-5 0-6 6-2-3-11 3-7-1-8 0-3-3-9 0-24-3-10 2 0 4-4 0 0-7-19 7-9 1 0-3-6 4-17-3 0-1-8 2 24 5 5 8 2-3 13 2 17-3 3-1 13 4 1-8 10 6 9-5 20 7 35-7 13 0" marker-start="url(#cr)" marker-mid="url(#cr)" marker-end="url(#cr)"/>
<path d="M3758 495l56 24-66 5-11-4 24 17 16-7 2 0 3 0 2 1 3 0 6-2 1 5 7-5 13-1-18 14-12 5-14-4-6 6-13 3-10-11-2 7-10 0 5 5 10 4 6-4 1 5 5-4 0 1 8 8 16-9 2 2 10 7 18-11 3 9-19 14-5-5-2-1-15-2 0-1-3 8-6-7-4 3 0-3-2 0-1-2-18 10-35 3 32-1 4 1 13 3 5-3 5 4 31 0 11 4 12-4 37-5-83 22-6-9-22 4 11 10 2-2 3-1 11 9 91 1-110 27-254 114 301 12-299-6-28-1 326 15 16-3 62 22-17 0-10-11-3 9-18 0-1 1-5-7-1-1-1 0-12 7-1-5-6 5-3-7-7 12 8-1 10 0 9-1 2 7 3 4 1-3 2 2 8-2 11 0 0-2 4-4 0 3 16-3 16 7 32 0 9 7-10 3 0 4-4-8-11 3-7-1-4 4-11-2-7-5-27 8-12-9-22 13 51 5 21 4 4-4 1-5 7 6 3-8 4 5 0 2 1 4 0-4 0-3 2 7 5-10 1 4 5 1 5 5 13-5 26 5-26 9-13-2-6 2-27-3-22-3 55 13-715 92-23-3-59-7-7 5 3 16 54-1 10-3 10-1 2-1 3-3 2 0 1 8 4-1 0 3 0-8 17-3-22 14-6 4-12-5-18 9-8-6-12-1 24 11 11 6 28-4" marker-start="url(#d35)" marker-mid="url(#d35)" marker-end="url(#d35)"/>
<path d="M3506 309l33 24-18-1-22 1 8 5 15 4-153 28 33-8 109 11-11 7-62-2-19 3-6-1-15 3-46-1 9 14 36-11 35 11 2-7 30 10-60-3-42 22 19 2 68-7-67 18-16-5 26 8 8 4 11-4-40 18-21 7 23 0-7 18-13 0 10 9-6 8 184 49-19 15 9-3 6-3 12 7-5 5-18 8-39 4-7-2 0 6 16-1 26 6-42 18" marker-start="url(#d5)" marker-mid="url(#d5)" marker-end="url(#d5)"/>
<path d="M3382 406l-25 1 296 18-191-2-86-1 51 11 15 8 7-3 108 3 16 3 10 8-56-5-52 3-125 0 56 13 36-2 145-5 52 19-38 4-17-2-67-2-118-1-34 2 63 10 85 5 10-7 218 15-165 0-57 0-103 2-26-1-36 2 28 5 12 8 11-7 80 0 47 4 65-2 84 0 27-1 6 1 2 4 10-8 3 1 2 2 33 3 4 12-10-7-10 10 0-9-25 10-21-5-6-4 0 0-7 1-10 5 0-8-15 2-87 2-91 0-102-2-28 16 327 3 2-6 0 3 12-6 6-1 7 8 5-2 5 2 22 2 13-2 24-7 3 5 4 3 14 0 51 3 5-1 1-2 5-3 2 4 13 4-4 6-14-6-5 6-8-6-2 7-7 3-3-2-3-10-10 7-15-4-7 0-8 7-3-8-7 5-12 1-2 1-4 1-2-2-11 1-1-1-21 1-4-5-3-2-5 9-8-10-5 6-5 5-10-9-1-2-14 7-5-7-55 7-5-8-233 16 66 5 9-5 52-2 126 8 47 1 10 1 3-10 21 6 3 4 5-10 24 0 0 4 1-1 11-5 2 7 3-6 48 7 10 2 4-5 0 0 14 4 25 0 1 1 0-7 3 1 6 2 10 6 2-9-1 19-5-6-2 1-3 2-5-4-4 1-2 5-9-8-7 10-1-5-10 2-18-5-3 1-2 6-2-1-17-5-1 3 0-5-4-1-6 4-2 3-14 4-10-4-4-6-2-1-20-1-5 11-10-3-2-3-1 3-7-2-11-3-8 2-4-1 0 3-3-7-40 7-39 3-12-8-50 0-159 14 33 5 109-4 43 4 8-3 57 4 55-6 13 7 9-3 8 3 2-8 7 6 5 1 11-4 11-5 3 1 0 2 20 7 1 0 5-7 3 2 4-3 5 2 10 2 11 2 1 0 2 0 1-5 9-2 1 4 23 5 1-5 4-4 25 8-3 5-6 1-33 4-3-5-7 5-1-7-6 9 0-10-4 9 0-6-10 0-1 6-28 2-2 0-7 0-5-4-7 2-19 3-17-4-4-3-1 3-12-2-1 2-2 3-6-7-2-1-3 4-20-4-267 5-16 0 149 4 95 5 65 7 3-7 9 3 55-2 7-1 4 4 7-4 19 1 25 0 2-5 1 4 10-2 2 1 18-3 3 0 16 9 2 0-32 6-3 2-11-5-2 10 0-5-3-3-3 4-2 3-9-1-14-3-10-4-3 2-2-3-9 10-2 0-2-6 0 1-14-4-1 0-16 4-11 5-12-4-84 1-82-7-90 11-13-6-2 5-16 8 16-4 5 5 5-7 7 10 5-9 2-2 4 9 0-6 14 8 24-1 3-8 131 7 2-4 60-3 10 2 0-2 8 4 12 3 5-2 28-7 6 7 10-6 2 2 14-1 2-1 13 1 12 10 1-12 2 18-8-4-36 4-22 2-5-4-1 4-13-5 0 7-7-1-6 3-1-4-1-7-7 4-14 2 0-3 0-4-111 4-23 8-9-6-4 2-21 2-4-8-18 3-2-1-12 6-4-5-1 6-4-1-4-4-10 4-3-6-29-4-3 3 11 12 1 1 1 5 6-6 28 4 2 0 7-7 2 7 54-6 8 1 16 8 22 2 10-9 92-3 28 9 4-7 8 10 7-7 2 0 10 6 3-4 34 2 5-3 5-5-4 22-2-8-8 4-1-1-7 2-2-1-5-6-3 7-10 0-6 0-4 4-14-1-8-2-1 3-6-6-1-5-12 3-4 2-5-2-9-3-138 6-24 2-59-8-8 2-5-2 46 20 101-3 84-2 4-1 10-2 3 7 4-2 15 4 3-1 0-9 22 12 5 0 7-3 5-7 3 7 1-8 18 2 5 6 2-5 9 3 1-3-8 16-4 0-1-7-9 2 0 5-10-2-15 6-8-2-7-5-13-4-4 11-5-8-18 3-11-2-2 6-1-9 0-2-17 3-43 8-81-9-79 9-54-8-29-1 46 14 54-2 155 8 20-3 1-5 31 7 4-3 4 1 0 3 3-7 11 6 11-2 9 2 2-5 4 2 1-4 9 7 5 0 0-5 5 1 10-3 3 8 10 0 7-1 11 3-32 8-3-5-11 8-1 0-15-10-15 11-2-6-7 0-2-3-8 0-3-1 0 1-26 1-29 2-58 0-76-6-24 10-32 2-82-6 175 7 95 9 16-3 34-5 1 2 22 2 30-5 1 3 7 3 2 2 124 13-15 0-44 0-246-5-44 4-32-6-8-2-126 17 118-5 116 6 18-2 37 6 23-4 87 3 29-2 29 1 1-1 6 1 3-3 14 2 6 3 2 1 3-6 7-3 30 20-2 1-11-6-2 4-2 2-6-11-11 3-7 7-1-10-18 5-1 1-20-7-2 5-8 2-3-1-4 1-1 4-6 0-5 1-216-6-10-2-19 1-110 16 15-2 3 3 3-4 0 2 11-5 41 0 34 3 154 5 88-2 11 0 15 0 8-7 3 0 16 3 18 0 7-1 8-4 1 7 0-3 24 5 3-7 0 9 5-7 0 5 1 2 18-4-8 11-6 5-13-1-9-6-7 0-5 0-4 3-2 1-6-4-2 7-16-7 0 7-2-6-2 5-5-4-5 5-8-4-38-6-9 9-82-7-11-3-182 11-1-2-7 1-7 1-3-11-10 9 0-4-5 5-9 1-2-7-9-2-4 4-38 4 2 6 25 6 1 0 2-8 1 6 2 2 8-1 9-1 4-1 2-2 5 4 0-6 1 8 11-5 3-6 0 4 6 6 19-2 8-4 1-3 17 8 8-2 235-6 1 9 1-7 23 7 9-6 2-3 1 0 23 0 2 7 6 1 3-3 9 0 10 2 3-3 1 6 2-8 3 4 3-3 0 5 25-7 10 3 4 0 4 3 6-7 12 7 5 7-16 1-7 4-2 1-1-4-4 5-13-9-9 3-5 3-2-7-26 10-18-10-36 10-1-5-8 2-7-1-8 5-1-3-1-8-7 0-59 11-96-10-37 2 0 4-1-1-13 1-45 0-9-6 0 7-2 3-44-6-3-4-9-1-20 10-6 1-1-10-7 2 15 10 3 9 12-9 2 8 5 0 0-3 6-4 10 2 4 3 3-4 1 0 5 2 19-3 21 6 8 1 14-6 2 8 14-6 23 3 14 3 87-6 69 1 31-4 1 9 13-9 4 6 1-1 26-5 1 1 6 5 8 3 1-3 35 3 11-3 4 3 4-1 2-2 12 3 6-2 4-6-26 20-12-9 0 6-4-4-8-3-3 2-12-3-9 8-10 1-7-2-6 2-4-3-15 0 0 4-24-3-14 2-12-7-5 10-1-3-3-6-1 3-15-2 0 1-5 6-70 0-21-3-1-3-10 1-5-5-7 7-15-4-35 1-1-1-2-1-15-2-14 8-8 1-1-5-1 7-2-11-23 7-19 0 0 2-11-1-11 1-3 0-8-5-7-2-3 5-1-3-2 5-1-5-5-4 3 15 2-1 22 2 9 4 5-2 7-2 9 0 15-4 5 9 3-7 3-2 0 9 0-6 1 7 6-10 1 6 30 5 14-8 1-3 1 11 4-9 10-2 0 10 11-8 13 1 13-3 11 2 3-1 5 8 1 2 1-11 6 7 94 3 14-11 2 4 15-3 8 5 2-2 14-3 16 3 4-2 1 4 38-1 26-4 30 2 6 2-79 15-31-6-1 7-10-3-2 5-11-10-16 3 0-2-5 10-5-7-16 2-2-3-9 2-2-1-67 5-8 0-11-2-1-3-15-3-7 7-10-2-3 4 0-1-4-10-3 6-23-2-17 4-5-5-5-3 0 6-1 1-5 4-1-4-11 4-5-7-1-3-8 3-6 6 0-1 0-2-6 3-9-8-11 3-23 5-6-6-2-3-9 3-3 0-82 11 75 0 35 1 6 4 6-7 14 2 8 8 6-3 1-2 7 5 0-3 2-4 25 5 4-9 28 11 6-4 3-2 6 5 22-10 9 11 16-10 8-1 3 3 80 1 4-1 1-1 3 7 5 1 3-6 2 5 16-6 14-3 4 5 37 0-58 14-113 0-8-5-2 10-8-9-11 2-6-3-1 6-4-1-2-6-7-1-7 7-9 0-3-2-4-4-5 8-4 0-4-2-15 2-4-5-2 1-5 2-4 4-11-11-5 2-10-1-3 10-2 0-5-10-7 9-208 1-32 6 2 6 23 0 14-5 3 4 0-6 3 8 2-4 89 1 82-8 24-1 8 10 6-1 5-5 6-4 1 1 0 7 2 3 8-1 6-5 3-2 3 3 9 3 2-4 1 3 2 2 0 1 2-5 1 2 22 0 2-3 1-4 1 9 0-6 15-1 4 2 4 6 5-5 21-5 8 4 5-5 5 19-29-4-12 4-1 5-3 0-14-12-22 6-1 5 0-1-6-10-2 9-8 1-2-2-3-5-1 7-17-7-17 0-210-2 0 3-21-2-5 3-4-5 0 6-12-1-5 2-3-6 0 12 21 5 17 3 17-6 4 6 3-3 69 0 112-4 21 1 16-1 3 3 2-4 7 0 16 7 1-3 7 7 9-9 18 7 12-4 0-5 8 3 14 5 2-9 4 1-25 23-16-3-2-2-4-4-10 8-19-4 0-6 0 5-2-1-16-1-15 7-27-1-100-9-62 0-7 9-5-8-4 3-1 0-2 4-15-9-2 5-3 3-4-2-6-6-7 11-3-8-7 2-19 1-2 3-3-5-2 16 32 1 2 0 9-3 5 5 8-4 5-4 2 5 7-8 7 6 10-2 4 7 210 1 22-8 8 1 8-2 5 0 7 6 3-7-54 19-204 3-14-10-24 4-6 4-17-9-5 1-8 8-3 1-5-8-14-2-4 1-9 5 11 11 1 2 0 4 2-11 4 1 5 5 2-5 3 3 3-5 9 0 9 4 4 6 11-10 2 11 8-6 8 0 1 6 1-3 10-8 173 7 15-4-17 18-16 0-10 1-5 2-143-7-2 6-4-8-7 3-15 5-2-8-3 4-1 4-8-4-22-6-10 3-6 4-28 9 28 5 10-7 7 1 10 7 4 0 3-10 1 6 7-2 46 2 8-3 68 6 17 9-22-4-3 5-8-1-1 5-11-2-18-9-29 11-4-5-9-6 0 9-2-6-5 4-2-8-4 4-5 7-12-5-7-2-3 7-9-1-3-3-2-1-28-3-5 5-5-5-6 16 2-6 4 1 9-1 6 3 7-1 1 2 15 3 14-7 8 10 5-11 5 11 0-9 15 5 15-3 1-3 6 7 1-7 65 5 12-5-24 18-25-5-28 3-9 6-16-10-2 10-12-6-36 4-12-9-4 2-1 3-3 7-1-6-1 5-3-5-7 3-2 0-2-8 12 12 18 3 12 7 13-1 10-5 2-1 40 5 5-8 38 7 53 10-56 1-25-4-5 6-22-4-12 0-5-3-13 8-8-3-1 0-2 3-6-8-8 2-2-2-15-2-7 10-1-8-8 5 0 7 30 9 15-11 0 7 6 1 10 3 8-7 9-2 8 5 2-1 8 4 5-8 7 4 40 1 25-1-57 12-24-2-3 2-1-3-12 8-2-10-20 10-1-2-6-4-2 4-2-8 0 2-10 5-16 1 0 1-2-10-1 0-15 19 11-4 1 8 9 0 11-1 19-5 1-5 11 2 2-2 6 9 10-7 0 10 16-5 2 3 0-5 67 15-96 3-2-11-18 3-21 6-5 1-8-8-4 7 5 6 2 7 7-6 12-2 25 7 29-6-6 19-5-8-16 8-2 2-7-9-2-3-23 8-5-7 0 10-3-1-3-5 25 14 23 0 4-3 2 3 1 10-1 6-3-1-17-9 15 13 1-2 2 11" marker-start="url(#d28)" marker-mid="url(#d28)" marker-end="url(#d28)"/>
<path d="M3372 394l74 11-29 3-22-3-4-5-61 5-11 8 33-1 32 7 65-8 17 6 0 3 87-4-6 16-8-9-10 9-10-5-40 0-12-1-6 3-4-6-5 6-21-5-12-4-41 7-2-3-7-3-51 3 31 13 3 6 1-3 3-6 2 2 14 8 7-11 12 3 15 0 2 5 33-5 7 6 6-2 22-7 6 8 7 1 8-1 9 3 17-5 10 3 6 0 9-10 2 8 8-1 36 13-7-3-11 3-22-3-8-5-11 10-7-3-10-3-19 7-26-3-6-6-4 0-41-1-36 5-19-3-17 18 14 0 1 0 15-1 26-5 19 5 4-2 8-4 3 0 0 9 9 1 5-6 52 5 16 0 9-3 24 0 31-5 44 17-11-5-3 4-76-4-9 7-13-5 0-1-13 4-17-7-5 8-9-2-36-2-10 5-13-9-15 6-22 0-6-3-12 2-13 7 18 11 28-3 8-1 31 1 8 1 7-4 32-3 3 3 10-3 21 2 10 0 14-2 11 2 4 5 14-7 29-1 48 3 18 0-58 19-14-4-30-4-29 6-15 1-10 1-17-7-42 7-3-10-11 3-4 5-20-10-2 2-31 9-24-7 39 12 14 0 11 3 48-6 21 6 60 2 140 14-19-9-19 5-9 3-15 0-18-7-40 5-2 2-3-9-68 5-115 1-38 1 56 11 10 1 1 1 5-9 39 2 11-1 0 6 45-6 43 7 32 2 29-8 62-2 13 5 4 15-32-8-11 5-35 4-13-8-39 8-24-7-18 0-17 2-12 6-48-10-26 3-13 7-1-5-12-1-32 14 37 2 5-2 7 4 7-1 11-4 3 4 55-3 18-1 3 4 18-6 12 2 1-3 43 3 24-2 8 9 0-8 37-3 0 1 6 6 41-2 8 1-39 7-36 6 0-4-6 3-6-6-18 9-17-4-19 1-2 4-25-2-3 3-24-7-7 3-47-3-13-3-24 7-36-3-5 15 26 0 11 2 5-6 12-3 11-2 36 6 35 2 27-7 20 10 3-2 12-3 38 0 1 2 12-4 16 7 6-7 10 0 37 0 0-3 14-1 53 5-65 8-12 4-25 7-4-7-46-3-23 3-7 1-13-3-23 0-14 6-12-4-4 1-2 3-25-2-74-4-17 3-26-4 30 19 4-6 3 1 32-1 20 3 13-2 5 4 61-2 16-5 48 0 2 1 0 10 7-5 2-1 6-4 3 5 5 4 3-3 11-4 16-3 31 7 5 0 14-2 1-5 23 0 8 9 10-5 7 19-25 0-10-8 0 6-41-8-17 4-1-1-5 1-8-4-3-1-4 6-1-4-4 8-6 0-7-9-3 3-1 0-5 5 0-1-4 0-3 1-1-3-10-1-5-3-14 2-18-4-1 10-10-6-5 7-9-9-4 8-42-5-2-4-18 3-1 4-18 0-26 2-24-10-3 10-16 3 3 9 30-4 9 3 4 0 63-6 23-2 31 6 2-3 2 6 1 0 7-6 19-2 3 5 1-1 6 0 20-4 6 6 11-2 2-6 5 2 1 5 1-6 2 0 9-1 1 2 1 7 3-5 4-5 2 0 8 5 11 6 6-4 18-4 10 2 0 4 0-8 2 4 1-1 12 7 10-5 2-3 7 8-14 10-1 1-6-2-3 1-1-1-4 0-1-4-4-3-4 4-1 1-1-2-10 0-9 4-3-2-4-3-7 2-6 6 0-8 0 8-5-10-12 8-2-9-7 5-5 3-8-4-6 8-6-3-9 1-2 1-1-7-1 4-1-6-1-1-9 0-2 9-1-1-3 0-1 3-10-1-5-7-30 3-3-7 0 11-2-7-9 3-13-1-12 2-13 4-8-2-16 1-15 1-25-7 2 17 15-3 7-5 5 9 7-3 10-6 11-2 5 2 10 9 4-1 5-8 3 4 6-3 7 2 14-1 14-3 1 1 8 2 15 0 9-3 8 6 2 4 3-3 4-2 1 0 0-2 9 0 8 5 3 1 3 1 0 0 8-3 0 1 0 1 6 1 1-10 1 8 5-4 2 2 0 5 2-10 1 7 3-8 0 6 1 4 4-2 3-9 2 10 1 2 2-9 0 3 3-2 3 4 12-1 2-2 1 7 1 0 5-9 3 2 10 3 5-4 11 8 52-12-7 18-43 1-9 0-7-6-9 2-3 1-1-2 0 4-4-5-7 4-14 2-8 4-7-9-2 1-4-2-8 4-1 2-1-2-1-4 0 1-3 1 0-2-6 9-5 0-3-8-7 9-1-11 0 9-5 1-4 0-2-9-6 5-7-3-5 2-10-3-1-2-3 9-14-1-5-6-4 7-1-7-9-2-10 2-4 2-6 8 0-10-33 7-14 0-4 1-2-7-27 0-49 17 13-5 8-3 7 10 12 0 14 1 14-4 2 2 15-3 18 2 25-5 8 5 16-1 4-2 5 1 1 0 3-1 21-3 1 7 6-6 5 4 5-3 2-2 9 9 11-3 4-1 2-3 2 4 2-1 2-5 0 1 6 8 6-10 6 6 7 0 1 0 1 0 6-2 9-5 4 2 11 10 2-7 0-4 13 8 5-6 18 6 3-6 20-2 36 17-7-2-35 4-10 3-18-10-6 4-5-1-7-3-2 3-6 4-8-1-10-6-15 2 0 2-9 0-4 5-12-8-2-2-1 4 0 5-1-3-3 3-3-5-2-3-4 4-1-4-1 2-8 1-3-4-11 2-8 2-12 0-1 1 0 2-2 4-5-1 0-10-10 0 0 8-14-6 0-2 0 9-3 0-16-2-25 0-69-5-24-1-9 15 37 1 18 5 1-9 13 9 17-8 14 9 1-10 5 8 23-9 20 1 11 5 5 3 4-6 4 0 2 5 8 1 1-6 7 9 1-3 0-3 2 4 2-6 0 7 11-9 15 0 7 0 0 4 0 3 4-1 3-2 1 1 3 4 1-2 1-2 4 3 3-5 1 3 3-1 4-1 3 2 1-2 2 1 2-1 12-2 11 4 4-4 1-3 14 2 1-1 21 5 14 2 2-5 35-2 18 2-47 8-14 7-5 3-10-6-1 4-19 0-6-4-4 5-2-6-3 5 0-7-2 8-3-2-10-1 0 2-7 2-6-6-11 6-11-2-1-8 0 11-6-1 0-3-5 3-6-4-1-4-7 9-5-5-9-1-4 3-2-2-2-5-4 3-2-4-1 3-1 5-10-4-3-3-2 4-14 7-1-6-5 0-6-5-21 7-1-8-8 6-26-3-38 9-26-4-18-7 7 18 14 3 1-4 3 0 10-1 12 1 5-1 38 3 10-6 18-1 12 10 0-3 2-2 5-3 31 7 8-6 7-2 12 7 8 2 4-9 2 2 4 2 9 4 1-3 5 2 9-3 2-6 2 0 7 2 1 7 1 1 9-8 2 5 3-6 2 11 1-8 5 4 15 2 2-9 1 4 0-2 1 6 2-5 10 3 18-1 5 4 9 0 0-6 32 4-29 15-6-5-26-1-27-2-19 1-4-1-7 1-3-2-15 1-5 1-1-1-4 3-3 3-1-8-4 2-8-1-2-1-7 3-2 8-22-2-7 0-1-6-8 1-1 2-4-1-5-1-25-4-13-1-35 3-36 7-11-6-12-3-26 6 17 16 3-10 93 2 8 8 39-10 3 8 6-8 4 8 2-2 15 3 4-9 1 11 1-10 1-1 14 10 11-6 5 5 0-5 0 1 24 3 1-8 6 6 1 1 3-3 0 1 4 3 5-9 6 5 2 4 1-4 4-3 3-1 5 9 16-3 1-3 6 3 1 0 33-6 22-1-17 22-52 0-5-10-15 4-3-3-1 11-5-3-13-2-3-6-2 6-3 0-4-1-1 5-5-9-8 3-1 4-3-2-5-6-16 0-9 10-20-1-9 1-6-6-19-4-16 6-60 4-3-1-4-5-26-3-1 7-15 1-19 0-112 14 120-2 2-9 4-1 8 3 17-1 16-2 30 7 13 5 21 0 28-9 23 4 29-5 0 4 27-2 1 2 0 0 24 3 8 1 16-4 4 1 9 0 86 0-112 13-13-2-22-6-9 7-3-7-31 5-9-5-13 8-26 1-4 2-24-11-21 4-28 3-24 0-3-1 0 0-10-1-6 6-91-4-15 3-7 2-8-4-18 10 37 6 4-10 12 9 1-2 5 0 76-7 2-2 1 4 13 3 4-5 3 2 5 7 1-5 0-4 4 3 5-4 11 9 16-3 81-3-93 20-8-5-2-6-3 1-3 4-2 3-1 1-5-6-10 5-3-1-10-1-17 3-107 0-23-1-4 1-32 11 26 2 10-3 4-2 3 5 5-1 10-4 3 6 10-3 26-3 11 2 26 1 41-4 4 5 9 1 6-10 4 9 2-5 0 5 1-5 1-2 5 7 2 1 2-8 10 0 2-3-13 21-5-8-3 1-13 5-1-6 0 10-3-9-6 5-5-5-1 7-3-8-20 2-33 3-9 5-2-4-15-4 0 9-7-11-15 6-4 5-30-3-11-9-8 6-1 3-1 0-3-7-4 10 6 1 19 11 8-1 4-3 4-4 23 8 6-4 6-6 6 0 6 2 11 4 6-6 4-1 2 2 3 3 9 0 4 1 3-7 18 5 2-1 4 0 2 2 2-3 19 6 15-9 26 6-6 12-58 1-1-5-6 6 0 3-1-2 0-2-9-2-10 3-1 0-5-7-9 1-6 4-21 1-13 1-2 4-1-4 0 0-6 1-5-5-9-2-12-2-4 10-14-6-3-1-3 3-13-2-2-4 34 12 3 0 1 7 6-3 3-1 1 2 11 5 2-8 2 1 7 0 6-2 11 10 10-4 6-1 10-4" marker-start="url(#cr)" marker-mid="url(#cr)" marker-end="url(#cr)"/>
<path d="M3744 512l33 1 32 15-15-11-18-1-4 6-24 16 12-7 8-1 2 5 9 3 19-1 8 2 8-7-12 13 0 1-18-3-15-1-8 8-8 0-1-3-4-7-1 2-12 5-8 2 9 7 14 0 6 2 2 0 4 5 6-9 4-1 2-1 1 11 5-8 6 8 6 0 7-8 11-2-21 17-2 5-5-4-2 5-1-6-6 1 0-2-6-1-3-1-3 1-6 2-2-4-7 1-2-2-6 9-5-7-6 14 16 5 10-4 25 5 23 7-18-2-12 5-11-5-22 6-32 3 78 1 3 17-64 55-256 70-11-5 33 14 7 0-5 7-3-1-14 15 333 0 16 12-2 4-2-1-8-3-6 3-5-9-12 8-2-3 3 14 2-5 4 4 24 3 2-1 11 3 1-8 4 0 9 5 4 1 0-2 4 2 2-7 3 8 10 0 12-1 2-6 46 20-16 1-9-1-6 0-11-7-6 6-8-8-1 5-3 0 0-5-1 9 0-7-38 6-10-7-4 0-1 0 44 10 3 5 0-5 4 0 2 10 15-11 6 2 1 0 4 2 6 0 5 7 1-9 1 9 2 0 1-7 4 7 6-3 17-7 1 17-14-1-6 2-25-2-5-5-11 8-760 76 3 0 29 19-30-1 63 7 7 11 1-7 5 0 0 3 1-3 0 0 12 1-5 8-15-1-21 0-6 0-13 11-11-1-17-11 76 19" marker-start="url(#d35)" marker-mid="url(#d35)" marker-end="url(#d35)"/>
<path d="M3514 309l0 11 19 9-13-3-18 28-1 3-135 14 0-5 4-2 59 8 34 0 40-4-48 13-44-7-7 2-11 0-42 11 23 1 16 0 33 6 15-6 51 0-35 12-21-1-7 3-7-1-32-3-29 1 33 15 49-2 7-3-21 16-22-1-8 3-2 4-46-1 36 7-24 18-1-7-2 16 10 19-11 33 191 28-21 17 10 12-45-8 14 17 1 8-19 4" marker-start="url(#d5)" marker-mid="url(#d5)" marker-end="url(#d5)"/>
<path d="M3529 312l8 14-2 9-21-6-11 5 32 9-47 5-69 15 26 9 49 10-71-9-14 7-49 1 3 13 41-6 67 7-9 6-60-3-19-2-8 24 28-2 2-1 19-1 6 0 27-5-32 21-52-8-18 6 1 7 42-4-1 14-25 4 0 5 3 3-5 14-16-3-1 14-4 20 362 8 35 5 0 7-3-7-24 3-19-1 32 16 60 2 12-6 28-3-2 16-97-4-34 10 156 14-37 3-18 6-2-4-8 0-74 3-18-2 28 9 123 2 1 2 11-5 14 21-2-1-32-9-36 2-24 17 80-5-137 9-5 9-1 8 28 7 44 8-22-1-31-1-1 1-21 1-8 3 58 10 55-9-22 15-16 6-38-5-19 7-10 12 18-2 3-9 30 3 32 1 15 8-14 10-7-4-51-5-23 1-2 6-1 3-15-1 20 6 29 0 12 0 11 7 4-7 3 6 30-1 10 1 9 8-97 4-25 22-20-3-25 0 38 12 81-3 49 11-8 7-45 1-32-3 15 16 143-7-423 24 181 2 74 6 17-10 1 4 73 5 106 5-76 2-26 0-263 6-102-8-9 0 25 19 73 1 125-5 180-2 65 18-143-3-34 3-179 2-96-7-17 7 96 0 204 12 55-2 11-2-89 9-91-4-37 1-148 6-5-1 104 15 208 2-183 7-56 12 37 3 39 4-28 16-9 9 38 17-320 5-9 0-10 11-10 21 23 24 23 6 2 2 20-5-23 14-63 4 103 37-39 8-11 1 23 22" marker-start="url(#cr)" marker-mid="url(#cr)" marker-end="url(#cr)"/>
<path d="M2768 766l-3-2-1 2-2 0-3 1-6-10-1 1-2 7-2-9 0 8-1 2-2 0-1-7 0 3-2 5-3-10-1 8-2 0-1-1-1-6-4 10-6-9-8 1-6 2 0 12 3 0 2-6 0 3 3 0 0 8 0 1 6-4 1-1 13 5 6-5 5-3 0 0 0 6 1-2 2 3 2-4 0-3 7 5 0 3 6-5 2-5 4 2 5-1 4 14-7 5-3-4-6-5-3 3-1-2-15-1-1 8-3 1-1-5-1 0-4-2 0 8-1-6 0 2-6 1-3-6-2 4-1 4-2-9-4 5-1-5 0 1-2 2-2 6-2-6-3-2 2 18 0 1 2-1 3 1 6-7 0 5 2-3 2 6 9-9 1 6 2-3 0 5 1 3 3-2 4-4 1-2 1 5 8 2 4-7 0 8 1-3 5-8 2 4 2-3 3 1 2 1 4-1 1 5 4 0 5-3 1 2 4 7-4 7-3-7-1 10-1-7-2 3-3 0-2 3-4-3-5-6-6 5 0-6-2 2-4 5-6-1-1-5-1 3-7 7-1 0-1-9 0 7 0-5-3 1-3 4-2 0-1-9-2 1-4 10-2-10 0 8-5 1-2-6-1-1-1 0-2 6-3-3-3-7-4 4-2 1-4 19 9-2 4-5 4-3 1 0 5 2 6 1 2 3 2-4 3 4 12 1 4-3 11-2 2 1 3 0 7 5 3-5 0-5 9 4 1 6 1-5 0 6 0-1 3-7 2 4 2-3 1 3 31 12-24-6 0 3-1 1-2 1-2 5-4-6-7 1-4-5-1 7-2 0-5-4-2 5-2-7 0 4-1-5-7 2-2-3-2 2-1 10-2-8-17-2-1 5-2 1-3 3-3-1-2-7-3-2-1 3-1 0 0 0-10 3-1-6-5 4-1 0 0 5-1-9-2 9-4-4 0-2-2 1-2-1-1 2-2 3-4 0-2-1-9 4-9-1-6-2-19 5 2 5 5 0 1-2 2 3 7-1 1-3 0 2 2 3 5-5 1-2 1 7 1-8 1 1 0 6 1 0 3-5 6 3 4 2 3-6 2 1 1 8 2-2 1-1 1-6 3 0 0 7 1 3 2-1 2-10 1 8 3-3 1 1 1 5 7-1 0-11 6 7 0-6 2 8 1 2 4 0 0-8 1 2 1-1 2 3 2 1 6-6 2 7 1-4 2 5 0-8 2 0 5 3 1 0 3-4 1 5 10-1 3 2 8-6 5 10 1-7 4-1 0-3 3 11 3-9 2 6 9 0 1-5 3 5 1 1 8-7 2 7 4-1 6 3 0-2 1-2 7 0 5 5 11-6 10 2 8 2 5 2 2 11-2-7-3 4-1-7-4 9 0-9-3 8-1-3-10 6 0-5 0-4-6 6-2-9-4 5-2-5 0 6-3-5-3 11-1-3 0-3-1 2-8 2 0-3 0 1-3-5-1 0-2-1-3-1-1 9-3-1-1 2-2-10-5 4-1 5-5 2-2-6-6 3-1-5-5 5-3-7-4 4 0 3-5-8-3 10-1 0-3 0 0-5 0 0-1 3-4-2-2 1 0 3-1-10-3 0-1 5-12-2-1 6-1-9-4 4 0 7-1-3-1-2-1 1-1 0-4-7-13 3-1 6-2 0-3 0-4-5-3-2-9 2-2 4-5 1-2-7-1-1-6 5-1-5 0 6-5-3-3 7-2-10-6-1-1 10-1-1-1-7-2-1-3 5 0-5-1-2-2 6-7-5-4 9-3 1-2-9-1 8-1-6-1-3-5 6 0 3-11-2 0 11 3 3 3-2 6 1 0 3 2-5 1 4 0 1 2-4 0-2 3 3 12-1 2-7 5 7 2-2 4-1 2-1 3-3 0 3 1-2 1 10 1-3 17-5 3 7 2-6 4 5 4 0 0-6 1 1 3 6 0-2 1-3 7-2 1 1 0-2 1 1 2 0 2 5 2-7 6 0 1 5 3-2 3-2 1 9 1-5 1 5 1-2 1-2 3-1 4-3 1 3 6-3 2-1 6 9 1-1 3 0 2-1 3-8 4 0 1 9 3-11 0 1 3 1 0 9 4-4 4-1 12-6 0 7 7 0 3 3 0-1 3-1 2-3 7 2 2 4 0-6 4 0 6 2 0-6 3 6 0-7 3 0 2 5 0-1 6 3 3-6 1 7 1-2 4 0 0 1 7-1 2 2 4-7 3 6 1-5 1 0 5 6 8 2 0 1 2-2 6 15-10-10-1 4-1 2 0 2-6-3-3 5-1-1-2-3-2 2-12-4-10 1-1-6-3 4-2-4-1 6-8-6-9 11-9-7-5-5-8 11-1-1 0-10-2 7-1 2-3 3-1-4-7-1-1 0-7-1-3 3 0-9 0 5-3-3-2 4-1 2-4 2-2-8-1 4-4-4-1 0-2 8-1-1-1-8-1 5-6-6-5 9-1 1-1-6 0 1-1 1-4 1-2 0 0 4-4-11-8 10-4-9-1 0-9 1-2 1 0 5 0 2-2-2-1-7 0 8-1-9-6 4-7 7-1-8-2 5-5 0-2 0-7-5-1 0-2 7-2-6-2 5-3 1-1-10-1 8-3 1-1-4-1-3-7 4-2 5 0-2-6 1-3 0-1-9-1 0-2 6-5-6-1 10-1-4-1-3 0 4-6-3-2 7-1-10 0 9-3-5-4 0-5 16 2-1 1-5 4-4 2 6 12 5 3-2 5 0 3-2 8 5 3-10 1 9 2-11 3 5 0 6 1-3 9-2 2 5 0 1 3-6 4-4 5 1 1 5 1-1 7-3 3 3 0 0 0-1 1 1 1-3 5-4 0 3 0 7 3-5 1 4 1-8 0 0 1 0 2 5 1-1 9 6 3-4 7 2 0 1 2 0 2 1 6-11 11 9 4-7 1 3 1 3 3-8 3 10 9-2 3-7 4-1 1 11 4 0 5-3 3 1 0-7 1 3 1-3 5 6 1-3 6 5 1-3 7-2 1-1 1 4 1-3 1 1 0-3 1 6 4 1 2-1 1 3 4-7 0 4 0-2 2 5 5-11 1 4 1 3 9-2 7-5 4 4 0-4 1-1 5 1 2 10 5-7 1-3 1 1 1 8 5-9 1 4 5-2 1-2 2 7 2-4 3 0 0-2 2 4 9 3 1 0 15-1 6 0-12 15-5-3 0 1-2-6 0 7-2-8-4 4-1 6-1-6-4-2-4-2-1 2-6 1-1-4-1 9-1 1 0 0-5-6-1 7 0-7-2 5 0-7-1 8-6-5-2-3-1 1-8-1-4 2-2 7-4-8-1 6-3-2-1-1 0-6 0 7-1 0 0 2-4 0-4 0-2-5 0-2-1 4-7 1-1 0-2-3-12-2-1 0 0 6-2-5-7 4-3-1 0 0-4 0-1-6-1 8-1-7-2 0 0 10-4-12-6 2-10 1-10 6-9 0-1-4 0 3-1-6-2 8-8-5-3 2-2-4 0 6-2 0-1-6-6 8 0-5-2-5-2 0-1 6 0 1-4-6-12 3-1 2-2 3-1-2-1-8 0 6-1-3-5 5-3-7-3 0-2 9-4-5 0-2-1-1 0 0-2 5 0-1-2 5 0-4-2-1-2-6-5 1 0 6-1 4-2-3-1 3-2-7-5 1-1 1 0 3 0 3-1-12 0 1 0 5-5-3-3 4 0 4-2-1-4 2 0-9-7 5-3-4-7 4 0-4-6 0-1 8-1-3-10 3-1-7 4 19 1-2 3-8 0 5 1-2 6 5 3-2 9-8 2 7 2 3 1-3 0 0 2-4 1 2 0-1 2-1 0 5 3 3 2-3 4-3 4 6 0-2 5-3 4-5 2 5 2-4 2-1 3 2 2 4 5 3 1-5 4 4 1-6 0 6 0-2 4-3 4 2 1-5 1 3 1-1 1 2 6 5 4-3 3 1 5-3 4-5 2 1 1 7 1-6 2 8 2 2 0-8 2-1 1-3 1 0 5 12 1-11 4 0 1 0 1 0 2 6 3-7 1 11 4 0 1 0 1-2 2-4 1 5 2-6 1-4 0 1 1 0 4 2 3-1 3-1 2 6 1 4 2-2 8 0 3-4 2 4 2-2 1-5 4 2 3-3 1 0 4 10 2-6 1 5 4-3 2-1 0-2 2 5 2-7 7 3 0 5 3-9 12 5 1 1 4-5 2 8 7 0 0-2 0-2 4 6 2-5 0-1 3-3 1 9 1-7 1 7 0-5 1-6 1 2 3-2 0 4 0 3 1-2 1-2 3-3 0 6 1-2 0-3 2 7 6-8 0 2 7 7 0-4 10 2 3-3 2-4 1 8 13-5 2-1 5 1-6 16-9 0-2-1-1 1-3 1-2 0 0 3-5-4-1-3-2 6-3-4 0-4-1 5-1 2-3-1-2-2-3-4-2 0-2 8 0-5-6 0-1 3-5-7-5-2-2 9 0 1 0 0-6-6-1 1-4 6-2-7-7 5-5-3-4 4 0-9-1 5-3-1 0 4 0-8-1 11-4-5-5 1-2 0 0 0-3 2-5 0 0 2-5-2-1-1-1-7-1 3-2 4 0-8-3 3-6 1-1-3-4-1-3 11-3-10-1 3-3-4-2 7-2-8-3 2 0 7-2-2-5-2-2-4 0 1-1 10-6-8-4 3-2 4-4-10 0-1-1 11-3-2 0-8 0 4-5 1-2 1-3 4-3-10-2 9 0-4-2-4-3 6-4-6-1 4 0 4-1-1-6 1-2-2 0-4-1-1-1 2-2-2-3 4-3-3-3 1 0 4-2 1 0-9-1 11-11-6 0-3-1-1-2 7-3-5-1 7-4-8-5 2 0 6-3-2-3 2 0-8-2-2-2 3-2 2-8-6-2 8-6-5-1 8-3-4-1 1 0-1-1-4-3 1 0 4-1-4-3 7-10 0-3 11 1-10 2 3 13 2 5 3 6 4 4-4 3 0 3-2 1 0 3-2 2-2 1 0 2-1 1 8 6-6 5 6 0-6 2 6 3 0 0-5 6 2 1 1 2-6 1 5 5-2 1-2 1 8 1-9 8 9 4-8 3 2 1-2 6 4 3 2 2-4 14-1 1 8 4 1 1-5 0-1 2-6 0 5 3 0 2 1 10-3 0 4 6-6 6 6 1 0 0-2 0-3 1 1 4 7 0-3 1 4 0-11 2 4 3 0 8 6 1-5 1 2 1 3 4 1 4-5 0 5 2 0 1-2 0-2 0-1 3-5 2 0 4 6 9-5 2-1 3 5 1-1 4 3 4 3 1-5 1-3 4 2 2-1 3 6 3-9 0 0 1 10 0-5 3 5 3-5 1-2 7 4 1-2 2-6 6 2 2 8 7-3 1 0 1 3 7-6 2-4 5 3 2 4 6 3 3-6 3 4 4 0-6 6-5 2-1 4-2 0-2-3 0-1-4 3-4-2 0 5-4-3-2 2-5-3-4-4-1 5-1 5-3-2-1-6 0-3-1 9 0 0-1-8-2 6-4 1-10-6-3 7-1-4-6 3 0-4-5 7-6-6-1 0-1 1 0-3-8-1-2 2-2 3-2-6-3 2 0 2-1 2-4-3-1 5-2 2-5-4-2-2-2 4-2-5-2 1-3-4-1 6-2-2-2 4-6-7-3 5-3-7-2 8-1-6-5-1-1 2-1-1-1 7-1-9-3 5 0 5-1-1-2-1-1-1-2-4-2 3 0-6-9 6-3 1-1 3-1-10-2 1-3 1 0 6-2-9-3 1-4 10-2-7 0 5-1-3-5 3-2 0-1-6 0 4-2-6-1 3-3 8-12-10-5 0-2 0-8 3-1 3-1-3-5-3-7 3-7-4 0 6-2-6-1-1 0 7-4-6-2 2-7 6-1-8-2 4-1 0 0-5-5 4-2 5-5 1-2-2-2-7-3 8 0-1-1-1-1-4 5 12 2-1 3 1 8-3 4 3 0 2 2 2 0-7 13 10 4-6 4-1 2 4 8 4 0-3 4-1 1 0 1-2 2 3 9-5 1 2 10 2 0-5 1 9 5-2 2-7 0 1 1 1 0 7 5 0 3-8 2 3 8 6 1-2 6 0 1-9 4 1 1 3 4 4 0-7 2 3 1 3 4-2 1 3 1-2 0-6 8 6 1-7 4 7 0-7 0 2 4 7 3 3 4-7 2 0 6 2 2-4 2-1 3 9 4-5 1 0 0 5 3-5 2 0 0 3 5 0 7-2 0-7 1 7 2-3 2 8 1-1 7-10 9 1 4 3 1 6 1-7 3 6 4-8 0 2 1 0 0 1 8-3 6 1 3-1 3 4 10-1 0-1 4 2 2-6 0 10 4-5 6 5-6 6-2-1-1-1-10 6-6-5-1 7-1-1-1-8-1 3-2-4-2 10-3-8-1 3-7-1-5 7-18-5 0-6-3 12 0-8-2 5-6-2-3-4-2 2-6-3-5 2 0 3 0-2-2 5-2-7-5 6 0-1-7 2-2 1-7-5-1 1-2 2 0 0-1-6-9 2-8 2 0-6-10 1-1 6-1 1-1-3-2-3-7 5-3 1-2-2-3 4-1 1-2-6-4 6 0-11 0 0 0 9-1-6-4 1-5 1-1 5-2-4-3 5-1-7 0-1-1 6-1 1-4-2-1-5 0-2-1 10-1-1-1-5-2 0 0 5-2-8 0 3-2 3 0 0 0 0-5-1-2-3-1 6-4-2-1-7-1-1 0 9-1-2-3 3-1-6-2-4-1 9-1-1-3-2-5-6-1 11-4-1-1-6-1-1-3 8-7-8 0-3 0 7-1-4-1 0-1 4 6 11 8-6 6 3 1 5 1-7 1 4 1 0 3-3 5-3 2 11 0-8 1-1 9 1 0 2 5 1 4-2 13 2 2-2 6 0 2 6 7-8 3 4 5-3 1 5 0-2 4 5 2-10 1 3 2 7 4-6 1-3 0 2 5 1 7 3 0-4 3 4 7-2 3-5 10 5 1 1 2-2 2 0 4-3 2-1 7 5 0 1 4-3 5-1 5 8 1-5 2-5 5 4 0 3 8-5 1-1 2 9 0 0 5-3 3-8 6 7 0-2 4 4 3-7 1 3 5 2 4 4 0-3 1 1 2-6 9 7 8-2-3 11-6 5-5-8-1-3-4 2-5 8-7-2-7-6-1-3-7 2-4-2-4 3-5 0-2-2-2 8 0-3-1-3-1-2-1 1-1 0-3 1-2 4 0-3 0 5-1 2-9-10-3 3-1-2-3 3 0 0-5-3-9-1-18 0-21 2-33-2-12 3 108 9 6 3 1 5 2 2 0-1 1-9 4 6 2 0 1-5 1 6 4-2 2 6 1-6 2 0 3 5 1-8 0-1 1 8 4-10 1 8 2-3 3 6 3-1 1-1 2 3 3-4 1-1 8-2 7 4 1-6-11 10-8 4-3-3-1 5-6-6-2 7-3-4-3-1-2 7-1-1-1-4-2-2-14-2-3-1-4 2 35 11" marker-start="url(#d1)" marker-mid="url(#d1)" marker-end="url(#d1)"/>
<path d="M2750 788l-29-7 14 17 3 16 16 20-43-6 69 15 9 9 17 10-95-5-17-5-54 7-22 9 94 7 142 4-20 0-114 7-52-10-2 8-39 4 97 12 7-6 2 6 11-1 7 1 2-5 6-4 57 4 76 10-122-2-2 5-2 2-2-6-2 6 0 0-3-2-3 0-6 4-1-10 0 6-3 1-3-9-1 6-3-3-1 5-8-7-4 4-1-1-2-3-10 2-9 8 20 9 7 3 3-4 1-3 1-4 1 2 0 3 14 6 1-8 0 1 2 0 4 0 1 6 4-1 1 1 1-3 0 2 0-3 2 2 3-5 3 7 3-9 96 6-88 5-12 3-20 7 0-5-1 3-1-3-1-4-1 8-3-4-1 6 0-7-2-2-22 2-48 8-2-11-63-1 43 17 26 2 22 2 27 2 5-6 10-5 1 8 7 3 12-10 11 5 3 5 2-6 99 18-64-6-4 2-101 5-7-8-94 16 36 1 131 0 12 2 33-8 17 11-27-1-35 3-75 0-34-1-25 9 12 7 112-1 63 12-25 2-1-5-29-3-36 7-9-6-8 10-3-6-7 0-9 7 9 12 3-11 0 8 2-1 0 2 6-10 1 3 2 5 3-6 0 3 0 2 3 2 1-4 2 2 6-3 2 2 71 11-11-1-67 2-1 0-1 5-4-11-8 8-8 0-3-8 5 15" marker-start="url(#cr)" marker-mid="url(#cr)" marker-end="url(#cr)"/>
<path d="M2633 1135l0-4 7 16-8 2-8 7 3 4 1 1 7-9 9 12 6-3 14 11-11-4 0 3-3-5-12 6-4 0-9-8-5 7-6-2 1 10 9 5 1-6 2 0 5 7 6-4 5-3 1 1 5 6 13 1 3-3 3-1 8 1 5-7 4 7 8-3 3-2-33 14-3 6-10-3-2 0 0 0-4-3-3 4-16 0 0-5-5-1-1 3-3 4-2 2-2-7-2 5-3-2-5-1-7 0-14 14 5-8 9 10 4-7 11 8 3-4 3 2 0 2 1-8 7 9 3-9 8-1 2-1 2 5 4 0 4 4 8-3-24 11-10-1-13 3-1-6-6 7-3-1-6-5-3 7-3-3-3 0-4 1 0 12 0 3 1-7 1 4 0-5 1 0 6 1 14 7 4-4 8-7 3 2 3-2-27 17-3-4-9 5" marker-start="url(#d1)" marker-mid="url(#d1)" marker-end="url(#d1)"/>
<path d="M2576 1247l0-1 0 2-8-3-5-3-3 9 0 1 3 5 1 2 1-8 6 7 3-4 0 1 3 1 4-7 159 6-130 5-24 3-1 3-1 2-2 2-5 0 0-1-2-2-1-6 0 6-2 3-6-3-6-3 0 10 2 3 2-3 5 5 0 5 3-9 2 6 1 0 3-6 2 5 5-3 6 4 51 7-20 0-31 7-1 0-11-3-8-4-7-2 12 15 9-2 2 3 2-5 43 2 18 7 95-1-68 19 5 3 1 4 0 1 7-8 2 3 1 2 2-7 2 2 2 6 1-1 2-3 8-5 1 1-3 11-1 0-1 4-8 0 0-1" marker-start="url(#d2)" marker-mid="url(#d2)" marker-end="url(#d2)"/>
<path d="M3135 979l-12 8 3-1 4 0 1-1 0 6 1-6 3 0 1 4 0 2 2-3 1 6 1-8-16 20-339 262 0 3-9 0-1-2-1-4 0 1-4 4-9-3 8 6 4 2 1-2 1 7 1-6 9 3" marker-start="url(#d5)" marker-mid="url(#d5)" marker-end="url(#d5)"/>
<path d="M3104 952l-11 8-4 8 2-6 1 7 7-7 1 7 3-2 3-4-13 13-7-2-1 8 0 0-3-9-4 7-2 3-3 3 6 4" marker-start="url(#d28)" marker-mid="url(#d28)" marker-end="url(#d28)"/>
<path d="M2974 1295l-4-2-2-2-2-1-5 4-4 2-7-1-36 6 10 7 2-3 6 3 6 0 1-7 1-1 2-1 1 8 1-5 1 2 3-8 7 11 0-10 3 2 6 9 0-7 1 6 1-8 2 6 3-5 10 18-7 1-8-9-5-1 0 8-1-8-1 3-3 4-1 3-1-9 0 3-3 2-2-6-9 9-2 0-3-5-1 6 0-3-1 0 0-1-3 0-2 1-2 4-4-2 0-9-1 10-3-1-1 2-1-6-2 3-3-7 0 7-13-4-1 2 3 8 1 2 0-4 2 5 3 5 1-2 1 0 2 1 0 2 1-8 3 6 7 2 1-2 1-5 0-2 4 0 0 0 5 6 5-3 5-5 4 3 2 4 2 1 5-2 2 4 1-5 3-5 1 9 0-5 1 4 1-4 1-5 1 2 3 7 1-5 1 2 1-6 1 6 4-2 1 4 6 0 6-2 1 0 9 5 1-1 1 1 14 8-1 2-1 2-1-2-1-4-2 2-1 1-1-3-1 7-2-3 0-6-1 8-5-1-1-8-1 5-1 4 0-1-2 0 0-7-2 0-1-1-12 3-1 4-2-6-4 5-2-7-1 4-5 1 0 6-1-2-2-6 0 4-2-6-1 1 0 0 0-1 0 4-3-3 0-2-2 3 0 3-1 1-2-5-2 9-1-1-2-11-1 3-4 5-1-4-1 6-1-6 0 3 0 2-1-7 0 4-5-2 0 8 0-11-1 6-2 4-13-1 0 1 0-3-2-3-5 7-1-8-1 2-1-3-1 3-5 0 11 7 3 7 6-6 1 8 0-1 2-1 1 2 4-9 7 2 6-1 1 5 4-6 0 8 1-9 1 12 1-5 1 1 0-7 1 1 1-1 3 4 0-4 1 8 1-4 4-1 0 0 6 1 2-3 23 0 2-1 10 2 1-1 1 1 2-1 0 2 7 5-58 5-5 1-6 8-2-7-2-2-1 7-2-7-1 4-3-5-4 4-5-3 11 11 2 1 3 10 4-11 2 2 18 18-6 1-6-5-1-3-1 6-1 1 0-8-5 3 5 14 0-1 1 1 0-1 1 3 0-2 1 0 0-2 1 8 5-5 1-7 0 6 1 1 1-4 1 5 0 2 62-7 13 0 22 13-90 5-1 0-3-9-1 7 0-6-3 10-1-1-1-2-2-1-1-6 9 15 6 2 7-1 8 4 5 3 18-6 40-2 20 2 22 3-74 14-4-1-3-1-14-2-3-1 0-1-4 5-1 1 0-8-2 2 0 6-1-6-1 3-6 3-4-3-3-7 6 12 6 0 5 4 0-1 1 4 1-6 1 5 2-4 2 7 0-4 1-5 1 10 0-6 3-3 0 5 3-3 3 4 0-3 1-4 0 1 6 5 1-5 2 1 0 5 3-1 0-1 2-5 0 3 2 4 2-7 3 8 1-5 2-2 2 2 1 4 3 3 2-9 2 0 0 5 1 1 1-6 2 1 2 9 0-5 2 1 2-1 1 2 8 1 1 1 1 0 3 0 0-1 17 2 9-1 10 1 24-3 18 2 26 10-5 0-3 2-2-2 0 2-1-2-5 2-4-5-6 5-5-4-1-3-3 1-3-2 0 4-5-2 0 2-3 1-1-2-1-4-1 9-4-5-1 4-3-2 0-4-3 8 0-11-1 6-1-4-1 8-2 0-4-9-5 2-4 7-1-3-4 0-4-4 0 3-5-5-3 4-1-3-1 0-1 1 0 0-1 0 0 5 0-8-1-1-1 10 0-8-2 5-4 3-4-5-2 4-1-8-1 0-3 1-1 0 0 2-3-3 0 7-1 1-1-4-3 4-4-7-4 3-2 7-1-7-3 3 0 2-4-2-1 3-1-6-1 4 0-1-3 2-1 1-1-6-2 5-2-7-3-2-3 0-8 11 22 3 3-2 10 4 4-1 2-1 1-2 4 7 1-4 0-1 2 6 5-3 0 3 4-6 3 9 1-10 6 4 2 3 0 1 1-10 1 8 1 1 2-6 1 8 1-6 3 0 6 6 1-3 4-7 2 4 0 5 2-5 9 4 0 1 2-7 1 7 2 0 2-5 0 3 1-5 4 2 1-5 0 7 2-4 2 6 0-6 5 7 5-4 0 4 1-8 1 1 5 4 1 2 1-8 0 4 1 6 1 0 1-2 1-6 5 5 0-3 1-5 0 5 0-5 2 1 6 0 3 4 1 3 0-2 2-1 1-2 1 6 2-6 3 0 1 0 0 4-44 8-3-1-15 0-15 1-6-3-1 2-19-1-2 8-5-9-2 2-13 0" marker-start="url(#d28)" marker-mid="url(#d28)" marker-end="url(#d28)"/>
</g>
<text style="font-size:31.8px;font-weight:bold" x="1162.5" y="23">d</text>
<text x="1696.5" y="51">UMAP n = 26,044</text>
<text x="1696.5" y="79.6">Lin <tspan font-style="italic">et al.</tspan>&#160;&#160;n = 21,044</text>
<text x="1696.5" y="108.2">CRISPRa n = 5,000/51,125</text>
<text x="1252.5" y="301.5">Intermediate</text>
<text x="1357" y="562.5">Pluripotency</text>
<text x="1767.5" y="524.3">Neurons</text>
<text class="m" style="fill:#999999;stroke:#999999" x="1517.5" y="329">Differentiation</text>
<text class="m" style="fill:#999999;stroke:#999999" x="1518.5" y="358">trajectory</text>
<path d="M1446 378C1425 330 1426 262 1478 255C1530 250 1580 280 1612 324" stroke="#999999" stroke-width="1.6" fill="none"/>
<path d="M1616.5 330.5l-13.5 -5.5l8.5 -7z" fill="#999999"/>
<path d="M1230 703V733.8H1261" stroke="#231f20" stroke-width="2" fill="none"/>
<path d="M1230 689.5l-5 14.5h10zM1274.8 733.8l-14.5 -5v10z" fill="#231f20"/>
<text transform="translate(1212 735.5) rotate(-90)">UMAP2</text>
<text x="1229.5" y="765.6">UMAP1</text>
<rect x="1753.7" y="576.2" width="244" height="212.8" fill="#fff" stroke="#85878a" stroke-width="1.7" rx="8"/>
<circle cx="1778.5" cy="595.5" r="10.8" fill="#ffffff" stroke="#231f20" stroke-width="0.9"/>
<text x="1800.6" y="605">Day 1</text>
<circle cx="1778.5" cy="624.22" r="10.8" fill="#e6e6e6" stroke="#231f20" stroke-width="0.9"/>
<text x="1800.6" y="633.72">Day 2</text>
<circle cx="1778.5" cy="652.94" r="10.8" fill="#cccccc" stroke="#231f20" stroke-width="0.9"/>
<text x="1800.6" y="662.44">Day 5</text>
<circle cx="1778.5" cy="681.66" r="10.8" fill="#a8a8a8" stroke="#231f20" stroke-width="0.9"/>
<text x="1800.6" y="691.16">Day 14</text>
<circle cx="1778.5" cy="710.38" r="10.8" fill="#7d7d7d" stroke="#231f20" stroke-width="0.9"/>
<text x="1800.6" y="719.88">Day 28</text>
<circle cx="1778.5" cy="739.1" r="10.8" fill="#000000" stroke="#231f20" stroke-width="0.9"/>
<text x="1800.6" y="748.6">Day 35</text>
<circle cx="1778.5" cy="767.82" r="10.8" fill="#35aee2" stroke="#231f20" stroke-width="0.9"/>
<text x="1800.6" y="777.32">Day 19 CRISPRa</text>
<rect x="2" y="840.5" width="989.5" height="504" fill="none" stroke="#231f20" stroke-width="2.6" rx="24"/>
<rect x="1010.8" y="840.5" width="989.5" height="504" fill="none" stroke="#231f20" stroke-width="2.6" rx="24"/>
<text style="font-size:31.8px;font-weight:bold" x="15" y="880.3">e</text>
<text style="font-size:31.8px;font-weight:bold" x="1026" y="880.3">f</text>
<text class="m" style="font-size:31.8px" x="477.5" y="888.4">Target-specific promoters</text>
<text class="m" style="font-size:31.8px" x="1502.5" y="888.4">CRISPRa-responsive cell type-specific elements</text>
<text style="font-size:31.8px" x="1135" y="940.2">K562</text>
<text style="font-size:31.8px" x="1594.5" y="940.2">Neurons</text>
<path d="M108.4 953.7V1256.9H510.8" stroke="#231f20" stroke-width="1.6" fill="none"/>
<path d="M101.9 1242.8h6.5M101.9 1153.43h6.5M101.9 1064.06h6.5M101.9 974.69h6.5" stroke="#231f20" stroke-width="1.6" fill="none"/>
<text class="e" x="99.9" y="1251.36">0</text>
<text class="e" x="99.9" y="1161.99">100</text>
<text class="e" x="99.9" y="1072.62">200</text>
<text class="e" x="99.9" y="983.25">300</text>
<path d="M127 1256.9v6.5M218.45 1256.9v6.5M309.9 1256.9v6.5M401.35 1256.9v6.5M492.8 1256.9v6.5" stroke="#231f20" stroke-width="1.6" fill="none"/>
<text class="m" x="127" y="1283">0</text>
<text class="m" x="218.45" y="1283">1</text>
<text class="m" x="309.9" y="1283">2</text>
<text class="m" x="401.35" y="1283">3</text>
<text class="m" x="492.8" y="1283">4</text>
<text class="m" x="303.5" y="1320.4">-log10(expected <tspan font-style="italic">P</tspan>-values)</text>
<text class="m" transform="translate(43.5 1107.5) rotate(-90)">-log10(observed <tspan font-style="italic">P</tspan>-values)</text>
<path d="M127 1242.8h0M129.13 1242.8h0M131.25 1242.79h0M133.38 1242.78h0M135.51 1242.77h0M137.63 1242.76h0M139.76 1242.75h0M141.89 1242.74h0M144.01 1242.72h0M146.14 1242.71h0M148.27 1242.69h0M150.39 1242.68h0M152.52 1242.66h0M154.65 1242.64h0M156.77 1242.62h0M158.9 1242.61h0M161.03 1242.59h0M163.15 1242.56h0M165.28 1242.54h0M167.41 1242.52h0M169.53 1242.5h0M171.66 1242.48h0M173.79 1242.45h0M175.92 1242.43h0M178.04 1242.41h0M180.17 1242.38h0M182.3 1242.36h0M184.42 1242.33h0M186.55 1242.3h0M188.68 1242.28h0M190.8 1242.25h0M192.93 1242.22h0M195.06 1242.19h0M197.18 1242.16h0M199.31 1242.13h0M201.44 1242.11h0M203.56 1242.08h0M205.69 1242.04h0M207.82 1242.01h0M209.94 1241.98h0M212.07 1241.95h0M214.2 1241.92h0M216.32 1241.89h0M218.45 1241.85h0M220.58 1241.82h0M222.7 1241.79h0M224.83 1241.75h0M226.96 1241.72h0M229.08 1241.68h0M231.21 1241.65h0M233.34 1241.61h0M235.46 1241.58h0M237.59 1241.54h0M239.72 1241.51h0M241.84 1241.47h0M243.97 1241.43h0M246.1 1241.39h0M248.22 1241.36h0M250.35 1241.32h0M252.48 1241.28h0M254.6 1241.24h0M256.73 1241.2h0M258.86 1241.16h0M260.98 1241.12h0M263.11 1241.08h0M265.24 1241.04h0M267.37 1241h0M269.49 1240.96h0M271.62 1240.92h0M273.75 1240.88h0M275.87 1240.84h0M278 1240.79h0M280.13 1240.75h0M282.25 1240.71h0M284.38 1240.66h0M286.51 1240.62h0M288.63 1240.58h0M290.76 1240.53h0M292.89 1240.49h0M295.01 1240.44h0M297.14 1240.4h0M299.27 1240.35h0M301.39 1240.31h0M303.52 1240.26h0M305.65 1240.22h0M307.77 1240.17h0M309.9 1240.12h0M312.03 1240.08h0M314.15 1240.03h0M316.28 1239.98h0M318.41 1239.94h0M320.53 1239.89h0M322.66 1239.84h0M324.79 1239.79h0M326.91 1239.74h0M329.04 1239.69h0M331.17 1239.64h0M333.29 1239.6h0M335.42 1239.55h0M337.55 1239.5h0M339.67 1239.45h0M341.8 1239.39h0M343.93 1239.34h0M346.05 1239.29h0M348.18 1239.24h0M350.31 1239.19h0M352.43 1239.14h0M354.56 1239.09h0M356.69 1239.03h0M358.82 1238.98h0M360.94 1238.93h0M363.07 1238.88h0M365.2 1238.82h0M367.32 1238.77h0M369.45 1238.72h0M371.58 1238.66h0M373.7 1238.61h0M375.83 1238.55h0M377.96 1238.5h0M380.08 1238.44h0M382.21 1238.39h0M384.34 1238.33h0M386.46 1238.28h0M388.59 1238.22h0M390.72 1238.17h0M392.84 1238.11h0M394.97 1238.06h0M397.1 1238h0M399.22 1237.94h0M401.35 1237.88h0M405.92 1237.62h0M410.5 1237.44h0M416.9 1237.26h0M426.04 1236.99h0M438.84 1236.54h0M465.37 1236.1h0" stroke="#999999" stroke-width="6" stroke-linecap="round" fill="none"/>
<path d="M127 1242.8h0M128.91 1242.8h0M130.82 1242.8h0M132.72 1242.8h0M134.63 1242.8h0M136.54 1242.8h0M138.45 1242.8h0M140.36 1242.8h0M142.26 1242.8h0M144.17 1242.8h0M146.08 1242.8h0M147.99 1242.8h0M149.9 1242.8h0M151.8 1242.8h0M153.71 1242.79h0M155.62 1242.79h0M157.53 1242.79h0M159.44 1242.79h0M161.34 1242.79h0M163.25 1242.78h0M165.16 1242.78h0M167.07 1242.78h0M168.97 1242.77h0M170.88 1242.77h0M172.79 1242.77h0M174.7 1242.76h0M176.61 1242.76h0M178.51 1242.75h0M180.42 1242.74h0M182.33 1242.74h0M184.24 1242.73h0M186.15 1242.72h0M188.05 1242.71h0M189.96 1242.71h0M191.87 1242.7h0M193.78 1242.69h0M195.69 1242.68h0M197.59 1242.66h0M199.5 1242.65h0M201.41 1242.64h0M203.32 1242.63h0M205.23 1242.61h0M207.13 1242.6h0M209.04 1242.58h0M210.95 1242.56h0M212.86 1242.55h0M214.77 1242.53h0M216.67 1242.51h0M218.58 1242.49h0M220.49 1242.47h0M222.4 1242.44h0M224.31 1242.42h0M226.21 1242.4h0M228.12 1242.37h0M230.03 1242.34h0M231.94 1242.32h0M233.85 1242.29h0M235.75 1242.26h0M237.66 1242.23h0M239.57 1242.2h0M241.48 1242.16h0M243.38 1242.13h0M245.29 1242.09h0M247.2 1242.05h0M249.11 1242.02h0M251.02 1241.98h0M252.92 1241.93h0M254.83 1241.89h0M256.74 1241.85h0M258.65 1241.8h0M260.56 1241.76h0M262.46 1241.71h0M264.37 1241.66h0M266.28 1241.61h0M268.19 1241.55h0M270.1 1241.5h0M272 1241.44h0M273.91 1241.38h0M275.82 1241.32h0M277.73 1241.26h0M279.64 1241.2h0M281.54 1241.13h0M283.45 1241.07h0M285.36 1241h0M287.27 1240.93h0M289.18 1240.86h0M291.08 1240.78h0M292.99 1240.7h0M294.9 1240.63h0M296.81 1240.55h0M298.72 1240.46h0M300.62 1240.38h0M302.53 1240.29h0M304.44 1240.21h0M306.35 1240.12h0M308.26 1240.02h0M310.16 1239.93h0M312.07 1239.83h0M313.98 1239.73h0M315.89 1239.63h0M317.79 1239.53h0M319.7 1239.42h0M321.61 1239.31h0M323.52 1239.2h0M325.43 1239.09h0M327.33 1238.98h0M329.24 1238.86h0M331.15 1238.74h0M333.06 1238.62h0M334.97 1238.49h0M336.87 1238.36h0M338.78 1238.23h0M340.69 1238.1h0M342.6 1237.96h0M344.51 1237.82h0M346.41 1237.68h0M348.32 1237.54h0M350.23 1237.39h0M352.14 1237.24h0M354.05 1237.09h0M355.95 1236.94h0M357.86 1236.78h0M359.77 1236.62h0M361.68 1236.46h0M363.59 1236.29h0M365.49 1236.12h0M367.4 1235.95h0M369.31 1235.77h0M371.22 1235.59h0M373.13 1235.41h0M375.03 1235.23h0M376.94 1235.04h0M378.85 1234.85h0M380.76 1234.65h0M382.67 1234.45h0M384.57 1234.25h0M386.48 1234.05h0M388.39 1233.84h0M390.3 1233.63h0M392.2 1233.42h0M394.95 1232.97h0M398.61 1232.7h0M403.18 1232.25h0M406.84 1231.81h0M410.5 1227.16h0M416.9 1208.84h0M426.04 1161.47h0M438.84 1101.6h0M465.37 968.43h0" stroke="#4db4e7" stroke-width="6" stroke-linecap="round" fill="none"/>
<rect x="125.2" y="952.8" width="239.5" height="69.8" fill="#fff" stroke="#85878a" stroke-width="1.7" rx="7"/>
<circle cx="150.4" cy="971.4" r="11" fill="#999999"/>
<text x="173.2" y="981.3">NTC gRNAs</text>
<circle cx="150.4" cy="1002.6" r="11" fill="#4db4e7"/>
<text x="173.2" y="1010.5">Targeting gRNAs</text>
<path d="M567.8 953.7V1256.9H970.4" stroke="#231f20" stroke-width="1.6" fill="none"/>
<path d="M561.3 1242.8h6.5M561.3 1153.43h6.5M561.3 1064.06h6.5M561.3 974.69h6.5" stroke="#231f20" stroke-width="1.6" fill="none"/>
<text class="e" x="559.3" y="1251.36">0</text>
<text class="e" x="559.3" y="1161.99">100</text>
<text class="e" x="559.3" y="1072.62">200</text>
<text class="e" x="559.3" y="983.25">300</text>
<path d="M585.8 1256.9v6.5M677.45 1256.9v6.5M769.1 1256.9v6.5M860.75 1256.9v6.5M952.4 1256.9v6.5" stroke="#231f20" stroke-width="1.6" fill="none"/>
<text class="m" x="585.8" y="1283">0</text>
<text class="m" x="677.45" y="1283">1</text>
<text class="m" x="769.1" y="1283">2</text>
<text class="m" x="860.75" y="1283">3</text>
<text class="m" x="952.4" y="1283">4</text>
<text class="m" x="762.7" y="1320.4">-log10(expected <tspan font-style="italic">P</tspan>-values)</text>
<path d="M585.8 1242.8h0M588.11 1242.8h0M590.42 1242.79h0M592.73 1242.79h0M595.04 1242.78h0M597.35 1242.77h0M599.66 1242.76h0M601.97 1242.76h0M604.28 1242.75h0M606.59 1242.73h0M608.91 1242.72h0M611.22 1242.71h0M613.53 1242.7h0M615.84 1242.69h0M618.15 1242.67h0M620.46 1242.66h0M622.77 1242.65h0M625.08 1242.63h0M627.39 1242.62h0M629.7 1242.6h0M632.01 1242.58h0M634.32 1242.57h0M636.63 1242.55h0M638.94 1242.53h0M641.25 1242.52h0M643.56 1242.5h0M645.87 1242.48h0M648.18 1242.46h0M650.49 1242.44h0M652.8 1242.42h0M655.12 1242.4h0M657.43 1242.38h0M659.74 1242.36h0M662.05 1242.34h0M664.36 1242.32h0M666.67 1242.3h0M668.98 1242.28h0M671.29 1242.26h0M673.6 1242.24h0M675.91 1242.21h0M678.22 1242.19h0M680.53 1242.17h0M682.84 1242.14h0M685.15 1242.12h0M687.46 1242.1h0M689.77 1242.07h0M692.08 1242.05h0M694.39 1242.02h0M696.7 1242h0M699.01 1241.97h0M701.33 1241.95h0M703.64 1241.92h0M705.95 1241.9h0M708.26 1241.87h0M710.57 1241.84h0M712.88 1241.82h0M715.19 1241.79h0M717.5 1241.76h0M719.81 1241.74h0M722.12 1241.71h0M724.43 1241.68h0M726.74 1241.65h0M729.05 1241.62h0M731.36 1241.6h0M733.67 1241.57h0M735.98 1241.54h0M738.29 1241.51h0M740.6 1241.48h0M742.91 1241.45h0M745.22 1241.42h0M747.54 1241.39h0M749.85 1241.36h0M752.16 1241.33h0M754.47 1241.3h0M756.78 1241.27h0M759.09 1241.23h0M761.4 1241.2h0M763.71 1241.17h0M766.02 1241.14h0M768.33 1241.11h0M770.64 1241.08h0M772.95 1241.04h0M775.26 1241.01h0M777.57 1240.98h0M779.88 1240.94h0M782.19 1240.91h0M784.5 1240.88h0M786.81 1240.84h0M789.12 1240.81h0M791.43 1240.78h0M793.75 1240.74h0M796.06 1240.71h0M798.37 1240.67h0M800.68 1240.64h0M802.99 1240.6h0M805.3 1240.57h0M807.61 1240.53h0M809.92 1240.5h0M812.23 1240.46h0M814.54 1240.43h0M816.85 1240.39h0M819.16 1240.35h0M821.47 1240.32h0M823.78 1240.28h0M826.09 1240.24h0M828.4 1240.21h0M830.71 1240.17h0M833.02 1240.13h0M835.33 1240.1h0M837.64 1240.06h0M839.96 1240.02h0M842.27 1239.98h0M844.58 1239.94h0M846.89 1239.91h0M849.2 1239.87h0M851.51 1239.83h0M853.82 1239.79h0M856.13 1239.75h0M858.44 1239.71h0M860.75 1239.67h0M865.33 1239.4h0M869.91 1239.23h0M874.5 1239.05h0M884.58 1238.6h0M896.49 1237.88h0M923.07 1236.54h0" stroke="#e6178f" stroke-width="6" stroke-linecap="round" fill="none"/>
<path d="M585.8 1242.8h0M587.93 1242.8h0M590.06 1242.79h0M592.19 1242.78h0M594.33 1242.77h0M596.46 1242.76h0M598.59 1242.75h0M600.72 1242.74h0M602.85 1242.73h0M604.98 1242.71h0M607.11 1242.7h0M609.25 1242.68h0M611.38 1242.67h0M613.51 1242.65h0M615.64 1242.63h0M617.77 1242.62h0M619.9 1242.6h0M622.03 1242.58h0M624.17 1242.56h0M626.3 1242.54h0M628.43 1242.52h0M630.56 1242.49h0M632.69 1242.47h0M634.82 1242.45h0M636.95 1242.43h0M639.08 1242.4h0M641.22 1242.38h0M643.35 1242.36h0M645.48 1242.33h0M647.61 1242.3h0M649.74 1242.28h0M651.87 1242.25h0M654 1242.23h0M656.14 1242.2h0M658.27 1242.17h0M660.4 1242.14h0M662.53 1242.11h0M664.66 1242.09h0M666.79 1242.06h0M668.92 1242.03h0M671.06 1242h0M673.19 1241.97h0M675.32 1241.94h0M677.45 1241.91h0M679.58 1241.87h0M681.71 1241.84h0M683.84 1241.81h0M685.98 1241.78h0M688.11 1241.75h0M690.24 1241.71h0M692.37 1241.68h0M694.5 1241.64h0M696.63 1241.61h0M698.76 1241.58h0M700.9 1241.54h0M703.03 1241.51h0M705.16 1241.47h0M707.29 1241.44h0M709.42 1241.4h0M711.55 1241.36h0M713.68 1241.33h0M715.82 1241.29h0M717.95 1241.25h0M720.08 1241.21h0M722.21 1241.18h0M724.34 1241.14h0M726.47 1241.1h0M728.6 1241.06h0M730.73 1241.02h0M732.87 1240.98h0M735 1240.94h0M737.13 1240.9h0M739.26 1240.86h0M741.39 1240.82h0M743.52 1240.78h0M745.65 1240.74h0M747.79 1240.7h0M749.92 1240.66h0M752.05 1240.61h0M754.18 1240.57h0M756.31 1240.53h0M758.44 1240.49h0M760.57 1240.44h0M762.71 1240.4h0M764.84 1240.36h0M766.97 1240.31h0M769.1 1240.27h0M771.23 1240.23h0M773.36 1240.18h0M775.49 1240.14h0M777.63 1240.09h0M779.76 1240.05h0M781.89 1240h0M784.02 1239.96h0M786.15 1239.91h0M788.28 1239.86h0M790.41 1239.82h0M792.55 1239.77h0M794.68 1239.72h0M796.81 1239.68h0M798.94 1239.63h0M801.07 1239.58h0M803.2 1239.53h0M805.33 1239.48h0M807.47 1239.44h0M809.6 1239.39h0M811.73 1239.34h0M813.86 1239.29h0M815.99 1239.24h0M818.12 1239.19h0M820.25 1239.14h0M822.38 1239.09h0M824.52 1239.04h0M826.65 1238.99h0M828.78 1238.94h0M830.91 1238.89h0M833.04 1238.84h0M835.17 1238.79h0M837.3 1238.73h0M839.44 1238.68h0M841.57 1238.63h0M843.7 1238.58h0M845.83 1238.53h0M847.96 1238.47h0M850.09 1238.42h0M852.22 1238.37h0M854.36 1238.31h0M856.49 1238.26h0M858.62 1238.21h0M860.75 1238.15h0M865.33 1237.8h0M869.91 1237.44h0M876.33 1237.26h0M886.41 1236.99h0M899.24 1236.54h0M925.82 1236.1h0" stroke="#999999" stroke-width="6" stroke-linecap="round" fill="none"/>
<path d="M585.8 1242.8h0M587.44 1242.8h0M589.08 1242.8h0M590.72 1242.8h0M592.36 1242.8h0M594 1242.8h0M595.64 1242.8h0M597.28 1242.79h0M598.92 1242.79h0M600.56 1242.79h0M602.2 1242.78h0M603.84 1242.78h0M605.48 1242.77h0M607.11 1242.76h0M608.75 1242.76h0M610.39 1242.75h0M612.03 1242.74h0M613.67 1242.73h0M615.31 1242.72h0M616.95 1242.7h0M618.59 1242.69h0M620.23 1242.68h0M621.87 1242.66h0M623.51 1242.64h0M625.15 1242.63h0M626.79 1242.61h0M628.43 1242.58h0M630.07 1242.56h0M631.71 1242.54h0M633.35 1242.51h0M634.99 1242.49h0M636.63 1242.46h0M638.27 1242.43h0M639.91 1242.4h0M641.55 1242.37h0M643.19 1242.33h0M644.83 1242.3h0M646.47 1242.26h0M648.11 1242.22h0M649.74 1242.18h0M651.38 1242.14h0M653.02 1242.1h0M654.66 1242.05h0M656.3 1242h0M657.94 1241.95h0M659.58 1241.9h0M661.22 1241.85h0M662.86 1241.8h0M664.5 1241.74h0M666.14 1241.68h0M667.78 1241.62h0M669.42 1241.56h0M671.06 1241.5h0M672.7 1241.43h0M674.34 1241.36h0M675.98 1241.29h0M677.62 1241.22h0M679.26 1241.14h0M680.9 1241.07h0M682.54 1240.99h0M684.18 1240.91h0M685.82 1240.82h0M687.46 1240.74h0M689.1 1240.65h0M690.74 1240.56h0M692.37 1240.47h0M694.01 1240.38h0M695.65 1240.28h0M697.29 1240.18h0M698.93 1240.08h0M700.57 1239.97h0M702.21 1239.87h0M703.85 1239.76h0M705.49 1239.65h0M707.13 1239.53h0M708.77 1239.42h0M710.41 1239.3h0M712.05 1239.18h0M713.69 1239.06h0M715.33 1238.93h0M716.97 1238.8h0M718.61 1238.67h0M720.25 1238.54h0M721.89 1238.4h0M723.53 1238.26h0M725.17 1238.12h0M726.81 1237.97h0M728.45 1237.83h0M730.09 1237.68h0M731.73 1237.52h0M733.36 1237.37h0M735 1237.21h0M736.64 1237.05h0M738.28 1236.89h0M739.92 1236.72h0M741.56 1236.55h0M743.2 1236.38h0M744.84 1236.2h0M746.48 1236.02h0M748.12 1235.84h0M749.76 1235.66h0M751.4 1235.47h0M753.04 1235.28h0M754.68 1235.09h0M756.32 1234.89h0M757.96 1234.69h0M759.6 1234.49h0M761.24 1234.28h0M762.88 1234.07h0M764.52 1233.86h0M769.1 1232.97h0M774.6 1232.52h0M780.1 1232.52h0M785.6 1232.08h0M792.93 1227.16h0M801.18 1208.84h0M812.18 1161.47h0M828.67 1101.6h0M860.75 968.43h0" stroke="#4db4e7" stroke-width="6" stroke-linecap="round" fill="none"/>
<rect x="584.9" y="952.8" width="220.4" height="69.8" fill="#fff" stroke="#85878a" stroke-width="1.7" rx="7"/>
<circle cx="609.4" cy="971.4" r="11" fill="#4db4e7"/>
<text x="632.2" y="981.3">Primary target</text>
<circle cx="609.4" cy="1002.6" r="11" fill="#e6178f"/>
<text x="632.2" y="1010.5">All other genes</text>
<path d="M1118.3 953.7V1256.9H1520.6" stroke="#231f20" stroke-width="1.6" fill="none"/>
<path d="M1111.8 1242.8h6.5M1111.8 1174.05h6.5M1111.8 1105.3h6.5M1111.8 1036.55h6.5M1111.8 967.8h6.5" stroke="#231f20" stroke-width="1.6" fill="none"/>
<text class="e" x="1109.8" y="1251.36">0</text>
<text class="e" x="1109.8" y="1182.61">20</text>
<text class="e" x="1109.8" y="1113.86">40</text>
<text class="e" x="1109.8" y="1045.11">60</text>
<text class="e" x="1109.8" y="976.36">80</text>
<path d="M1136.7 1256.9v6.5M1228.3 1256.9v6.5M1319.9 1256.9v6.5M1411.5 1256.9v6.5M1503.1 1256.9v6.5" stroke="#231f20" stroke-width="1.6" fill="none"/>
<text class="m" x="1136.7" y="1283">-0.5</text>
<text class="m" x="1228.3" y="1283">0</text>
<text class="m" x="1319.9" y="1283">0.5</text>
<text class="m" x="1411.5" y="1283">1.0</text>
<text class="m" x="1503.1" y="1283">1.5</text>
<text class="m" x="1316.7" y="1320.4">log2(fold change)</text>
<text class="m" transform="translate(1054.5 1107.5) rotate(-90)">-log10(observed <tspan font-style="italic">P</tspan>-values)</text>
<path d="M1429.82 1003.89h0M1411.5 1122.49h0M1409.67 1137.27h0M1356.54 1134.52h0M1321.73 1155.14h0M1339.14 1184.36h0M1270.44 1199.83h0M1265.86 1207.74h0M1296.08 1210.49h0M1314.4 1229.74h0M1305.24 1237.3h0M1300.66 1241.77h0M1277.76 1237.64h0M1269.52 1229.05h0M1263.11 1233.17h0M1268.6 1239.02h0M1263.11 1239.02h0M1256.7 1237.3h0M1252.12 1232.83h0M1248.45 1232.49h0M1244.79 1235.24h0M1193.49 1240.74h0M1246.62 1241.08h0M1242.96 1241.77h0M1237.46 1237.64h0M1233.8 1238.67h0M1220.97 1239.36h0M1204.48 1239.71h0M1250.28 1238.67h0M1253.95 1235.92h0M1241.12 1240.05h0" stroke="#35aee2" stroke-width="6" stroke-linecap="round" fill="none"/>
<path d="M1198.99 1236.96h0M1202.65 1239.71h0M1206.32 1241.08h0M1209.98 1240.05h0M1211.81 1241.77h0M1215.48 1242.11h0M1219.14 1242.46h0M1222.8 1242.8h0M1226.47 1242.46h0M1228.3 1241.42h0M1230.13 1242.8h0M1233.8 1240.74h0M1235.63 1238.67h0M1237.46 1242.11h0M1239.29 1239.71h0M1241.12 1241.42h0M1242.96 1237.3h0M1244.79 1234.55h0M1246.62 1238.33h0M1252.12 1234.89h0M1259.44 1241.42h0M1231.96 1237.99h0M1224.64 1240.39h0M1217.31 1239.71h0" stroke="#999999" stroke-width="6" stroke-linecap="round" fill="none"/>
<rect x="1134.8" y="952.8" width="238.8" height="69.8" fill="#fff" stroke="#85878a" stroke-width="1.7" rx="7"/>
<circle cx="1159.4" cy="971.4" r="11" fill="#999999"/>
<text x="1182.1" y="981.3">NTC gRNAs</text>
<circle cx="1159.4" cy="1002.6" r="11" fill="#35aee2"/>
<text x="1182.1" y="1010.5">Targeting gRNAs</text>
<path d="M1577.9 953.7V1256.9H1980.8" stroke="#231f20" stroke-width="1.6" fill="none"/>
<path d="M1571.4 1242.8h6.5M1571.4 1174.05h6.5M1571.4 1105.3h6.5M1571.4 1036.55h6.5M1571.4 967.8h6.5" stroke="#231f20" stroke-width="1.6" fill="none"/>
<text class="e" x="1569.4" y="1251.36">0</text>
<text class="e" x="1569.4" y="1182.61">20</text>
<text class="e" x="1569.4" y="1113.86">40</text>
<text class="e" x="1569.4" y="1045.11">60</text>
<text class="e" x="1569.4" y="976.36">80</text>
<path d="M1595.9 1256.9v6.5M1687.5 1256.9v6.5M1779.1 1256.9v6.5M1870.7 1256.9v6.5M1962.3 1256.9v6.5" stroke="#231f20" stroke-width="1.6" fill="none"/>
<text class="m" x="1595.9" y="1283">-0.5</text>
<text class="m" x="1687.5" y="1283">0</text>
<text class="m" x="1779.1" y="1283">0.5</text>
<text class="m" x="1870.7" y="1283">1.0</text>
<text class="m" x="1962.3" y="1283">1.5</text>
<text class="m" x="1776.3" y="1320.4">log2(fold change)</text>
<path d="M1708.57 1226.99h0M1718.64 1233.52h0M1721.39 1234.21h0M1703.07 1233.52h0M1651.78 1242.11h0M1667.35 1237.99h0M1665.52 1241.77h0M1672.84 1241.08h0M1682 1239.36h0M1685.67 1240.05h0M1693 1237.64h0M1694.83 1239.02h0M1698.49 1239.71h0M1703.99 1238.67h0M1678.34 1241.42h0M1687.5 1242.11h0" stroke="#35aee2" stroke-width="6" stroke-linecap="round" fill="none"/>
<path d="M1653.61 1234.89h0M1674.68 1237.64h0M1676.51 1240.74h0M1680.17 1242.11h0M1683.84 1242.8h0M1687.5 1243.83h0M1689.33 1242.46h0M1693 1241.42h0M1696.66 1243.49h0M1696.66 1240.05h0M1705.82 1238.67h0M1709.48 1241.42h0M1691.16 1243.14h0M1700.32 1241.08h0" stroke="#999999" stroke-width="6" stroke-linecap="round" fill="none"/>
<rect x="1593.7" y="952.8" width="239.4" height="69.8" fill="#fff" stroke="#85878a" stroke-width="1.7" rx="7"/>
<circle cx="1618.6" cy="971.4" r="11" fill="#999999"/>
<text x="1641" y="981.3">NTC gRNAs</text>
<circle cx="1618.6" cy="1002.6" r="11" fill="#35aee2"/>
<text x="1641" y="1010.5">Targeting gRNAs</text>
<defs><linearGradient id="gu" x1="0" x2="1" y1="0" y2="0"><stop offset="0" stop-color="#7f7f7f"/><stop offset="0" stop-color="#9a9a9a"/><stop offset="0.02" stop-color="#bdbdbd"/><stop offset="0.05" stop-color="#dadada"/><stop offset="0.07" stop-color="#f0f0f0"/><stop offset="0.09" stop-color="#ffffff"/><stop offset="0.1" stop-color="#eef1fa"/><stop offset="0.14" stop-color="#d9e0f2"/><stop offset="0.2" stop-color="#c3cfeb"/><stop offset="0.3" stop-color="#adbfe5"/><stop offset="0.5" stop-color="#a5b9e2"/><stop offset="0.8" stop-color="#9db3de"/><stop offset="0.93" stop-color="#97b0dc"/><stop offset="0.98" stop-color="#86a3d7"/><stop offset="0.99" stop-color="#6b91cd"/><stop offset="0.99" stop-color="#3f7cc5"/><stop offset="1" stop-color="#3f7cc5"/></linearGradient><linearGradient id="gc" x1="0" x2="1" y1="0" y2="0"><stop offset="0" stop-color="#858585"/><stop offset="0.2" stop-color="#b0b0b0"/><stop offset="0.34" stop-color="#dcdcdc"/><stop offset="0.4" stop-color="#ffffff"/><stop offset="0.42" stop-color="#b8c8ea"/><stop offset="0.6" stop-color="#93addc"/><stop offset="0.8" stop-color="#6f96d0"/><stop offset="1" stop-color="#3f7cc5"/></linearGradient></defs>
<text style="font-size:31.8px;font-weight:bold" x="15" y="1401.3">g</text>
<text x="45" y="1459.8">Upregulation</text>
<text x="45" y="1488.3">Significant</text>
<text x="45" y="1516.8">gRNA ID</text>
<rect x="192.3" y="1443.6" width="1793.2" height="21.4" fill="url(#gu)" stroke="#231f20" stroke-width="1.2"/>
<rect x="192.6" y="1471" width="1792.8" height="21" fill="#fff" stroke="#000" stroke-width="1.8"/>
<path d="M1349 1471h4.4v21h-4.4zM1647.3 1471h4.4v21h-4.4zM1806.1 1471h5.1v21h-5.1zM1826.2 1471h3.9v21h-3.9zM1845.3 1471h4.5v21h-4.5zM1854.3 1471h4.5v21h-4.5zM1869.3 1471h4.8v21h-4.8zM1879 1471h4.5v21h-4.5zM1898.1 1471h4.9v21h-4.9zM1927.3 1471h4.2v21h-4.2zM1937.1 1471h4.1v21h-4.1zM1946.1 1471h4.5v21h-4.5zM1955.9 1471h4v21h-4zM1971.1 1471h14.9v21h-14.9z" fill="#000"/>
<text class="m" style="font-size:22px" x="194.8" y="1516.6">1</text>
<text class="m" style="font-size:22px" x="675.7" y="1516.6">100</text>
<text class="m" style="font-size:22px" x="1154.7" y="1516.6">200</text>
<text class="m" style="font-size:22px" x="1635" y="1516.6">300</text>
<text class="m" x="1905.2" y="1386.2">Avg. Log2 FC</text>
<rect x="1827.2" y="1399.2" width="158.2" height="11" fill="url(#gc)" stroke="#231f20" stroke-width="1.2"/>
<text class="m" x="1827" y="1433.1">-0.5</text>
<text class="m" x="1892" y="1433.1">0</text>
<text class="e" x="1986.5" y="1433.1">1.0</text>
<text style="font-size:31.8px;font-weight:bold" x="15" y="1575">h</text>
<text class="m" transform="translate(74.2 1754) rotate(-90)">Normalized Expression</text>
<path d="M118.6 1633.5V1878.6H255.8" stroke="#231f20" stroke-width="1.6" fill="none"/>
<path d="M112.1 1867.5h6.5M112.1 1817.95h6.5M112.1 1768.4h6.5M112.1 1718.85h6.5M112.1 1669.3h6.5" stroke="#231f20" stroke-width="1.6" fill="none"/>
<text class="e" x="111.3" y="1876.06">0</text>
<text class="e" x="111.3" y="1826.51">1</text>
<text class="e" x="111.3" y="1776.96">2</text>
<text class="e" x="111.3" y="1727.41">3</text>
<text class="e" x="111.3" y="1677.86">4</text>
<path d="M156 1878.6v6.5M218 1878.6v6.5" stroke="#231f20" stroke-width="1.6" fill="none"/>
<text class="m" x="146.2" y="1904">Control</text>
<text class="m" x="150.2" y="1929">cells</text>
<text class="m" x="224.4" y="1904">gRNA</text>
<text class="m" x="224.6" y="1929">cells</text>
<text class="m" style="font-style:italic" x="189.3" y="1604.4">CCND2</text>
<text class="m" x="190.3" y="1633.5">(<tspan font-style="italic">P</tspan> &lt; 8e-19)</text>
<path d="M156 1715.4C155.8 1715.4 155.6 1724.5 155.3 1728.5C155.1 1732.5 154.9 1735.8 154.7 1739.5C154.5 1743.1 154.3 1746.8 154 1750.4C153.8 1754.1 153.6 1758.1 153.2 1761.3C152.7 1764.6 152.5 1767.2 151.2 1770.1C149.9 1773 147.3 1775.9 145.5 1778.9C143.7 1781.8 142 1784.7 140.2 1787.6C138.5 1790.5 136.8 1793.8 135.2 1796.4C133.6 1798.9 131.9 1801.1 130.8 1802.9C129.7 1804.8 129.1 1806 128.6 1807.3C128.2 1808.6 127.9 1809.5 128 1810.6C128.1 1811.7 128.1 1812.6 129.3 1813.9C130.5 1815.2 133.1 1816.8 135.2 1818.3C137.3 1819.7 139.9 1821.2 141.8 1822.6C143.6 1824.1 144.7 1825.2 146.1 1827C147.6 1828.8 149.3 1831.4 150.5 1833.6C151.8 1835.8 153 1838.5 153.8 1840.2C154.6 1841.8 155 1841.3 155.3 1843.4C155.7 1845.6 155.8 1852.9 156 1852.9C156.2 1852.9 156.3 1845.6 156.7 1843.4C157 1841.3 157.4 1841.8 158.2 1840.2C159 1838.5 160.2 1835.8 161.5 1833.6C162.7 1831.4 164.4 1828.8 165.9 1827C167.3 1825.2 168.4 1824.1 170.2 1822.6C172.1 1821.2 174.7 1819.7 176.8 1818.3C178.9 1816.8 181.5 1815.2 182.7 1813.9C183.9 1812.6 183.9 1811.7 184 1810.6C184.1 1809.5 183.8 1808.6 183.4 1807.3C182.9 1806 182.3 1804.8 181.2 1802.9C180.1 1801.1 178.4 1798.9 176.8 1796.4C175.2 1793.8 173.5 1790.5 171.8 1787.6C170 1784.7 168.3 1781.8 166.5 1778.9C164.7 1775.9 162.1 1773 160.8 1770.1C159.5 1767.2 159.3 1764.6 158.8 1761.3C158.4 1758.1 158.2 1754.1 158 1750.4C157.7 1746.8 157.5 1743.1 157.3 1739.5C157.1 1735.8 156.9 1732.5 156.7 1728.5C156.4 1724.5 156.2 1715.4 156 1715.4Z" fill="#999999" stroke="#231f20" stroke-width="0.8" stroke-linejoin="round"/>
<path d="M218 1644.9C217.8 1644.9 217.6 1658 217.3 1662.8C217.1 1667.7 216.9 1670.1 216.7 1673.8C216.4 1677.4 216.2 1681.1 215.8 1684.7C215.4 1688.4 214.9 1692 214.5 1695.7C214.1 1699.3 213.8 1703 213.4 1706.6C213 1710.3 212.6 1713.9 212.3 1717.6C212 1721.2 211.7 1724.9 211.4 1728.5C211.1 1732.2 210.9 1735.8 210.6 1739.5C210.2 1743.1 209.9 1746.8 209.5 1750.4C209.1 1754.1 208.6 1757.7 208.1 1761.3C207.7 1765 207.1 1768.6 206.6 1772.3C206.1 1775.9 205.7 1779.6 205.3 1783.2C204.9 1786.9 204.6 1791.3 204.4 1794.2C204.2 1797.1 204.1 1798.2 204.2 1800.8C204.3 1803.3 204.5 1806.6 204.9 1809.5C205.3 1812.4 205.8 1815.3 206.6 1818.3C207.4 1821.2 208.6 1824.1 209.7 1827C210.8 1829.9 212.2 1833.2 213.2 1835.8C214.2 1838.3 215.1 1840.2 215.8 1842.3C216.5 1844.5 217 1844.7 217.3 1848.9C217.7 1853.1 217.8 1867.5 218 1867.5C218.2 1867.5 218.3 1853.1 218.7 1848.9C219 1844.7 219.5 1844.5 220.2 1842.3C220.9 1840.2 221.8 1838.3 222.8 1835.8C223.8 1833.2 225.2 1829.9 226.3 1827C227.4 1824.1 228.6 1821.2 229.4 1818.3C230.2 1815.3 230.7 1812.4 231.1 1809.5C231.5 1806.6 231.7 1803.3 231.8 1800.8C231.9 1798.2 231.8 1797.1 231.6 1794.2C231.4 1791.3 231.1 1786.9 230.7 1783.2C230.3 1779.6 229.9 1775.9 229.4 1772.3C228.9 1768.6 228.3 1765 227.9 1761.3C227.4 1757.7 226.9 1754.1 226.5 1750.4C226.1 1746.8 225.8 1743.1 225.4 1739.5C225.1 1735.8 224.9 1732.2 224.6 1728.5C224.3 1724.9 224 1721.2 223.7 1717.6C223.4 1713.9 223 1710.3 222.6 1706.6C222.2 1703 221.9 1699.3 221.5 1695.7C221.1 1692 220.6 1688.4 220.2 1684.7C219.8 1681.1 219.6 1677.4 219.3 1673.8C219.1 1670.1 218.9 1667.7 218.7 1662.8C218.4 1658 218.2 1644.9 218 1644.9Z" fill="#35aee2" stroke="#231f20" stroke-width="0.8" stroke-linejoin="round"/>
<path d="M333.1 1633.5V1878.6H470.3" stroke="#231f20" stroke-width="1.6" fill="none"/>
<path d="M326.6 1867.5h6.5M326.6 1813.2h6.5M326.6 1758.9h6.5M326.6 1704.6h6.5M326.6 1650.3h6.5" stroke="#231f20" stroke-width="1.6" fill="none"/>
<text class="e" x="325.8" y="1876.06">0</text>
<text class="e" x="325.8" y="1821.76">1</text>
<text class="e" x="325.8" y="1767.46">2</text>
<text class="e" x="325.8" y="1713.16">3</text>
<text class="e" x="325.8" y="1658.86">4</text>
<path d="M370.5 1878.6v6.5M432.5 1878.6v6.5" stroke="#231f20" stroke-width="1.6" fill="none"/>
<text class="m" x="360.7" y="1904">Control</text>
<text class="m" x="364.7" y="1929">cells</text>
<text class="m" x="438.9" y="1904">gRNA</text>
<text class="m" x="439.1" y="1929">cells</text>
<text class="m" style="font-style:italic" x="403.8" y="1604.4">ZC3HAV1</text>
<text class="m" x="404.8" y="1633.5">(<tspan font-style="italic">P</tspan> &lt; 2e-308)</text>
<path d="M370.5 1737.7C370.1 1737.7 370 1745.7 369.4 1748.2C368.9 1750.7 368.1 1751.1 367.2 1752.6C366.3 1754.1 365.4 1755.1 363.9 1757C362.5 1758.8 360.3 1761.3 358.5 1763.5C356.6 1765.7 354.4 1767.9 353 1770.1C351.5 1772.3 350.4 1774.5 349.7 1776.7C349 1778.9 348.7 1780.7 348.6 1783.2C348.5 1785.8 349.3 1789.4 349.3 1792C349.3 1794.6 349.3 1796.4 348.6 1798.6C348 1800.8 346.3 1802.9 345.3 1805.1C344.4 1807.3 343.4 1809.9 342.9 1811.7C342.5 1813.5 342.4 1814.3 342.7 1816.1C343 1817.9 343.5 1820.5 344.7 1822.6C345.8 1824.8 347.9 1827 349.7 1829.2C351.5 1831.4 353.7 1833.6 355.6 1835.8C357.5 1838 359.6 1840.2 361.3 1842.3C363.1 1844.5 364.9 1847.1 366.1 1848.9C367.4 1850.7 368.1 1851.8 368.7 1853.3C369.4 1854.8 369.6 1855.3 369.8 1857.7C370.1 1860 370.3 1867.5 370.5 1867.5C370.7 1867.5 370.9 1860 371.2 1857.7C371.4 1855.3 371.6 1854.8 372.3 1853.3C372.9 1851.8 373.6 1850.7 374.9 1848.9C376.1 1847.1 377.9 1844.5 379.7 1842.3C381.4 1840.2 383.5 1838 385.4 1835.8C387.3 1833.6 389.5 1831.4 391.3 1829.2C393.1 1827 395.2 1824.8 396.3 1822.6C397.5 1820.5 398 1817.9 398.3 1816.1C398.6 1814.3 398.5 1813.5 398.1 1811.7C397.6 1809.9 396.6 1807.3 395.7 1805.1C394.7 1802.9 393 1800.8 392.4 1798.6C391.7 1796.4 391.7 1794.6 391.7 1792C391.7 1789.4 392.5 1785.8 392.4 1783.2C392.3 1780.7 392 1778.9 391.3 1776.7C390.6 1774.5 389.5 1772.3 388 1770.1C386.6 1767.9 384.4 1765.7 382.5 1763.5C380.7 1761.3 378.5 1758.8 377.1 1757C375.6 1755.1 374.7 1754.1 373.8 1752.6C372.9 1751.1 372.1 1750.7 371.6 1748.2C371 1745.7 370.9 1737.7 370.5 1737.7Z" fill="#999999" stroke="#231f20" stroke-width="0.8" stroke-linejoin="round"/>
<path d="M432.5 1644.2C432.2 1644.2 431.9 1657.9 431.6 1662.8C431.3 1667.8 431 1670.1 430.7 1673.8C430.5 1677.4 430.1 1681.1 429.9 1684.7C429.6 1688.4 429.4 1692 429.2 1695.7C429 1699.3 428.8 1703 428.6 1706.6C428.3 1710.3 428 1713.9 427.7 1717.6C427.3 1721.2 427 1724.9 426.4 1728.5C425.8 1732.2 425.2 1736.2 424.2 1739.5C423.2 1742.7 421.7 1745.3 420.5 1748.2C419.2 1751.1 417.8 1754.1 416.7 1757C415.6 1759.9 414.5 1762.8 413.9 1765.7C413.3 1768.6 413.4 1771.6 413.2 1774.5C413.1 1777.4 413.2 1780.7 412.8 1783.2C412.4 1785.8 411.8 1787.6 411 1789.8C410.2 1792 408.7 1794.2 408 1796.4C407.3 1798.6 406.8 1801.1 406.7 1802.9C406.5 1804.8 406.4 1805.5 407.1 1807.3C407.8 1809.1 409 1811.7 410.6 1813.9C412.2 1816.1 414.7 1818.3 416.7 1820.5C418.7 1822.6 420.9 1824.8 422.6 1827C424.4 1829.2 425.8 1831.4 427 1833.6C428.2 1835.8 429.1 1838 429.9 1840.2C430.6 1842.3 431.2 1842.4 431.6 1846.7C432.1 1851 432.2 1866 432.5 1866C432.8 1866 432.9 1851 433.4 1846.7C433.8 1842.4 434.4 1842.3 435.1 1840.2C435.9 1838 436.8 1835.8 438 1833.6C439.2 1831.4 440.6 1829.2 442.4 1827C444.1 1824.8 446.3 1822.6 448.3 1820.5C450.3 1818.3 452.8 1816.1 454.4 1813.9C456 1811.7 457.2 1809.1 457.9 1807.3C458.6 1805.5 458.5 1804.8 458.3 1802.9C458.2 1801.1 457.7 1798.6 457 1796.4C456.3 1794.2 454.8 1792 454 1789.8C453.2 1787.6 452.6 1785.8 452.2 1783.2C451.8 1780.7 451.9 1777.4 451.8 1774.5C451.6 1771.6 451.7 1768.6 451.1 1765.7C450.5 1762.8 449.4 1759.9 448.3 1757C447.2 1754.1 445.8 1751.1 444.5 1748.2C443.3 1745.3 441.8 1742.7 440.8 1739.5C439.8 1736.2 439.2 1732.2 438.6 1728.5C438 1724.9 437.7 1721.2 437.3 1717.6C437 1713.9 436.7 1710.3 436.4 1706.6C436.2 1703 436 1699.3 435.8 1695.7C435.6 1692 435.4 1688.4 435.1 1684.7C434.9 1681.1 434.5 1677.4 434.3 1673.8C434 1670.1 433.7 1667.8 433.4 1662.8C433.1 1657.9 432.8 1644.2 432.5 1644.2Z" fill="#35aee2" stroke="#231f20" stroke-width="0.8" stroke-linejoin="round"/>
<path d="M547.5 1633.5V1878.6H684.7" stroke="#231f20" stroke-width="1.6" fill="none"/>
<path d="M541 1867.5h6.5M541 1803.8h6.5M541 1740.1h6.5M541 1676.4h6.5" stroke="#231f20" stroke-width="1.6" fill="none"/>
<text class="e" x="540.2" y="1876.06">0</text>
<text class="e" x="540.2" y="1812.36">1</text>
<text class="e" x="540.2" y="1748.66">2</text>
<text class="e" x="540.2" y="1684.96">3</text>
<path d="M584.9 1878.6v6.5M646.9 1878.6v6.5" stroke="#231f20" stroke-width="1.6" fill="none"/>
<text class="m" x="575.1" y="1904">Control</text>
<text class="m" x="579.1" y="1929">cells</text>
<text class="m" x="653.3" y="1904">gRNA</text>
<text class="m" x="653.5" y="1929">cells</text>
<text class="m" style="font-style:italic" x="618.2" y="1604.4">TBR1</text>
<text class="m" x="619.2" y="1633.5">(<tspan font-style="italic">P</tspan> = 4e-159)</text>
<path d="M646.9 1644.2C646.7 1644.2 646.5 1652.8 646.2 1656.3C646 1659.7 645.8 1662.1 645.1 1665C644.5 1667.9 643.3 1670.9 642.1 1673.8C640.8 1676.7 639.2 1679.6 637.7 1682.5C636.2 1685.5 634.8 1688.4 633.3 1691.3C631.9 1694.2 630.3 1697.1 628.9 1700.1C627.6 1703 626.2 1705.9 625 1708.8C623.8 1711.7 622.8 1714.6 621.9 1717.6C621.1 1720.5 620.5 1723.4 620 1726.3C619.5 1729.2 619.1 1732.5 618.9 1735.1C618.7 1737.6 618.6 1739.5 618.7 1741.6C618.7 1743.8 618.7 1745.7 619.1 1748.2C619.5 1750.8 620.3 1754.1 621.1 1757C621.9 1759.9 622.9 1762.8 623.9 1765.7C624.9 1768.6 626.2 1771.6 627.2 1774.5C628.2 1777.4 629.1 1780.3 629.8 1783.2C630.6 1786.2 631.2 1789.1 631.6 1792C632 1794.9 632.1 1797.8 632.2 1800.8C632.4 1803.7 632.3 1806.6 632.5 1809.5C632.6 1812.4 632.5 1815.3 632.9 1818.3C633.3 1821.2 634 1824.1 634.9 1827C635.7 1829.9 637 1832.9 638.1 1835.8C639.2 1838.7 640.4 1841.6 641.4 1844.5C642.4 1847.5 643.6 1850.7 644.3 1853.3C645 1855.8 645.3 1857.9 645.6 1859.9C645.9 1861.9 645.8 1864.1 646 1865.3C646.2 1866.6 646.6 1867.5 646.9 1867.5C647.2 1867.5 647.6 1866.6 647.8 1865.3C648 1864.1 647.9 1861.9 648.2 1859.9C648.5 1857.9 648.8 1855.8 649.5 1853.3C650.2 1850.7 651.4 1847.5 652.4 1844.5C653.4 1841.6 654.6 1838.7 655.7 1835.8C656.8 1832.9 658.1 1829.9 658.9 1827C659.8 1824.1 660.5 1821.2 660.9 1818.3C661.3 1815.3 661.2 1812.4 661.3 1809.5C661.5 1806.6 661.4 1803.7 661.6 1800.8C661.7 1797.8 661.8 1794.9 662.2 1792C662.6 1789.1 663.2 1786.2 664 1783.2C664.7 1780.3 665.6 1777.4 666.6 1774.5C667.6 1771.6 668.9 1768.6 669.9 1765.7C670.9 1762.8 671.9 1759.9 672.7 1757C673.5 1754.1 674.3 1750.8 674.7 1748.2C675.1 1745.7 675.1 1743.8 675.1 1741.6C675.2 1739.5 675.1 1737.6 674.9 1735.1C674.7 1732.5 674.3 1729.2 673.8 1726.3C673.3 1723.4 672.7 1720.5 671.9 1717.6C671 1714.6 670 1711.7 668.8 1708.8C667.6 1705.9 666.2 1703 664.9 1700.1C663.5 1697.1 661.9 1694.2 660.5 1691.3C659 1688.4 657.6 1685.5 656.1 1682.5C654.6 1679.6 653 1676.7 651.7 1673.8C650.5 1670.9 649.3 1667.9 648.7 1665C648 1662.1 647.8 1659.7 647.6 1656.3C647.3 1652.8 647.1 1644.2 646.9 1644.2Z" fill="#35aee2" stroke="#231f20" stroke-width="0.8" stroke-linejoin="round"/>
<path d="M762 1633.5V1878.6H899.2" stroke="#231f20" stroke-width="1.6" fill="none"/>
<path d="M755.5 1867.5h6.5M755.5 1803.8h6.5M755.5 1740.1h6.5M755.5 1676.4h6.5" stroke="#231f20" stroke-width="1.6" fill="none"/>
<text class="e" x="754.7" y="1876.06">0</text>
<text class="e" x="754.7" y="1812.36">1</text>
<text class="e" x="754.7" y="1748.66">2</text>
<text class="e" x="754.7" y="1684.96">3</text>
<path d="M799.4 1878.6v6.5M861.4 1878.6v6.5" stroke="#231f20" stroke-width="1.6" fill="none"/>
<text class="m" x="789.6" y="1904">Control</text>
<text class="m" x="793.6" y="1929">cells</text>
<text class="m" x="867.8" y="1904">gRNA</text>
<text class="m" x="868" y="1929">cells</text>
<text class="m" style="font-style:italic" x="832.7" y="1604.4">TBR1</text>
<text class="m" x="833.7" y="1633.5">(<tspan font-style="italic">P</tspan> &lt; 4e-92)</text>
<path d="M861.4 1644.9C861.2 1644.9 861 1652.9 860.7 1656.3C860.5 1659.6 860.2 1662.1 859.6 1665C859.1 1667.9 858.4 1670.9 857.5 1673.8C856.5 1676.7 855.1 1679.6 853.7 1682.5C852.4 1685.5 850.8 1688.4 849.4 1691.3C847.9 1694.2 846.4 1697.1 845 1700.1C843.5 1703 842 1705.9 840.6 1708.8C839.3 1711.7 837.9 1714.6 836.9 1717.6C835.8 1720.5 834.8 1723.4 834.3 1726.3C833.7 1729.2 833.5 1732.5 833.4 1735.1C833.3 1737.6 833.4 1739.5 833.6 1741.6C833.8 1743.8 834.1 1745.7 834.7 1748.2C835.2 1750.8 836.3 1754.1 836.9 1757C837.5 1759.9 838.2 1762.8 838.4 1765.7C838.6 1768.6 838.7 1771.6 838.2 1774.5C837.7 1777.4 836.3 1780.3 835.6 1783.2C834.9 1786.2 834.3 1789.4 834 1792C833.8 1794.6 833.9 1796.4 834.3 1798.6C834.6 1800.8 835.2 1802.6 836.2 1805.1C837.3 1807.7 839 1811 840.6 1813.9C842.2 1816.8 844.1 1819.7 845.6 1822.6C847.2 1825.6 848.7 1828.5 850 1831.4C851.4 1834.3 852.6 1837.2 853.7 1840.2C854.9 1843.1 856.1 1846 857 1848.9C858 1851.8 858.8 1855.1 859.4 1857.7C860 1860.2 860.2 1862.6 860.5 1864.2C860.9 1865.9 861.1 1867.5 861.4 1867.5C861.7 1867.5 861.9 1865.9 862.3 1864.2C862.6 1862.6 862.8 1860.2 863.4 1857.7C864 1855.1 864.8 1851.8 865.8 1848.9C866.7 1846 867.9 1843.1 869.1 1840.2C870.2 1837.2 871.4 1834.3 872.8 1831.4C874.1 1828.5 875.6 1825.6 877.2 1822.6C878.7 1819.7 880.6 1816.8 882.2 1813.9C883.8 1811 885.5 1807.7 886.6 1805.1C887.6 1802.6 888.2 1800.8 888.5 1798.6C888.9 1796.4 889 1794.6 888.8 1792C888.5 1789.4 887.9 1786.2 887.2 1783.2C886.5 1780.3 885.1 1777.4 884.6 1774.5C884.1 1771.6 884.2 1768.6 884.4 1765.7C884.6 1762.8 885.3 1759.9 885.9 1757C886.5 1754.1 887.6 1750.8 888.1 1748.2C888.7 1745.7 889 1743.8 889.2 1741.6C889.4 1739.5 889.5 1737.6 889.4 1735.1C889.3 1732.5 889.1 1729.2 888.5 1726.3C888 1723.4 887 1720.5 885.9 1717.6C884.9 1714.6 883.5 1711.7 882.2 1708.8C880.8 1705.9 879.3 1703 877.8 1700.1C876.4 1697.1 874.9 1694.2 873.4 1691.3C872 1688.4 870.4 1685.5 869.1 1682.5C867.7 1679.6 866.3 1676.7 865.3 1673.8C864.4 1670.9 863.7 1667.9 863.2 1665C862.6 1662.1 862.3 1659.6 862.1 1656.3C861.8 1652.9 861.6 1644.9 861.4 1644.9Z" fill="#35aee2" stroke="#231f20" stroke-width="0.8" stroke-linejoin="round"/>
<path d="M975.8 1633.5V1878.6H1113" stroke="#231f20" stroke-width="1.6" fill="none"/>
<path d="M969.3 1867.5h6.5M969.3 1793.3h6.5M969.3 1719.1h6.5M969.3 1644.9h6.5" stroke="#231f20" stroke-width="1.6" fill="none"/>
<text class="e" x="968.5" y="1876.06">0</text>
<text class="e" x="968.5" y="1801.86">1</text>
<text class="e" x="968.5" y="1727.66">2</text>
<text class="e" x="968.5" y="1653.46">3</text>
<path d="M1013.2 1878.6v6.5M1075.2 1878.6v6.5" stroke="#231f20" stroke-width="1.6" fill="none"/>
<text class="m" x="1003.4" y="1904">Control</text>
<text class="m" x="1007.4" y="1929">cells</text>
<text class="m" x="1081.6" y="1904">gRNA</text>
<text class="m" x="1081.8" y="1929">cells</text>
<text class="m" style="font-style:italic" x="1046.5" y="1604.4">BCL11A</text>
<text class="m" x="1047.5" y="1633.5">(<tspan font-style="italic">P</tspan> = 5e-9)</text>
<path d="M1013.2 1662.2C1012.9 1662.2 1012.6 1670 1012.3 1673.8C1012 1677.5 1011.7 1681.1 1011.4 1684.7C1011.2 1688.4 1011.2 1692 1011 1695.7C1010.8 1699.3 1010.6 1703 1010.1 1706.6C1009.7 1710.3 1009.2 1713.9 1008.4 1717.6C1007.6 1721.2 1006.3 1724.9 1005.5 1728.5C1004.8 1732.2 1004.5 1736.2 1004 1739.5C1003.5 1742.7 1003.5 1745.7 1002.7 1748.2C1001.9 1750.8 1000.1 1752.6 999 1754.8C997.8 1757 996.9 1759.2 995.7 1761.3C994.5 1763.5 993 1765.7 991.7 1767.9C990.5 1770.1 989 1772.7 988 1774.5C987 1776.3 986.3 1777.8 985.8 1778.9C985.4 1780 985.1 1780 985.2 1781.1C985.3 1782.1 985.3 1783.6 986.5 1785.4C987.7 1787.3 990.6 1789.8 992.4 1792C994.2 1794.2 996.2 1796.4 997.4 1798.6C998.7 1800.8 998.9 1802.6 1000.1 1805.1C1001.2 1807.7 1003 1811 1004.4 1813.9C1005.9 1816.8 1007.7 1820.1 1008.8 1822.6C1010 1825.2 1010.8 1827 1011.4 1829.2C1012.1 1831.4 1012.3 1832.4 1012.5 1835.8C1012.8 1839.2 1013 1849.6 1013.2 1849.6C1013.4 1849.6 1013.6 1839.2 1013.9 1835.8C1014.1 1832.4 1014.3 1831.4 1015 1829.2C1015.6 1827 1016.4 1825.2 1017.6 1822.6C1018.7 1820.1 1020.5 1816.8 1022 1813.9C1023.4 1811 1025.2 1807.7 1026.3 1805.1C1027.5 1802.6 1027.7 1800.8 1029 1798.6C1030.2 1796.4 1032.2 1794.2 1034 1792C1035.8 1789.8 1038.7 1787.3 1039.9 1785.4C1041.1 1783.6 1041.1 1782.1 1041.2 1781.1C1041.3 1780 1041 1780 1040.6 1778.9C1040.1 1777.8 1039.4 1776.3 1038.4 1774.5C1037.4 1772.7 1035.9 1770.1 1034.7 1767.9C1033.4 1765.7 1031.9 1763.5 1030.7 1761.3C1029.5 1759.2 1028.6 1757 1027.4 1754.8C1026.3 1752.6 1024.5 1750.8 1023.7 1748.2C1022.9 1745.7 1022.9 1742.7 1022.4 1739.5C1021.9 1736.2 1021.6 1732.2 1020.9 1728.5C1020.1 1724.9 1018.8 1721.2 1018 1717.6C1017.2 1713.9 1016.7 1710.3 1016.3 1706.6C1015.8 1703 1015.6 1699.3 1015.4 1695.7C1015.2 1692 1015.2 1688.4 1015 1684.7C1014.7 1681.1 1014.4 1677.5 1014.1 1673.8C1013.8 1670 1013.5 1662.2 1013.2 1662.2Z" fill="#999999" stroke="#231f20" stroke-width="0.8" stroke-linejoin="round"/>
<path d="M1075.2 1656.7C1074.9 1656.7 1074.6 1669.1 1074.3 1673.8C1074 1678.5 1073.8 1681.1 1073.4 1684.7C1073.1 1688.4 1072.6 1692 1072.1 1695.7C1071.6 1699.3 1071.2 1703 1070.4 1706.6C1069.6 1710.3 1068.6 1713.9 1067.5 1717.6C1066.4 1721.2 1065 1724.9 1063.8 1728.5C1062.6 1732.2 1061.3 1735.8 1060.3 1739.5C1059.3 1743.1 1058.4 1746.8 1057.7 1750.4C1057 1754.1 1056.5 1758.1 1055.9 1761.3C1055.4 1764.6 1054.9 1767.6 1054.4 1770.1C1053.9 1772.7 1053.3 1774.5 1052.9 1776.7C1052.5 1778.9 1051.9 1781.1 1052 1783.2C1052.1 1785.4 1052.3 1787.3 1053.3 1789.8C1054.3 1792.4 1056.5 1795.6 1058.1 1798.6C1059.8 1801.5 1061.5 1804.4 1063.2 1807.3C1064.8 1810.2 1066.6 1813.2 1068.2 1816.1C1069.8 1819 1071.6 1822.3 1072.6 1824.8C1073.6 1827.4 1073.7 1829.2 1074.1 1831.4C1074.5 1833.6 1074.6 1833.6 1074.8 1838C1074.9 1842.3 1075.1 1857.7 1075.2 1857.7C1075.3 1857.7 1075.5 1842.3 1075.6 1838C1075.8 1833.6 1075.9 1833.6 1076.3 1831.4C1076.7 1829.2 1076.8 1827.4 1077.8 1824.8C1078.8 1822.3 1080.6 1819 1082.2 1816.1C1083.8 1813.2 1085.6 1810.2 1087.2 1807.3C1088.9 1804.4 1090.6 1801.5 1092.3 1798.6C1093.9 1795.6 1096.1 1792.4 1097.1 1789.8C1098.1 1787.3 1098.3 1785.4 1098.4 1783.2C1098.5 1781.1 1097.9 1778.9 1097.5 1776.7C1097.1 1774.5 1096.5 1772.7 1096 1770.1C1095.5 1767.6 1095 1764.6 1094.5 1761.3C1093.9 1758.1 1093.4 1754.1 1092.7 1750.4C1092 1746.8 1091.1 1743.1 1090.1 1739.5C1089.1 1735.8 1087.8 1732.2 1086.6 1728.5C1085.4 1724.9 1084 1721.2 1082.9 1717.6C1081.8 1713.9 1080.8 1710.3 1080 1706.6C1079.2 1703 1078.8 1699.3 1078.3 1695.7C1077.8 1692 1077.3 1688.4 1077 1684.7C1076.6 1681.1 1076.4 1678.5 1076.1 1673.8C1075.8 1669.1 1075.5 1656.7 1075.2 1656.7Z" fill="#35aee2" stroke="#231f20" stroke-width="0.8" stroke-linejoin="round"/>
<path d="M1189.9 1633.5V1878.6H1327.1" stroke="#231f20" stroke-width="1.6" fill="none"/>
<path d="M1183.4 1867.5h6.5M1183.4 1778.3h6.5M1183.4 1689.1h6.5" stroke="#231f20" stroke-width="1.6" fill="none"/>
<text class="e" x="1182.6" y="1876.06">0</text>
<text class="e" x="1182.6" y="1786.86">1</text>
<text class="e" x="1182.6" y="1697.66">2</text>
<path d="M1227.3 1878.6v6.5M1289.3 1878.6v6.5" stroke="#231f20" stroke-width="1.6" fill="none"/>
<text class="m" x="1217.5" y="1904">Control</text>
<text class="m" x="1221.5" y="1929">cells</text>
<text class="m" x="1295.7" y="1904">gRNA</text>
<text class="m" x="1295.9" y="1929">cells</text>
<text class="m" style="font-style:italic" x="1260.6" y="1604.4">FOXP1</text>
<text class="m" x="1261.6" y="1633.5">(<tspan font-style="italic">P</tspan> = 1e-8)</text>
<path d="M1227.3 1650.1C1227.1 1650.1 1226.9 1658.9 1226.6 1662.8C1226.4 1666.8 1226.2 1670.1 1226 1673.8C1225.7 1677.4 1225.6 1681.1 1225.1 1684.7C1224.6 1688.4 1223.8 1692 1222.9 1695.7C1222 1699.3 1220.7 1703 1219.6 1706.6C1218.5 1710.3 1217.3 1713.9 1216.4 1717.6C1215.4 1721.2 1215 1724.9 1214.2 1728.5C1213.4 1732.2 1212.6 1736.2 1211.5 1739.5C1210.4 1742.7 1209.1 1745.3 1207.6 1748.2C1206.1 1751.1 1204.1 1754.4 1202.8 1757C1201.5 1759.5 1200.6 1761.3 1199.9 1763.5C1199.3 1765.7 1198.8 1767.9 1198.8 1770.1C1198.8 1772.3 1199.2 1774.5 1199.9 1776.7C1200.7 1778.9 1201.8 1780.7 1203.2 1783.2C1204.7 1785.8 1206.8 1789.1 1208.7 1792C1210.6 1794.9 1212.7 1797.8 1214.6 1800.8C1216.5 1803.7 1218.7 1807 1220.3 1809.5C1221.9 1812.1 1223 1813.9 1224 1816.1C1225 1818.3 1225.7 1820.5 1226.2 1822.6C1226.7 1824.8 1226.7 1825.4 1226.9 1829.2C1227 1833 1227.2 1845.6 1227.3 1845.6C1227.4 1845.6 1227.6 1833 1227.7 1829.2C1227.9 1825.4 1227.9 1824.8 1228.4 1822.6C1228.9 1820.5 1229.6 1818.3 1230.6 1816.1C1231.6 1813.9 1232.7 1812.1 1234.3 1809.5C1235.9 1807 1238.1 1803.7 1240 1800.8C1241.9 1797.8 1244 1794.9 1245.9 1792C1247.8 1789.1 1249.9 1785.8 1251.4 1783.2C1252.8 1780.7 1253.9 1778.9 1254.7 1776.7C1255.4 1774.5 1255.8 1772.3 1255.8 1770.1C1255.8 1767.9 1255.3 1765.7 1254.7 1763.5C1254 1761.3 1253.1 1759.5 1251.8 1757C1250.5 1754.4 1248.5 1751.1 1247 1748.2C1245.5 1745.3 1244.2 1742.7 1243.1 1739.5C1242 1736.2 1241.2 1732.2 1240.4 1728.5C1239.6 1724.9 1239.2 1721.2 1238.2 1717.6C1237.3 1713.9 1236.1 1710.3 1235 1706.6C1233.9 1703 1232.6 1699.3 1231.7 1695.7C1230.8 1692 1230 1688.4 1229.5 1684.7C1229 1681.1 1228.9 1677.4 1228.6 1673.8C1228.4 1670.1 1228.2 1666.8 1228 1662.8C1227.7 1658.9 1227.5 1650.1 1227.3 1650.1Z" fill="#999999" stroke="#231f20" stroke-width="0.8" stroke-linejoin="round"/>
<path d="M1289.3 1644.9C1289 1644.9 1288.8 1652.9 1288.4 1656.3C1288.1 1659.6 1287.5 1662.1 1287.1 1665C1286.7 1667.9 1286.2 1670.9 1285.8 1673.8C1285.4 1676.7 1284.8 1679.6 1284.5 1682.5C1284.2 1685.5 1284 1688.4 1284 1691.3C1284.1 1694.2 1284.7 1697.1 1284.9 1700.1C1285.1 1703 1285.7 1705.9 1285.4 1708.8C1285 1711.7 1283.7 1714.6 1282.7 1717.6C1281.7 1720.5 1280.5 1723.4 1279.4 1726.3C1278.4 1729.2 1277.4 1732.2 1276.2 1735.1C1274.9 1738 1273.3 1740.9 1271.8 1743.8C1270.3 1746.8 1268.4 1749.7 1267 1752.6C1265.6 1755.5 1264.3 1758.4 1263.5 1761.3C1262.7 1764.3 1262.2 1767.2 1262.2 1770.1C1262.2 1773 1262.6 1775.9 1263.5 1778.9C1264.3 1781.8 1265.9 1784.7 1267.4 1787.6C1268.9 1790.5 1270.7 1793.5 1272.2 1796.4C1273.8 1799.3 1275 1802.2 1276.6 1805.1C1278.2 1808.1 1280.2 1811.3 1281.6 1813.9C1283.1 1816.4 1284.3 1818.3 1285.4 1820.5C1286.4 1822.6 1287.4 1824.8 1288 1827C1288.6 1829.2 1288.6 1827 1288.9 1833.6C1289.1 1840.2 1289.2 1866.4 1289.3 1866.4C1289.4 1866.4 1289.5 1840.2 1289.7 1833.6C1290 1827 1290 1829.2 1290.6 1827C1291.2 1824.8 1292.2 1822.6 1293.2 1820.5C1294.3 1818.3 1295.5 1816.4 1297 1813.9C1298.4 1811.3 1300.4 1808.1 1302 1805.1C1303.6 1802.2 1304.8 1799.3 1306.4 1796.4C1307.9 1793.5 1309.7 1790.5 1311.2 1787.6C1312.7 1784.7 1314.3 1781.8 1315.1 1778.9C1316 1775.9 1316.4 1773 1316.4 1770.1C1316.4 1767.2 1315.9 1764.3 1315.1 1761.3C1314.3 1758.4 1313 1755.5 1311.6 1752.6C1310.2 1749.7 1308.3 1746.8 1306.8 1743.8C1305.3 1740.9 1303.7 1738 1302.4 1735.1C1301.2 1732.2 1300.2 1729.2 1299.2 1726.3C1298.1 1723.4 1296.9 1720.5 1295.9 1717.6C1294.9 1714.6 1293.6 1711.7 1293.2 1708.8C1292.9 1705.9 1293.5 1703 1293.7 1700.1C1293.9 1697.1 1294.5 1694.2 1294.6 1691.3C1294.6 1688.4 1294.4 1685.5 1294.1 1682.5C1293.8 1679.6 1293.2 1676.7 1292.8 1673.8C1292.4 1670.9 1291.9 1667.9 1291.5 1665C1291.1 1662.1 1290.5 1659.6 1290.2 1656.3C1289.8 1652.9 1289.6 1644.9 1289.3 1644.9Z" fill="#35aee2" stroke="#231f20" stroke-width="0.8" stroke-linejoin="round"/>
<path d="M1404.4 1633.5V1878.6H1541.6" stroke="#231f20" stroke-width="1.6" fill="none"/>
<path d="M1397.9 1867.5h6.5M1397.9 1799.1h6.5M1397.9 1730.7h6.5M1397.9 1662.3h6.5" stroke="#231f20" stroke-width="1.6" fill="none"/>
<text class="e" x="1397.1" y="1876.06">0</text>
<text class="e" x="1397.1" y="1807.66">1</text>
<text class="e" x="1397.1" y="1739.26">2</text>
<text class="e" x="1397.1" y="1670.86">3</text>
<path d="M1441.8 1878.6v6.5M1503.8 1878.6v6.5" stroke="#231f20" stroke-width="1.6" fill="none"/>
<text class="m" x="1432" y="1904">Control</text>
<text class="m" x="1436" y="1929">cells</text>
<text class="m" x="1510.2" y="1904">gRNA</text>
<text class="m" x="1510.4" y="1929">cells</text>
<text class="m" style="font-style:italic" x="1475.1" y="1604.4">FOXP1</text>
<text class="m" x="1476.1" y="1633.5">(<tspan font-style="italic">P</tspan> = 7e-10)</text>
<path d="M1441.8 1700.5C1441.6 1700.5 1441.4 1707.8 1441.1 1711C1440.9 1714.2 1440.8 1716.8 1440.5 1719.8C1440.2 1722.7 1439.8 1725.6 1439.2 1728.5C1438.6 1731.4 1437.8 1734.3 1437 1737.3C1436.1 1740.2 1435.1 1743.1 1434.1 1746C1433.2 1748.9 1432 1752.2 1431.3 1754.8C1430.6 1757.3 1430.3 1759.2 1429.8 1761.3C1429.2 1763.5 1429.1 1765.7 1428.2 1767.9C1427.4 1770.1 1426.1 1772.3 1424.7 1774.5C1423.3 1776.7 1421.4 1778.9 1419.9 1781.1C1418.4 1783.2 1416.6 1785.6 1415.5 1787.6C1414.5 1789.6 1413.9 1791.3 1413.8 1793.1C1413.7 1794.9 1414.3 1796.6 1415.1 1798.6C1415.9 1800.6 1417.4 1802.9 1418.8 1805.1C1420.3 1807.3 1422.1 1809.5 1423.8 1811.7C1425.6 1813.9 1427.3 1816.1 1429.1 1818.3C1430.9 1820.5 1433.2 1822.8 1434.8 1824.8C1436.4 1826.8 1437.8 1828.5 1438.7 1830.3C1439.7 1832.1 1440.3 1834.1 1440.7 1835.8C1441.1 1837.4 1441.2 1837.7 1441.4 1840.2C1441.5 1842.6 1441.7 1850.7 1441.8 1850.7C1441.9 1850.7 1442.1 1842.6 1442.2 1840.2C1442.4 1837.7 1442.5 1837.4 1442.9 1835.8C1443.3 1834.1 1443.9 1832.1 1444.9 1830.3C1445.8 1828.5 1447.2 1826.8 1448.8 1824.8C1450.4 1822.8 1452.7 1820.5 1454.5 1818.3C1456.3 1816.1 1458 1813.9 1459.8 1811.7C1461.5 1809.5 1463.3 1807.3 1464.8 1805.1C1466.2 1802.9 1467.7 1800.6 1468.5 1798.6C1469.3 1796.6 1469.9 1794.9 1469.8 1793.1C1469.7 1791.3 1469.1 1789.6 1468.1 1787.6C1467 1785.6 1465.2 1783.2 1463.7 1781.1C1462.2 1778.9 1460.3 1776.7 1458.9 1774.5C1457.5 1772.3 1456.2 1770.1 1455.4 1767.9C1454.5 1765.7 1454.4 1763.5 1453.8 1761.3C1453.3 1759.2 1453 1757.3 1452.3 1754.8C1451.6 1752.2 1450.4 1748.9 1449.5 1746C1448.5 1743.1 1447.5 1740.2 1446.6 1737.3C1445.8 1734.3 1445 1731.4 1444.4 1728.5C1443.8 1725.6 1443.4 1722.7 1443.1 1719.8C1442.8 1716.8 1442.7 1714.2 1442.5 1711C1442.2 1707.8 1442 1700.5 1441.8 1700.5Z" fill="#999999" stroke="#231f20" stroke-width="0.8" stroke-linejoin="round"/>
<path d="M1503.8 1644.9C1503.7 1644.9 1503.5 1665.3 1503.4 1673.8C1503.2 1682.2 1503.1 1689.1 1502.9 1695.7C1502.7 1702.2 1502.4 1708.8 1502 1713.2C1501.7 1717.6 1501.4 1719 1500.7 1721.9C1500.1 1724.9 1499.1 1727.8 1498.3 1730.7C1497.5 1733.6 1496.8 1736.5 1495.9 1739.5C1495.1 1742.4 1494.2 1745.3 1493.3 1748.2C1492.4 1751.1 1491.5 1754.1 1490.7 1757C1489.8 1759.9 1488.9 1762.8 1488 1765.7C1487.2 1768.6 1486.3 1771.6 1485.4 1774.5C1484.6 1777.4 1483.7 1780.3 1483 1783.2C1482.3 1786.2 1481.8 1789.4 1481.5 1792C1481.1 1794.6 1480.9 1796.4 1481 1798.6C1481.2 1800.8 1481.4 1802.6 1482.3 1805.1C1483.3 1807.7 1485 1811 1486.7 1813.9C1488.4 1816.8 1490.6 1819.7 1492.4 1822.6C1494.2 1825.6 1496.2 1828.8 1497.7 1831.4C1499.1 1834 1500.3 1835.8 1501.2 1838C1502 1840.2 1502.6 1842.7 1502.9 1844.5C1503.3 1846.4 1503.2 1846 1503.4 1848.9C1503.5 1851.8 1503.7 1862 1503.8 1862C1503.9 1862 1504.1 1851.8 1504.2 1848.9C1504.4 1846 1504.3 1846.4 1504.7 1844.5C1505 1842.7 1505.6 1840.2 1506.4 1838C1507.3 1835.8 1508.5 1834 1509.9 1831.4C1511.4 1828.8 1513.4 1825.6 1515.2 1822.6C1517 1819.7 1519.2 1816.8 1520.9 1813.9C1522.6 1811 1524.3 1807.7 1525.3 1805.1C1526.2 1802.6 1526.4 1800.8 1526.6 1798.6C1526.7 1796.4 1526.5 1794.6 1526.1 1792C1525.8 1789.4 1525.3 1786.2 1524.6 1783.2C1523.9 1780.3 1523 1777.4 1522.2 1774.5C1521.3 1771.6 1520.4 1768.6 1519.6 1765.7C1518.7 1762.8 1517.8 1759.9 1516.9 1757C1516.1 1754.1 1515.2 1751.1 1514.3 1748.2C1513.4 1745.3 1512.5 1742.4 1511.7 1739.5C1510.8 1736.5 1510.1 1733.6 1509.3 1730.7C1508.5 1727.8 1507.5 1724.9 1506.9 1721.9C1506.2 1719 1505.9 1717.6 1505.6 1713.2C1505.2 1708.8 1504.9 1702.2 1504.7 1695.7C1504.5 1689.1 1504.4 1682.2 1504.2 1673.8C1504.1 1665.3 1503.9 1644.9 1503.8 1644.9Z" fill="#35aee2" stroke="#231f20" stroke-width="0.8" stroke-linejoin="round"/>
<path d="M1618.8 1633.5V1878.6H1756" stroke="#231f20" stroke-width="1.6" fill="none"/>
<path d="M1612.3 1867.5h6.5M1612.3 1818h6.5M1612.3 1768.5h6.5M1612.3 1719h6.5M1612.3 1669.5h6.5" stroke="#231f20" stroke-width="1.6" fill="none"/>
<text class="e" x="1611.5" y="1876.06">0</text>
<text class="e" x="1611.5" y="1826.56">1</text>
<text class="e" x="1611.5" y="1777.06">2</text>
<text class="e" x="1611.5" y="1727.56">3</text>
<text class="e" x="1611.5" y="1678.06">4</text>
<path d="M1656.2 1878.6v6.5M1718.2 1878.6v6.5" stroke="#231f20" stroke-width="1.6" fill="none"/>
<text class="m" x="1646.4" y="1904">Control</text>
<text class="m" x="1650.4" y="1929">cells</text>
<text class="m" x="1724.6" y="1904">gRNA</text>
<text class="m" x="1724.8" y="1929">cells</text>
<text class="m" style="font-style:italic" x="1689.5" y="1604.4">TCF4</text>
<text class="m" x="1690.5" y="1633.5">(<tspan font-style="italic">P</tspan> = 2e-12)</text>
<path d="M1656.2 1693.9C1656.1 1693.9 1655.9 1710 1655.8 1717.6C1655.6 1725.2 1655.5 1732.9 1655.3 1739.5C1655.2 1746 1655.3 1752.6 1654.9 1757C1654.5 1761.3 1653.9 1762.8 1653.1 1765.7C1652.3 1768.6 1650.9 1771.6 1650.1 1774.5C1649.2 1777.4 1648.9 1780.7 1647.9 1783.2C1646.9 1785.8 1645.6 1787.6 1644.2 1789.8C1642.7 1792 1640.8 1794.2 1639.1 1796.4C1637.4 1798.6 1635.4 1800.9 1633.9 1802.9C1632.3 1804.9 1630.9 1806.8 1629.9 1808.4C1629 1810.1 1628.1 1811.3 1628.2 1812.8C1628.3 1814.3 1629 1815.5 1630.4 1817.2C1631.8 1818.8 1634.2 1820.6 1636.5 1822.6C1638.8 1824.7 1641.9 1827 1644.2 1829.2C1646.4 1831.4 1648.4 1833.8 1650.1 1835.8C1651.7 1837.8 1653.1 1839.6 1654 1841.3C1654.9 1842.9 1655.2 1843.4 1655.5 1845.6C1655.9 1847.9 1656 1854.8 1656.2 1854.8C1656.4 1854.8 1656.5 1847.9 1656.9 1845.6C1657.2 1843.4 1657.5 1842.9 1658.4 1841.3C1659.3 1839.6 1660.7 1837.8 1662.3 1835.8C1664 1833.8 1666 1831.4 1668.2 1829.2C1670.5 1827 1673.6 1824.7 1675.9 1822.6C1678.2 1820.6 1680.6 1818.8 1682 1817.2C1683.4 1815.5 1684.1 1814.3 1684.2 1812.8C1684.3 1811.3 1683.4 1810.1 1682.5 1808.4C1681.5 1806.8 1680.1 1804.9 1678.5 1802.9C1677 1800.9 1675 1798.6 1673.3 1796.4C1671.6 1794.2 1669.7 1792 1668.2 1789.8C1666.8 1787.6 1665.5 1785.8 1664.5 1783.2C1663.5 1780.7 1663.2 1777.4 1662.3 1774.5C1661.5 1771.6 1660.1 1768.6 1659.3 1765.7C1658.5 1762.8 1657.9 1761.3 1657.5 1757C1657.1 1752.6 1657.2 1746 1657.1 1739.5C1656.9 1732.9 1656.8 1725.2 1656.6 1717.6C1656.5 1710 1656.3 1693.9 1656.2 1693.9Z" fill="#999999" stroke="#231f20" stroke-width="0.8" stroke-linejoin="round"/>
<path d="M1718.2 1647.1C1718.1 1647.1 1717.9 1683.9 1717.8 1695.7C1717.6 1707.4 1717.4 1712.1 1717.1 1717.6C1716.8 1723 1716.5 1724.9 1716 1728.5C1715.5 1732.2 1714.7 1735.8 1714.3 1739.5C1713.8 1743.1 1713.6 1746.8 1713.4 1750.4C1713.2 1754.1 1713.3 1758.1 1712.9 1761.3C1712.6 1764.6 1711.9 1767.2 1711.2 1770.1C1710.5 1773 1709.8 1775.9 1709 1778.9C1708.2 1781.8 1707.3 1784.7 1706.2 1787.6C1705.1 1790.5 1703.6 1793.8 1702.4 1796.4C1701.3 1798.9 1700.2 1800.9 1699.4 1802.9C1698.5 1804.9 1697.8 1806.8 1697.4 1808.4C1697 1810.1 1696.7 1811.3 1697 1812.8C1697.2 1814.3 1697.9 1815.5 1698.9 1817.2C1700 1818.8 1701.6 1820.6 1703.3 1822.6C1705 1824.7 1707.3 1827 1709 1829.2C1710.7 1831.4 1712.1 1833.6 1713.4 1835.8C1714.6 1838 1715.8 1840.3 1716.4 1842.3C1717.1 1844.4 1717.3 1844 1717.5 1847.8C1717.8 1851.7 1718 1865.3 1718.2 1865.3C1718.4 1865.3 1718.6 1851.7 1718.9 1847.8C1719.1 1844 1719.3 1844.4 1720 1842.3C1720.6 1840.3 1721.8 1838 1723 1835.8C1724.3 1833.6 1725.7 1831.4 1727.4 1829.2C1729.1 1827 1731.4 1824.7 1733.1 1822.6C1734.8 1820.6 1736.4 1818.8 1737.5 1817.2C1738.5 1815.5 1739.2 1814.3 1739.4 1812.8C1739.7 1811.3 1739.4 1810.1 1739 1808.4C1738.6 1806.8 1737.9 1804.9 1737 1802.9C1736.2 1800.9 1735.1 1798.9 1734 1796.4C1732.8 1793.8 1731.3 1790.5 1730.2 1787.6C1729.1 1784.7 1728.2 1781.8 1727.4 1778.9C1726.6 1775.9 1725.9 1773 1725.2 1770.1C1724.5 1767.2 1723.8 1764.6 1723.5 1761.3C1723.1 1758.1 1723.2 1754.1 1723 1750.4C1722.8 1746.8 1722.6 1743.1 1722.1 1739.5C1721.7 1735.8 1720.9 1732.2 1720.4 1728.5C1719.9 1724.9 1719.6 1723 1719.3 1717.6C1719 1712.1 1718.8 1707.4 1718.6 1695.7C1718.5 1683.9 1718.3 1647.1 1718.2 1647.1Z" fill="#35aee2" stroke="#231f20" stroke-width="0.8" stroke-linejoin="round"/>
<path d="M1832.6 1633.5V1878.6H1969.8" stroke="#231f20" stroke-width="1.6" fill="none"/>
<path d="M1826.1 1867.5h6.5M1826.1 1818h6.5M1826.1 1768.5h6.5M1826.1 1719h6.5M1826.1 1669.5h6.5" stroke="#231f20" stroke-width="1.6" fill="none"/>
<text class="e" x="1825.3" y="1876.06">0</text>
<text class="e" x="1825.3" y="1826.56">1</text>
<text class="e" x="1825.3" y="1777.06">2</text>
<text class="e" x="1825.3" y="1727.56">3</text>
<text class="e" x="1825.3" y="1678.06">4</text>
<path d="M1870 1878.6v6.5M1932 1878.6v6.5" stroke="#231f20" stroke-width="1.6" fill="none"/>
<text class="m" x="1860.2" y="1904">Control</text>
<text class="m" x="1864.2" y="1929">cells</text>
<text class="m" x="1938.4" y="1904">gRNA</text>
<text class="m" x="1938.6" y="1929">cells</text>
<text class="m" style="font-style:italic" x="1903.3" y="1604.4">TCF4</text>
<text class="m" x="1904.3" y="1633.5">(<tspan font-style="italic">P</tspan> = 3e-39)</text>
<path d="M1870 1693.9C1869.9 1693.9 1869.7 1710 1869.6 1717.6C1869.4 1725.2 1869.3 1732.9 1869.1 1739.5C1869 1746 1869.1 1752.6 1868.7 1757C1868.3 1761.3 1867.7 1762.8 1866.9 1765.7C1866.1 1768.6 1864.7 1771.6 1863.9 1774.5C1863 1777.4 1862.7 1780.7 1861.7 1783.2C1860.7 1785.8 1859.4 1787.6 1858 1789.8C1856.5 1792 1854.6 1794.2 1852.9 1796.4C1851.2 1798.6 1849.2 1800.9 1847.7 1802.9C1846.1 1804.9 1844.7 1806.8 1843.7 1808.4C1842.8 1810.1 1841.9 1811.3 1842 1812.8C1842.1 1814.3 1842.8 1815.5 1844.2 1817.2C1845.6 1818.8 1848 1820.6 1850.3 1822.6C1852.6 1824.7 1855.7 1827 1858 1829.2C1860.2 1831.4 1862.2 1833.8 1863.9 1835.8C1865.5 1837.8 1866.9 1839.6 1867.8 1841.3C1868.7 1842.9 1869 1843.4 1869.3 1845.6C1869.7 1847.9 1869.8 1854.8 1870 1854.8C1870.2 1854.8 1870.3 1847.9 1870.7 1845.6C1871 1843.4 1871.3 1842.9 1872.2 1841.3C1873.1 1839.6 1874.5 1837.8 1876.1 1835.8C1877.8 1833.8 1879.8 1831.4 1882 1829.2C1884.3 1827 1887.4 1824.7 1889.7 1822.6C1892 1820.6 1894.4 1818.8 1895.8 1817.2C1897.2 1815.5 1897.9 1814.3 1898 1812.8C1898.1 1811.3 1897.2 1810.1 1896.3 1808.4C1895.3 1806.8 1893.9 1804.9 1892.3 1802.9C1890.8 1800.9 1888.8 1798.6 1887.1 1796.4C1885.4 1794.2 1883.5 1792 1882 1789.8C1880.6 1787.6 1879.3 1785.8 1878.3 1783.2C1877.3 1780.7 1877 1777.4 1876.1 1774.5C1875.3 1771.6 1873.9 1768.6 1873.1 1765.7C1872.3 1762.8 1871.7 1761.3 1871.3 1757C1870.9 1752.6 1871 1746 1870.9 1739.5C1870.7 1732.9 1870.6 1725.2 1870.4 1717.6C1870.3 1710 1870.1 1693.9 1870 1693.9Z" fill="#999999" stroke="#231f20" stroke-width="0.8" stroke-linejoin="round"/>
<path d="M1932 1645.8C1931.8 1645.8 1931.6 1675.3 1931.3 1684.7C1931.1 1694.1 1930.7 1696.8 1930.2 1702.2C1929.8 1707.7 1929.3 1713.2 1928.9 1717.6C1928.6 1721.9 1928.3 1724.9 1928.1 1728.5C1927.8 1732.2 1927.8 1735.8 1927.6 1739.5C1927.4 1743.1 1927.1 1746.8 1926.7 1750.4C1926.4 1754.1 1926 1758.1 1925.4 1761.3C1924.8 1764.6 1924 1767.2 1923.2 1770.1C1922.4 1773 1921.3 1775.9 1920.6 1778.9C1920 1781.8 1919.7 1784.7 1919.3 1787.6C1918.9 1790.5 1918.9 1793.8 1918.4 1796.4C1917.9 1798.9 1917 1800.9 1916.2 1802.9C1915.4 1804.9 1914.2 1806.8 1913.6 1808.4C1913 1810.1 1912.6 1811.3 1912.7 1812.8C1912.9 1814.3 1913.5 1815.5 1914.5 1817.2C1915.5 1818.8 1917.3 1820.6 1918.9 1822.6C1920.4 1824.7 1922.1 1827 1923.7 1829.2C1925.2 1831.4 1926.9 1833.6 1928.1 1835.8C1929.2 1838 1929.9 1840.2 1930.5 1842.3C1931.1 1844.5 1931.3 1844.7 1931.6 1848.9C1931.8 1853.1 1931.9 1867.5 1932 1867.5C1932.1 1867.5 1932.2 1853.1 1932.4 1848.9C1932.7 1844.7 1932.9 1844.5 1933.5 1842.3C1934.1 1840.2 1934.8 1838 1935.9 1835.8C1937.1 1833.6 1938.8 1831.4 1940.3 1829.2C1941.9 1827 1943.6 1824.7 1945.1 1822.6C1946.7 1820.6 1948.5 1818.8 1949.5 1817.2C1950.5 1815.5 1951.1 1814.3 1951.3 1812.8C1951.4 1811.3 1951 1810.1 1950.4 1808.4C1949.8 1806.8 1948.6 1804.9 1947.8 1802.9C1947 1800.9 1946.1 1798.9 1945.6 1796.4C1945.1 1793.8 1945.1 1790.5 1944.7 1787.6C1944.3 1784.7 1944 1781.8 1943.4 1778.9C1942.7 1775.9 1941.6 1773 1940.8 1770.1C1940 1767.2 1939.2 1764.6 1938.6 1761.3C1938 1758.1 1937.6 1754.1 1937.3 1750.4C1936.9 1746.8 1936.6 1743.1 1936.4 1739.5C1936.2 1735.8 1936.2 1732.2 1935.9 1728.5C1935.7 1724.9 1935.4 1721.9 1935.1 1717.6C1934.7 1713.2 1934.2 1707.7 1933.8 1702.2C1933.3 1696.8 1932.9 1694.1 1932.7 1684.7C1932.4 1675.3 1932.2 1645.8 1932 1645.8Z" fill="#35aee2" stroke="#231f20" stroke-width="0.8" stroke-linejoin="round"/>
<text style="font-size:31.8px;font-weight:bold" x="15" y="1994">i</text>
<path d="M143.1 1987.5V2178.5" stroke="#231f20" stroke-width="1.6" fill="none"/>
<path d="M136.6 2175.1h6.5M136.6 2128.32h6.5M136.6 2081.54h6.5M136.6 2034.76h6.5M136.6 1987.98h6.5" stroke="#231f20" stroke-width="1.6" fill="none"/>
<text class="e" x="134.6" y="2183.66">0</text>
<text class="e" x="134.6" y="2136.88">10</text>
<text class="e" x="134.6" y="2090.1">20</text>
<text class="e" x="134.6" y="2043.32">30</text>
<text class="e" x="134.6" y="1996.54">40</text>
<text class="m" transform="translate(81.2 2083.3) rotate(-90)">-log10(<tspan font-style="italic">P</tspan>-values)</text>
<path d="M342.5 2165h0M342.5 2167.5h0M342.5 2175.5h0M375 2172h0M375 2175.5h0M375 2179.5h0M427.5 2167.5h0M427.5 2171h0M427.5 2175h0M483 2155h0M483 2165.5h0M483 2174.5h0M483 2178.7h0M550.75 2148h0M550.75 2152.5h0M550.75 2167.5h0M550.75 2171h0M550.75 2173h0M701.5 2162h0M701.5 2165.5h0M701.5 2168.7h0M701.5 2175.5h0M917.5 2161h0M917.5 2167.5h0M917.5 2171h0M917.5 2175h0M513 2160h0M517 2164.5h0M516.5 2168h0M513.8 2172h0M517 2175h0M512.5 2178.7h0M515 2170h0M835 2150h0M835 2154h0M834.5 2158h0M835.5 2162h0M832 2165h0M838 2166.5h0M836 2169h0M833 2171h0M837.5 2172.5h0M831.5 2174h0M834 2175.5h0M836 2177h0M832.5 2178.5h0M834 2180h0M830.5 2168h0M839.5 2169.5h0" stroke="#999999" stroke-width="6" stroke-linecap="round" fill="none"/>
<path d="M835 1999.2h0M835 2119.5h0M835 2123.8h0M835 2136.5h0M835 2145.5h0" stroke="#4db4e7" stroke-width="6" stroke-linecap="round" fill="none"/>
<rect x="162.7" y="1983.9" width="182.2" height="70" fill="#fff" stroke="#85878a" stroke-width="1.7" rx="7"/>
<circle cx="187.2" cy="2003.2" r="11" fill="#999999"/>
<circle cx="187.2" cy="2033.4" r="11" fill="#35aee2"/>
<text x="209.4" y="2012.7">eFDR &gt; 0.1</text>
<text x="209.4" y="2041.5">eFDR &lt; 0.1</text>
<text class="e" x="131.5" y="2214.5">CREs</text>
<text class="e" x="128" y="2262">H3K27ac</text>
<text class="e" x="126" y="2309.5">ATAC</text>
<text x="19" y="2372">ENSEMBL</text>
<path d="M341.6 2204.3h2.4v8.8h-2.4zM374.4 2204.3h2.4v8.8h-2.4zM426.4 2204.3h2.6v8.8h-2.6zM482.2 2204.3h2.4v8.8h-2.4zM512 2204.3h2.2v8.8h-2.2zM515.4 2204.3h2.4v8.8h-2.4zM548.6 2204.3h5.4v8.8h-5.4zM700.2 2204.3h2.6v8.8h-2.6zM830.2 2204.3h9.6v8.8h-9.6zM917 2204.3h2.2v8.8h-2.2z" fill="#a7a9ac"/>
<path d="M143 2266.8V2256.14H144.9V2256.05H146.8V2258.07H148.7V2252.14H150.6V2253.14H152.5V2252.33H154.4V2252.48H156.3V2254.4H158.2V2256.06H160.1V2255.78H162V2254.98H163.9V2252.22H165.8V2253.68H167.7V2251.54H169.6V2250.25H171.5V2249.72H173.4V2254.13H175.3V2258.87H177.2V2253.2H179.1V2251.07H181V2256.6H182.9V2255.74H184.8V2250.41H186.7V2254.58H188.6V2253.06H190.5V2253.04H192.4V2253.19H194.3V2252.55H196.2V2253.45H198.1V2253.28H200V2254.53H201.9V2252.49H203.8V2249.9H205.7V2252.43H207.6V2253.58H209.5V2252.56H211.4V2253.75H213.3V2256.5H215.2V2254.38H217.1V2257.01H219V2257.76H220.9V2254.98H222.8V2245.52H224.7V2254.5H226.6V2258.45H228.5V2252.34H230.4V2252.52H232.3V2252.85H234.2V2257.33H236.1V2254.14H238V2258.86H239.9V2252.92H241.8V2253.46H243.7V2254.47H245.6V2256.4H247.5V2255.61H249.4V2255.33H251.3V2254.8H253.2V2254.16H255.1V2255.22H257V2257.72H258.9V2255.87H260.8V2254.37H262.7V2253.25H264.6V2256.04H266.5V2258.18H268.4V2256.81H270.3V2249.79H272.2V2251.91H274.1V2254.21H276V2255.83H277.9V2254.74H279.8V2257.15H281.7V2257.86H283.6V2255.84H285.5V2253.38H287.4V2257.44H289.3V2255.24H291.2V2251.95H293.1V2257.04H295V2253.84H296.9V2254.86H298.8V2253.21H300.7V2253.43H302.6V2251.26H304.5V2254.38H306.4V2253.96H308.3V2245.25H310.2V2258.46H312.1V2252.85H314V2253.07H315.9V2255.16H317.8V2254.2H319.7V2254.23H321.6V2252.34H323.5V2253.71H325.4V2253.38H327.3V2256.23H329.2V2251.14H331.1V2249.36H333V2253.1H334.9V2253.35H336.8V2255.1H338.7V2256.99H340.6V2254.15H342.5V2253.57H344.4V2256.66H346.3V2257.9H348.2V2256.31H350.1V2255.54H352V2259.2H353.9V2256.52H355.8V2256.06H357.7V2255.52H359.6V2253.58H361.5V2258.49H363.4V2254.59H365.3V2258.02H367.2V2258.33H369.1V2258H371V2257.08H372.9V2248.98H374.8V2237.79H376.7V2246.49H378.6V2255.84H380.5V2257.93H382.4V2255.59H384.3V2253.23H386.2V2253.46H388.1V2256.03H390V2253.36H391.9V2256.38H393.8V2258.01H395.7V2249.06H397.6V2259.27H399.5V2254.77H401.4V2255.76H403.3V2252.9H405.2V2259.13H407.1V2254.05H409V2253.35H410.9V2251.7H412.8V2253.23H414.7V2255.69H416.6V2259.3H418.5V2258.09H420.4V2253.16H422.3V2259.29H424.2V2254.33H426.1V2237.4H428V2253.57H429.9V2252.84H431.8V2253.53H433.7V2253.07H435.6V2253.89H437.5V2257.39H439.4V2259.32H441.3V2254.91H443.2V2254.6H445.1V2255.09H447V2252.2H448.9V2253.4H450.8V2254.5H452.7V2253.46H454.6V2258.69H456.5V2255.44H458.4V2255.31H460.3V2247.83H462.2V2255.7H464.1V2250.83H466V2256.53H467.9V2255.89H469.8V2257.34H471.7V2257.35H473.6V2258.72H475.5V2258.41H477.4V2254.58H479.3V2252.97H481.2V2252.91H483.1V2252.39H485V2252.57H486.9V2252.35H488.8V2256.71H490.7V2253.82H492.6V2255.49H494.5V2256.91H496.4V2253.8H498.3V2252.92H500.2V2258.58H502.1V2256H504V2254.47H505.9V2254.73H507.8V2257.61H509.7V2252.51H511.6V2255.19H513.5V2251.75H515.4V2254.59H517.3V2255.54H519.2V2254.49H521.1V2258.54H523V2255.27H524.9V2256.86H526.8V2255.34H528.7V2255.45H530.6V2256.06H532.5V2250.23H534.4V2254.21H536.3V2250.22H538.2V2258.81H540.1V2255.73H542V2256.49H543.9V2258.55H545.8V2252.79H547.7V2248.72H549.6V2240.27H551.5V2251.81H553.4V2250.27H555.3V2251.05H557.2V2255.51H559.1V2258.13H561V2252.09H562.9V2255.31H564.8V2248.15H566.7V2252.27H568.6V2256.83H570.5V2254.87H572.4V2257.81H574.3V2255.07H576.2V2253.22H578.1V2255.53H580V2252.81H581.9V2254.6H583.8V2253.4H585.7V2254.79H587.6V2253.97H589.5V2258.35H591.4V2254.71H593.3V2256.52H595.2V2251.15H597.1V2253.14H599V2250.83H600.9V2257.83H602.8V2255.93H604.7V2252.29H606.6V2254.51H608.5V2257.52H610.4V2256.94H612.3V2256.23H614.2V2253.67H616.1V2255.02H618V2253.1H619.9V2257.45H621.8V2253.66H623.7V2253.94H625.6V2253.14H627.5V2252.25H629.4V2256.5H631.3V2253.49H633.2V2258.81H635.1V2258.73H637V2249.06H638.9V2255.81H640.8V2248.78H642.7V2253.48H644.6V2253.43H646.5V2257.23H648.4V2254.25H650.3V2257.32H652.2V2252.44H654.1V2259.31H656V2258.18H657.9V2259.32H659.8V2258.34H661.7V2257.19H663.6V2256.97H665.5V2252.83H667.4V2252.6H669.3V2255.69H671.2V2252.19H673.1V2258.1H675V2253.46H676.9V2256.99H678.8V2252.77H680.7V2254.74H682.6V2250.3H684.5V2259.29H686.4V2252.33H688.3V2251.23H690.2V2250.2H692.1V2253.72H694V2258.26H695.9V2255.45H697.8V2258.38H699.7V2255.68H701.6V2257.98H703.5V2254.21H705.4V2254.38H707.3V2256.07H709.2V2244.93H711.1V2252.23H713V2252.85H714.9V2249.49H716.8V2252.94H718.7V2249.45H720.6V2251.24H722.5V2254.66H724.4V2254.09H726.3V2251.29H728.2V2258.37H730.1V2258.22H732V2246.18H733.9V2257.98H735.8V2254.14H737.7V2256.44H739.6V2254.69H741.5V2252.24H743.4V2256.46H745.3V2252.88H747.2V2255.27H749.1V2259.01H751V2254.13H752.9V2256.28H754.8V2258.5H756.7V2250.25H758.6V2255.45H760.5V2250.2H762.4V2253.28H764.3V2253.6H766.2V2254.8H768.1V2248.28H770V2256.06H771.9V2249.65H773.8V2256.54H775.7V2253.11H777.6V2255.81H779.5V2255.94H781.4V2253.71H783.3V2253.47H785.2V2258.16H787.1V2258.01H789V2250.07H790.9V2257.15H792.8V2247.97H794.7V2251.17H796.6V2250.96H798.5V2253.52H800.4V2254.63H802.3V2257.75H804.2V2254.6H806.1V2257.51H808V2256.17H809.9V2255.41H811.8V2249.62H813.7V2257.63H815.6V2258.06H817.5V2259.16H819.4V2257.39H821.3V2258.1H823.2V2256.81H825.1V2255.68H827V2254.47H828.9V2243.11H830.8V2240.89H832.7V2245.34H834.6V2236.99H836.5V2242.45H838.4V2255.1H840.3V2251.44H842.2V2254.51H844.1V2256.61H846V2252.87H847.9V2253.45H849.8V2253H851.7V2255.62H853.6V2257.82H855.5V2251.3H857.4V2249.71H859.3V2255.4H861.2V2255.88H863.1V2258.36H865V2259.12H866.9V2258.6H868.8V2253.75H870.7V2253.86H872.6V2256.46H874.5V2256.19H876.4V2256.97H878.3V2259.11H880.2V2258.98H882.1V2253.18H884V2256.07H885.9V2256.48H887.8V2252.94H889.7V2256.44H891.6V2257.18H893.5V2255.31H895.4V2251.85H897.3V2253.36H899.2V2256.57H901.1V2257.2H903V2252.66H904.9V2253.73H906.8V2256.08H908.7V2253.05H910.6V2251.65H912.5V2252.86H914.4V2257.15H916.3V2258.04H918.2V2255.34H920.1V2257.93H922V2256.48H923.9V2257.39H925.8V2255.31H927.7V2255.33H929.6V2257.25H931.5V2257.84H933.4V2254.12H935.3V2251.27H937.2V2256.66H939.1V2256.07H941V2256.37H942.9V2255.14H944.8V2256.4H946.7V2255.21H948.6V2251.4H950.5V2256.68H952.4V2256.09H954.3V2256.77H956.2V2256.9H958.1V2257.33H960V2256.02H961.9V2256.79H963.8V2253.85H965.7V2255.66H967.6V2254.1H969.5V2249.69H971.4V2257.18H973.3V2254.64H975.2V2252.98H977V2266.8Z" fill="#54b2e6"/>
<path d="M143 2306.4V2299.57H144.5V2298.28H146V2299.33H147.5V2301.03H149V2301.11H150.5V2300.43H152V2299.96H153.5V2300.72H155V2300H156.5V2300.78H158V2300.32H159.5V2300.72H161V2300.8H162.5V2301.26H164V2301.47H165.5V2299.11H167V2300.54H168.5V2298.05H170V2300.16H171.5V2299.82H173V2299.69H174.5V2300.76H176V2301.69H177.5V2301.36H179V2301.34H180.5V2300.42H182V2299.84H183.5V2299.58H185V2300.6H186.5V2299.93H188V2300.88H189.5V2300.81H191V2299.63H192.5V2300.91H194V2298.86H195.5V2301.31H197V2300.65H198.5V2301.08H200V2301.47H201.5V2301H203V2301.16H204.5V2298.49H206V2298.85H207.5V2299.39H209V2299.69H210.5V2301.39H212V2301.44H213.5V2300.1H215V2299.41H216.5V2299.95H218V2299.75H219.5V2299.89H221V2301.26H222.5V2299.38H224V2296.74H225.5V2296.34H227V2299.83H228.5V2299.13H230V2300.34H231.5V2301.24H233V2299.27H234.5V2299.87H236V2299.67H237.5V2299.64H239V2299.56H240.5V2297.34H242V2300.53H243.5V2299.51H245V2299.43H246.5V2299.5H248V2299.49H249.5V2301.39H251V2300.78H252.5V2299.13H254V2299.29H255.5V2299.66H257V2300.95H258.5V2301.12H260V2299.69H261.5V2297.7H263V2300.9H264.5V2300.43H266V2300.73H267.5V2300.13H269V2300.75H270.5V2299.26H272V2300.25H273.5V2299.46H275V2300.01H276.5V2300.81H278V2299.54H279.5V2300.1H281V2300.03H282.5V2298.53H284V2300.72H285.5V2299.52H287V2300.57H288.5V2300.88H290V2300.03H291.5V2298.15H293V2299.52H294.5V2300.02H296V2299.59H297.5V2299.58H299V2298.1H300.5V2300.06H302V2300.69H303.5V2300.74H305V2301.43H306.5V2299.82H308V2299.84H309.5V2296.98H311V2297.21H312.5V2297.1H314V2297.4H315.5V2299.52H317V2299.62H318.5V2300.69H320V2300.34H321.5V2300.97H323V2300.08H324.5V2300.19H326V2299.11H327.5V2299.48H329V2299.19H330.5V2299.19H332V2300.48H333.5V2298.94H335V2300.53H336.5V2299.25H338V2299.31H339.5V2299.57H341V2300.13H342.5V2300.41H344V2296.88H345.5V2298.83H347V2299.85H348.5V2300.55H350V2301.87H351.5V2301.88H353V2301.38H354.5V2301.06H356V2301.02H357.5V2299.67H359V2300.41H360.5V2299.95H362V2296.04H363.5V2296.05H365V2300.34H366.5V2296.81H368V2298.06H369.5V2299.28H371V2300.58H372.5V2300H374V2294.82H375.5V2275.69H377V2274.87H378.5V2294.81H380V2298.5H381.5V2299.23H383V2301.31H384.5V2298.61H386V2300.21H387.5V2300.11H389V2299.97H390.5V2300.79H392V2300.52H393.5V2301.44H395V2300.44H396.5V2299.54H398V2300.05H399.5V2300H401V2299.93H402.5V2300.82H404V2299.89H405.5V2300.33H407V2300.48H408.5V2297.73H410V2301.8H411.5V2301.08H413V2297.58H414.5V2300.43H416V2301.34H417.5V2301.56H419V2299.38H420.5V2300.88H422V2301.09H423.5V2301.12H425V2300.76H426.5V2299.7H428V2301.1H429.5V2299.45H431V2299.51H432.5V2299.85H434V2299.59H435.5V2300.67H437V2300.18H438.5V2300.86H440V2300.67H441.5V2300.96H443V2300.11H444.5V2298.35H446V2299.13H447.5V2300.43H449V2301.82H450.5V2299.98H452V2298.87H453.5V2299.65H455V2300.5H456.5V2297.98H458V2298.58H459.5V2301.06H461V2299.27H462.5V2299.31H464V2301.84H465.5V2299.98H467V2296.63H468.5V2298.18H470V2298.31H471.5V2300.44H473V2298.25H474.5V2298.71H476V2299.83H477.5V2299.74H479V2300.43H480.5V2300.63H482V2301.02H483.5V2300.79H485V2301.01H486.5V2300.44H488V2300.91H489.5V2300.98H491V2300.33H492.5V2300.05H494V2300.39H495.5V2300.9H497V2297.4H498.5V2299.18H500V2301.1H501.5V2300.83H503V2300.67H504.5V2300H506V2299.44H507.5V2300.19H509V2300.05H510.5V2301.52H512V2300.69H513.5V2298.89H515V2300.3H516.5V2301.03H518V2301.56H519.5V2298.6H521V2298.87H522.5V2301.03H524V2300.76H525.5V2300.31H527V2299.18H528.5V2299.35H530V2299.31H531.5V2299.53H533V2301.44H534.5V2299.49H536V2300H537.5V2299.67H539V2300.42H540.5V2300.5H542V2300.9H543.5V2300.82H545V2300.89H546.5V2299.28H548V2298.18H549.5V2288.21H551V2294.22H552.5V2300.21H554V2299.98H555.5V2300.51H557V2299.38H558.5V2299.84H560V2300.74H561.5V2300.42H563V2298.82H564.5V2299.2H566V2299.29H567.5V2299.82H569V2300.55H570.5V2300.52H572V2301.3H573.5V2299.16H575V2299.67H576.5V2299.66H578V2301.05H579.5V2301.44H581V2299.68H582.5V2299.49H584V2296.08H585.5V2301.03H587V2299.78H588.5V2300.66H590V2299.47H591.5V2299.45H593V2299.78H594.5V2299.26H596V2301.26H597.5V2300.61H599V2301.14H600.5V2300.56H602V2299.93H603.5V2299.23H605V2299.48H606.5V2299.96H608V2299.72H609.5V2299.77H611V2296.51H612.5V2298.76H614V2299.38H615.5V2300.07H617V2296.8H618.5V2299.77H620V2299.52H621.5V2300.38H623V2300.88H624.5V2301.18H626V2300.53H627.5V2299.75H629V2300.19H630.5V2300.57H632V2299.79H633.5V2298.28H635V2299.82H636.5V2299.9H638V2299.23H639.5V2299.39H641V2301.6H642.5V2301.07H644V2299.08H645.5V2299.28H647V2300.03H648.5V2299.86H650V2300.37H651.5V2300.69H653V2300.87H654.5V2300.72H656V2300.85H657.5V2299.7H659V2299.83H660.5V2299.24H662V2299.96H663.5V2299.74H665V2300.34H666.5V2300.54H668V2300.36H669.5V2299.12H671V2301.73H672.5V2299.56H674V2299.91H675.5V2300.28H677V2300.33H678.5V2300.92H680V2300.39H681.5V2300.35H683V2301.43H684.5V2300.04H686V2296.66H687.5V2300.61H689V2300.46H690.5V2297.73H692V2298.85H693.5V2301.13H695V2301.83H696.5V2301.48H698V2300.38H699.5V2298.15H701V2301.16H702.5V2301.82H704V2301.31H705.5V2301.13H707V2300.85H708.5V2299.63H710V2299.38H711.5V2300.16H713V2300.55H714.5V2299.58H716V2301.42H717.5V2301.29H719V2301.28H720.5V2299.01H722V2299.54H723.5V2299.44H725V2299.83H726.5V2299.15H728V2301.14H729.5V2301.07H731V2300.7H732.5V2300.95H734V2301.85H735.5V2299.72H737V2300.47H738.5V2299.79H740V2299.88H741.5V2300.34H743V2300.42H744.5V2299.91H746V2297.63H747.5V2301.1H749V2299.56H750.5V2299.69H752V2300.35H753.5V2299.84H755V2301.21H756.5V2300.46H758V2300.46H759.5V2298.98H761V2297.33H762.5V2300.68H764V2298.6H765.5V2299.93H767V2300.29H768.5V2300.29H770V2300.78H771.5V2301.24H773V2300.23H774.5V2300.12H776V2299.99H777.5V2300.9H779V2300.29H780.5V2299.75H782V2299.58H783.5V2299.88H785V2300.32H786.5V2300.76H788V2300.64H789.5V2301.12H791V2301.42H792.5V2301.09H794V2299.16H795.5V2299.99H797V2300.86H798.5V2299.14H800V2300H801.5V2300.12H803V2300.5H804.5V2300.41H806V2298.33H807.5V2301.37H809V2300.17H810.5V2298.27H812V2300.17H813.5V2299.5H815V2299.86H816.5V2300.72H818V2301.59H819.5V2301.43H821V2300.85H822.5V2300.66H824V2301.23H825.5V2297.27H827V2300.8H828.5V2301.53H830V2300.86H831.5V2301.32H833V2293.79H834.5V2278.88H836V2269.64H837.5V2277.74H839V2292.77H840.5V2299.39H842V2299.1H843.5V2299.16H845V2298.05H846.5V2299.09H848V2299.65H849.5V2299.57H851V2300.22H852.5V2299.52H854V2299.63H855.5V2300.98H857V2298.95H858.5V2300.55H860V2299.92H861.5V2300.79H863V2300.7H864.5V2300.2H866V2300.19H867.5V2300.74H869V2300.3H870.5V2300.37H872V2299.59H873.5V2299.55H875V2298.9H876.5V2298.83H878V2299.52H879.5V2301.56H881V2299.42H882.5V2299.48H884V2301.1H885.5V2299.58H887V2300.22H888.5V2298.84H890V2298.98H891.5V2300.62H893V2300.71H894.5V2300.75H896V2298.76H897.5V2299.38H899V2300.71H900.5V2300.69H902V2300.05H903.5V2299.73H905V2301.52H906.5V2301.62H908V2301.14H909.5V2300.21H911V2298.41H912.5V2300.58H914V2299.51H915.5V2300.28H917V2296.31H918.5V2300.17H920V2299.77H921.5V2297.76H923V2299.48H924.5V2301.01H926V2300.39H927.5V2300.17H929V2299.89H930.5V2300.2H932V2300.87H933.5V2297.04H935V2300.18H936.5V2299.81H938V2299.95H939.5V2300.41H941V2300.91H942.5V2300.46H944V2300.28H945.5V2301.62H947V2301.34H948.5V2301.5H950V2301.66H951.5V2301.47H953V2301.02H954.5V2300.71H956V2301.82H957.5V2301.4H959V2301.68H960.5V2301.86H962V2300.24H963.5V2299.18H965V2299.32H966.5V2298.1H968V2299.87H969.5V2299.12H971V2299.22H972.5V2300.58H974V2301.02H975.5V2300.46H977V2306.4Z" fill="#000"/>
<path d="M203.8 2315H836M247.2 2312.4l-4.5 2.6l4.5 2.6M279.2 2312.4l-4.5 2.6l4.5 2.6M311.2 2312.4l-4.5 2.6l4.5 2.6M343.2 2312.4l-4.5 2.6l4.5 2.6M375.2 2312.4l-4.5 2.6l4.5 2.6M407.2 2312.4l-4.5 2.6l4.5 2.6M439.2 2312.4l-4.5 2.6l4.5 2.6M471.2 2312.4l-4.5 2.6l4.5 2.6M503.2 2312.4l-4.5 2.6l4.5 2.6M535.2 2312.4l-4.5 2.6l4.5 2.6M567.2 2312.4l-4.5 2.6l4.5 2.6M599.2 2312.4l-4.5 2.6l4.5 2.6M631.2 2312.4l-4.5 2.6l4.5 2.6M663.2 2312.4l-4.5 2.6l4.5 2.6M695.2 2312.4l-4.5 2.6l4.5 2.6M727.2 2312.4l-4.5 2.6l4.5 2.6M759.2 2312.4l-4.5 2.6l4.5 2.6M791.2 2312.4l-4.5 2.6l4.5 2.6M823.2 2312.4l-4.5 2.6l4.5 2.6" stroke="#999999" stroke-width="1.1" fill="none"/>
<path d="M220 2312.7h2.5v4.6h-2.5zM223.8 2312.7h2.5v4.6h-2.5zM258.8 2312.7h2.5v4.6h-2.5zM262.5 2312.7h2.5v4.6h-2.5zM267.5 2312.7h5v4.6h-5zM285 2312.7h2.5v4.6h-2.5zM295 2312.7h2.5v4.6h-2.5zM302 2312.7h2.5v4.6h-2.5zM424 2312.7h3.5v4.6h-3.5zM515 2312.7h2.5v4.6h-2.5zM614.5 2312.7h2.5v4.6h-2.5zM620 2312.7h2.5v4.6h-2.5zM829.5 2312.7h6.5v4.6h-6.5zM203.8 2312.2h13v5.6h-13z" fill="#999999"/>
<path d="M203.8 2330H429M247.2 2327.4l-4.5 2.6l4.5 2.6M277.7 2327.4l-4.5 2.6l4.5 2.6M311.2 2327.4l-4.5 2.6l4.5 2.6M342.2 2327.4l-4.5 2.6l4.5 2.6M374.7 2327.4l-4.5 2.6l4.5 2.6M406.2 2327.4l-4.5 2.6l4.5 2.6" stroke="#999999" stroke-width="1.1" fill="none"/>
<path d="M220 2327.7h2.5v4.6h-2.5zM223.8 2327.7h2.5v4.6h-2.5zM258.8 2327.7h2.5v4.6h-2.5zM262.5 2327.7h2.5v4.6h-2.5zM267.5 2327.7h5v4.6h-5zM285 2327.7h2.5v4.6h-2.5zM295 2327.7h2.5v4.6h-2.5zM302 2327.7h2.5v4.6h-2.5zM424 2327.7h5v4.6h-5zM203.8 2327.2h13v5.6h-13z" fill="#999999"/>
<path d="M203.8 2345H376M247.2 2342.4l-4.5 2.6l4.5 2.6M277.7 2342.4l-4.5 2.6l4.5 2.6M311.2 2342.4l-4.5 2.6l4.5 2.6M342.2 2342.4l-4.5 2.6l4.5 2.6" stroke="#999999" stroke-width="1.1" fill="none"/>
<path d="M220 2342.7h2.5v4.6h-2.5zM223.8 2342.7h2.5v4.6h-2.5zM258.8 2342.7h2.5v4.6h-2.5zM262.5 2342.7h2.5v4.6h-2.5zM267.5 2342.7h5v4.6h-5zM285 2342.7h2.5v4.6h-2.5zM295 2342.7h2.5v4.6h-2.5zM302 2342.7h2.5v4.6h-2.5zM374 2342.7h2v4.6h-2zM203.8 2342.2h13v5.6h-13z" fill="#999999"/>
<path d="M212.5 2360H702.5M255.2 2357.4l-4.5 2.6l4.5 2.6M287.2 2357.4l-4.5 2.6l4.5 2.6M319.2 2357.4l-4.5 2.6l4.5 2.6M351.2 2357.4l-4.5 2.6l4.5 2.6M383.2 2357.4l-4.5 2.6l4.5 2.6M415.2 2357.4l-4.5 2.6l4.5 2.6M447.2 2357.4l-4.5 2.6l4.5 2.6M479.2 2357.4l-4.5 2.6l4.5 2.6M511.2 2357.4l-4.5 2.6l4.5 2.6M543.2 2357.4l-4.5 2.6l4.5 2.6M575.2 2357.4l-4.5 2.6l4.5 2.6M607.2 2357.4l-4.5 2.6l4.5 2.6M639.2 2357.4l-4.5 2.6l4.5 2.6M671.2 2357.4l-4.5 2.6l4.5 2.6" stroke="#999999" stroke-width="1.1" fill="none"/>
<path d="M220 2357.7h2.5v4.6h-2.5zM223.8 2357.7h2.5v4.6h-2.5zM258.8 2357.7h2.5v4.6h-2.5zM262.5 2357.7h2.5v4.6h-2.5zM267.5 2357.7h5v4.6h-5zM285 2357.7h2.5v4.6h-2.5zM295 2357.7h2.5v4.6h-2.5zM302 2357.7h2.5v4.6h-2.5zM424 2357.7h3.5v4.6h-3.5zM515 2357.7h2.5v4.6h-2.5zM614.5 2357.7h2.5v4.6h-2.5zM620 2357.7h2.5v4.6h-2.5zM212.5 2357.7h4v4.6h-4zM700.2 2357.7h2.6v4.6h-2.6z" fill="#999999"/>
<path d="M212.5 2375H518.5M255.2 2372.4l-4.5 2.6l4.5 2.6M287.2 2372.4l-4.5 2.6l4.5 2.6M319.2 2372.4l-4.5 2.6l4.5 2.6M351.2 2372.4l-4.5 2.6l4.5 2.6M383.2 2372.4l-4.5 2.6l4.5 2.6M415.2 2372.4l-4.5 2.6l4.5 2.6M447.2 2372.4l-4.5 2.6l4.5 2.6M479.2 2372.4l-4.5 2.6l4.5 2.6" stroke="#999999" stroke-width="1.1" fill="none"/>
<path d="M220 2372.7h2.5v4.6h-2.5zM223.8 2372.7h2.5v4.6h-2.5zM258.8 2372.7h2.5v4.6h-2.5zM262.5 2372.7h2.5v4.6h-2.5zM267.5 2372.7h5v4.6h-5zM285 2372.7h2.5v4.6h-2.5zM295 2372.7h2.5v4.6h-2.5zM302 2372.7h2.5v4.6h-2.5zM212.5 2372.7h4v4.6h-4zM424 2372.7h3.5v4.6h-3.5zM515 2372.7h3.5v4.6h-3.5z" fill="#999999"/>
<path d="M212.5 2390H550M255.2 2387.4l-4.5 2.6l4.5 2.6M287.2 2387.4l-4.5 2.6l4.5 2.6M319.2 2387.4l-4.5 2.6l4.5 2.6M351.2 2387.4l-4.5 2.6l4.5 2.6M383.2 2387.4l-4.5 2.6l4.5 2.6M415.2 2387.4l-4.5 2.6l4.5 2.6M447.2 2387.4l-4.5 2.6l4.5 2.6M479.2 2387.4l-4.5 2.6l4.5 2.6M511.2 2387.4l-4.5 2.6l4.5 2.6M543.2 2387.4l-4.5 2.6l4.5 2.6" stroke="#999999" stroke-width="1.1" fill="none"/>
<path d="M220 2387.7h2.5v4.6h-2.5zM223.8 2387.7h2.5v4.6h-2.5zM258.8 2387.7h2.5v4.6h-2.5zM262.5 2387.7h2.5v4.6h-2.5zM267.5 2387.7h5v4.6h-5zM285 2387.7h2.5v4.6h-2.5zM295 2387.7h2.5v4.6h-2.5zM302 2387.7h2.5v4.6h-2.5zM212.5 2387.7h4v4.6h-4zM424 2387.7h3.5v4.6h-3.5zM515.5 2387.7h2v4.6h-2zM548.5 2387.7h2v4.6h-2z" fill="#999999"/>
<path d="M212.5 2405H343M255.2 2402.4l-4.5 2.6l4.5 2.6M319.2 2402.4l-4.5 2.6l4.5 2.6" stroke="#999999" stroke-width="1.1" fill="none"/>
<path d="M220 2402.7h2.5v4.6h-2.5zM223.8 2402.7h2.5v4.6h-2.5zM258.8 2402.7h2.5v4.6h-2.5zM262.5 2402.7h2.5v4.6h-2.5zM267.5 2402.7h5v4.6h-5zM285 2402.7h2.5v4.6h-2.5zM295 2402.7h2.5v4.6h-2.5zM302 2402.7h2.5v4.6h-2.5zM212.5 2402.7h4v4.6h-4zM341 2402.7h2.5v4.6h-2.5z" fill="#999999"/>
<path d="M212.5 2420H918.8M255.2 2417.4l-4.5 2.6l4.5 2.6M287.2 2417.4l-4.5 2.6l4.5 2.6M319.2 2417.4l-4.5 2.6l4.5 2.6M351.2 2417.4l-4.5 2.6l4.5 2.6M383.2 2417.4l-4.5 2.6l4.5 2.6M415.2 2417.4l-4.5 2.6l4.5 2.6M447.2 2417.4l-4.5 2.6l4.5 2.6M479.2 2417.4l-4.5 2.6l4.5 2.6M511.2 2417.4l-4.5 2.6l4.5 2.6M543.2 2417.4l-4.5 2.6l4.5 2.6M575.2 2417.4l-4.5 2.6l4.5 2.6M607.2 2417.4l-4.5 2.6l4.5 2.6M639.2 2417.4l-4.5 2.6l4.5 2.6M671.2 2417.4l-4.5 2.6l4.5 2.6M703.2 2417.4l-4.5 2.6l4.5 2.6M735.2 2417.4l-4.5 2.6l4.5 2.6M767.2 2417.4l-4.5 2.6l4.5 2.6M799.2 2417.4l-4.5 2.6l4.5 2.6M831.2 2417.4l-4.5 2.6l4.5 2.6M863.2 2417.4l-4.5 2.6l4.5 2.6M895.2 2417.4l-4.5 2.6l4.5 2.6" stroke="#999999" stroke-width="1.1" fill="none"/>
<path d="M220 2417.7h2.5v4.6h-2.5zM223.8 2417.7h2.5v4.6h-2.5zM258.8 2417.7h2.5v4.6h-2.5zM262.5 2417.7h2.5v4.6h-2.5zM267.5 2417.7h5v4.6h-5zM285 2417.7h2.5v4.6h-2.5zM295 2417.7h2.5v4.6h-2.5zM302 2417.7h2.5v4.6h-2.5zM424 2417.7h3.5v4.6h-3.5zM515 2417.7h2.5v4.6h-2.5zM614.5 2417.7h2.5v4.6h-2.5zM620 2417.7h2.5v4.6h-2.5zM212.5 2417.7h4v4.6h-4zM829.5 2417.7h5.5v4.6h-5.5zM909.5 2417.7h2v4.6h-2zM916.3 2417.7h2.5v4.6h-2.5z" fill="#999999"/>
<text class="m" style="font-style:italic;fill:#999999;stroke:#999999" x="928.7" y="2374.5">TCF4</text>
<path d="M935.8 2315V2350M935.8 2380.5V2419" stroke="#999999" stroke-width="1.1" fill="none"/>
<text style="font-size:31.8px;font-weight:bold" x="1007" y="1993.8">j</text>
<path d="M1150 1987.5V2179.5" stroke="#231f20" stroke-width="1.6" fill="none"/>
<path d="M1143.5 2175h6.5M1143.5 2115h6.5M1143.5 2057h6.5M1143.5 2007.5h6.5" stroke="#231f20" stroke-width="1.6" fill="none"/>
<text class="e" x="1141.5" y="2183.56">0</text>
<text class="e" x="1141.5" y="2123.56">50</text>
<text class="e" x="1141.5" y="2065.56">100</text>
<text class="e" x="1141.5" y="2016.06">150</text>
<text class="m" transform="translate(1087 2083) rotate(-90)">-log10(<tspan font-style="italic">P</tspan>-values)</text>
<path d="M1288.75 2176.5h0M1300 2175.5h0M1303 2177h0M1305.5 2172.5h0M1306.25 2175.5h0M1312 2177.5h0M1395 2178h0M1398.75 2178h0M1403 2178h0" stroke="#999999" stroke-width="5.6" stroke-linecap="round" fill="none"/>
<path d="M1301.25 1999h0M1294.5 2075h0" stroke="#4db4e7" stroke-width="6" stroke-linecap="round" fill="none"/>
<rect x="1787.5" y="1983.9" width="182.2" height="70" fill="#fff" stroke="#85878a" stroke-width="1.7" rx="7"/>
<circle cx="1812" cy="2003.2" r="11" fill="#999999"/>
<circle cx="1812" cy="2033.4" r="11" fill="#35aee2"/>
<text x="1834.2" y="2012.7">eFDR &gt; 0.1</text>
<text x="1834.2" y="2041.5">eFDR &lt; 0.1</text>
<text class="e" x="1138" y="2262">H3K27ac</text>
<text class="e" x="1137.5" y="2309.5">ATAC</text>
<text x="1025" y="2372">ENSEMBL</text>
<path d="M1281 2202.5h34.3v8.8h-34.3zM1388.2 2202.5h34.2v8.8h-34.2z" fill="#a7a9ac"/>
<path d="M1154 2265.8V2257.96H1156.2V2256.81H1158.4V2260.1H1160.6V2258.98H1162.8V2258.51H1165V2257.19H1167.2V2257.05H1169.4V2265.8ZM1171.6 2265.8V2256.26H1173.8V2259.42H1176V2259.16H1178.2V2257.76H1180.4V2250.75H1182.6V2258.42H1184.8V2257.12H1187V2258.65H1189.2V2252.79H1191.4V2259.06H1193.6V2259.53H1195.8V2250.29H1198V2253.45H1200.2V2258.03H1202.4V2259.49H1204.6V2250.16H1206.8V2246.57H1209V2250.43H1211.2V2257.33H1213.4V2232.13H1215.6V2245.34H1217.8V2259.03H1220V2253.52H1222.2V2252.26H1224.4V2257.46H1226.6V2259.35H1228.8V2258.95H1231V2253.67H1233.2V2259.73H1235.4V2265.8ZM1239.8 2265.8V2259.14H1242V2256.33H1244.2V2258.29H1246.4V2258.72H1248.6V2258.84H1250.8V2258.39H1253V2259.88H1255.2V2257.08H1257.4V2265.8ZM1261.8 2265.8V2259.19H1264V2257.71H1266.2V2257.79H1268.4V2258.23H1270.6V2258.53H1272.8V2257.33H1275V2257.44H1277.2V2257.17H1279.4V2256.69H1281.6V2258.29H1283.8V2256.83H1286V2257.22H1288.2V2257.39H1290.4V2258.69H1292.6V2258.3H1294.8V2259.62H1297V2259.41H1299.2V2259.73H1301.4V2259.87H1303.6V2259.71H1305.8V2258.52H1308V2258.08H1310.2V2259.14H1312.4V2256.73H1314.6V2265.8ZM1323.4 2265.8V2259.69H1325.6V2256.75H1327.8V2257.85H1330V2259.81H1332.2V2259.69H1334.4V2259.27H1336.6V2259.21H1338.8V2256.74H1341V2258H1343.2V2258.7H1345.4V2258.57H1347.6V2259.16H1349.8V2259.14H1352V2259.65H1354.2V2258.24H1356.4V2265.8ZM1376.2 2265.8V2257.4H1378.4V2257.52H1380.6V2257.22H1382.8V2257.18H1385V2252.78H1387.2V2258.64H1389.4V2257.78H1391.6V2258H1393.8V2259.65H1396V2259.95H1398.2V2258.65H1400.4V2255.43H1402.6V2255.41H1404.8V2257.88H1407V2259.72H1409.2V2259.69H1411.4V2259.65H1413.6V2259.73H1415.8V2259.99H1418V2265.8ZM1442.2 2265.8V2257.4H1444.4V2255.35H1446.6V2259.66H1448.8V2254.49H1451V2257.25H1453.2V2258.09H1455.4V2258.04H1457.6V2259.71H1459.8V2257.3H1462V2258.34H1464.2V2257.94H1466.4V2259.01H1468.6V2257H1470.8V2260.2H1473V2257.81H1475.2V2255.88H1477.4V2254.89H1479.6V2256.14H1481.8V2259.44H1484V2256.58H1486.2V2256.82H1488.4V2255.21H1490.6V2257.79H1492.8V2257.68H1495V2258.9H1497.2V2258.83H1499.4V2258.95H1501.6V2258.26H1503.8V2259.33H1506V2257.87H1508.2V2256.91H1510.4V2260.04H1512.6V2259.19H1514.8V2259.56H1517V2257.02H1519.2V2256.7H1521.4V2257.47H1523.6V2258.51H1525.8V2257.1H1528V2258.25H1530.2V2257.68H1532.4V2258.26H1534.6V2258.84H1536.8V2257.88H1539V2257.55H1541.2V2265.8ZM1550 2265.8V2257.66H1552.2V2258.75H1554.4V2257.49H1556.6V2265.8ZM1563.2 2265.8V2258H1565.4V2257.82H1567.6V2257.79H1569.8V2257.62H1572V2265.8ZM1594 2265.8V2257.17H1596.2V2255.17H1598.4V2256.1H1600.6V2259.2H1602.8V2259.06H1605V2258.93H1607.2V2257.18H1609.4V2258.76H1611.6V2257.55H1613.8V2257.58H1616V2265.8ZM1620.4 2265.8V2255.55H1622.6V2257.54H1624.8V2258.82H1627V2265.8ZM1631.4 2265.8V2257.71H1633.6V2257.32H1635.8V2257.54H1638V2257.17H1640.2V2257.32H1642.4V2256.85H1644.6V2259.94H1646.8V2256.76H1649V2257.18H1651.2V2259.45H1653.4V2259.34H1655.6V2257.63H1657.8V2254.8H1660V2254.99H1662.2V2257.72H1664.4V2258.29H1666.6V2259.1H1668.8V2256.97H1671V2257.21H1673.2V2258.16H1675.4V2257.87H1677.6V2258.08H1679.8V2265.8ZM1699.6 2265.8V2259.87H1701.8V2259.82H1704V2257.26H1706.2V2256.87H1708.4V2255.87H1710.6V2257.66H1712.8V2257.71H1715V2258.23H1717.2V2259H1719.4V2257.74H1721.6V2252.64H1723.8V2254.3H1726V2255.92H1728.2V2259.15H1730.4V2258.26H1732.6V2258.99H1734.8V2259.5H1737V2257.43H1739.2V2254.52H1741.4V2253.32H1743.6V2257.4H1745.8V2258.11H1748V2258.7H1750.2V2256.07H1752.4V2257.34H1754.6V2259.2H1756.8V2255.5H1759V2258.64H1761.2V2258.26H1763.4V2259.19H1765.6V2257.05H1767.8V2258.84H1770V2256.99H1772.2V2258.68H1774.4V2259.05H1776.6V2258.51H1778.8V2265.8ZM1785.4 2265.8V2257.22H1787.6V2259.71H1789.8V2257.19H1792V2258.22H1794.2V2257.41H1796.4V2257.05H1798.6V2258.43H1800.8V2258.87H1803V2265.8ZM1809.6 2265.8V2259.94H1811.8V2258.39H1814V2259.19H1816.2V2259H1818.4V2259.13H1820.6V2256.87H1822.8V2257.63H1825V2256.91H1827.2V2253.77H1829.4V2255.52H1831.6V2255.56H1833.8V2259.02H1836V2258.79H1838.2V2258.04H1840.4V2257.38H1842.6V2257.38H1844.8V2257.3H1847V2249.08H1849.2V2257.04H1851.4V2258.3H1853.6V2257.92H1855.8V2258.98H1858V2256.24H1860.2V2257.6H1862.4V2258.5H1864.6V2259.24H1866.8V2259.96H1869V2265.8ZM1873.4 2265.8V2257.83H1875.6V2260.19H1877.8V2258.57H1880V2259.42H1882.2V2258.07H1884.4V2258.67H1886.6V2259.12H1888.8V2257.73H1891V2257.32H1893.2V2258.42H1895.4V2258.31H1897.6V2257.84H1899.8V2258.83H1902V2257H1904.2V2257.45H1906.4V2265.8ZM1932.8 2265.8V2253.78H1935V2256.41H1937.2V2259.22H1939.4V2258.66H1941.6V2256.89H1943.8V2256.89H1946V2257.59H1948.2V2257.21H1950.4V2256.9H1952.6V2258.04H1954.8V2258.51H1957V2265.8ZM1961.4 2265.8V2256.53H1963.6V2257.11H1965.8V2265.8ZM1970.2 2265.8V2257.45H1972.4V2257.9H1974.6V2257.39H1976.8V2257.22H1979V2257.96H1981.2V2257.84H1983.4V2259.02H1984.3V2265.8Z" fill="#54b2e6"/>
<path d="M1154 2304.6V2302.11H1155.6V2301.77H1157.2V2300.73H1158.8V2301.33H1160.4V2301.11H1162V2299.99H1163.6V2300.56H1165.2V2300.8H1166.8V2300.81H1168.4V2301.12H1170V2302.07H1171.6V2300.64H1173.2V2301.06H1174.8V2300.11H1176.4V2300.2H1178V2300.11H1179.6V2301.08H1181.2V2299.69H1182.8V2293.92H1184.4V2285.74H1186V2284.8H1187.6V2283.57H1189.2V2289.78H1190.8V2280.49H1192.4V2279.74H1194V2279.17H1195.6V2280.77H1197.2V2287.58H1198.8V2280.09H1200.4V2274.82H1202V2269.33H1203.6V2271.84H1205.2V2278.64H1206.8V2280.85H1208.4V2281.41H1210V2279.04H1211.6V2274.85H1213.2V2275.57H1214.8V2280.72H1216.4V2287.83H1218V2286.41H1219.6V2278.9H1221.2V2279.82H1222.8V2278.97H1224.4V2285.09H1226V2294.35H1227.6V2299.57H1229.2V2301.82H1230.8V2301.4H1232.4V2302.13H1234V2301.53H1235.6V2301.84H1237.2V2299H1238.8V2297.1H1240.4V2297.43H1242V2300.67H1243.6V2300.5H1245.2V2299.87H1246.8V2300.84H1248.4V2300.79H1250V2301.04H1251.6V2301.41H1253.2V2298.79H1254.8V2299.13H1256.4V2300.84H1258V2301.57H1259.6V2301.2H1261.2V2300.52H1262.8V2301.35H1264.4V2301.87H1266V2301.81H1267.6V2300.73H1269.2V2300.9H1270.8V2300.81H1272.4V2301.44H1274V2300.15H1275.6V2301.44H1277.2V2301.72H1278.8V2301.43H1280.4V2301.45H1282V2301.99H1283.6V2301.89H1285.2V2302.03H1286.8V2302.09H1288.4V2301.82H1290V2301.64H1291.6V2301.9H1293.2V2301.34H1294.8V2301.38H1296.4V2301.26H1298V2301.34H1299.6V2299.26H1301.2V2300.46H1302.8V2301.21H1304.4V2300.72H1306V2301.07H1307.6V2298.61H1309.2V2297.14H1310.8V2298.82H1312.4V2301.49H1314V2301.68H1315.6V2302.06H1317.2V2301.34H1318.8V2301.97H1320.4V2301.08H1322V2299.08H1323.6V2299.88H1325.2V2300.97H1326.8V2301.18H1328.4V2300.91H1330V2301.03H1331.6V2300.85H1333.2V2302.13H1334.8V2298.98H1336.4V2295.47H1338V2296.48H1339.6V2299.18H1341.2V2301.77H1342.8V2301.37H1344.4V2297.87H1346V2292.6H1347.6V2296.17H1349.2V2301.94H1350.8V2301.68H1352.4V2299.79H1354V2302.2H1355.6V2301.05H1357.2V2301.62H1358.8V2301.18H1360.4V2298.23H1362V2292H1363.6V2296.16H1365.2V2301.44H1366.8V2301.62H1368.4V2301.82H1370V2301.36H1371.6V2301.36H1373.2V2301.76H1374.8V2301.97H1376.4V2301.9H1378V2301.88H1379.6V2299.32H1381.2V2300.53H1382.8V2300.78H1384.4V2302.12H1386V2301.68H1387.6V2301.89H1389.2V2301.49H1390.8V2299.73H1392.4V2298.83H1394V2300.03H1395.6V2301.62H1397.2V2301.19H1398.8V2301.75H1400.4V2300.62H1402V2301.93H1403.6V2301.76H1405.2V2300.68H1406.8V2299.32H1408.4V2301.89H1410V2301.22H1411.6V2301.37H1413.2V2299.12H1414.8V2300.38H1416.4V2300.67H1418V2300.73H1419.6V2301.47H1421.2V2301.55H1422.8V2301.39H1424.4V2301.11H1426V2301.5H1427.6V2301.21H1429.2V2301.13H1430.8V2300.37H1432.4V2300.84H1434V2301.53H1435.6V2299.98H1437.2V2300.21H1438.8V2301.17H1440.4V2301.2H1442V2300.87H1443.6V2300.94H1445.2V2301.67H1446.8V2301.45H1448.4V2300.65H1450V2301.24H1451.6V2301.04H1453.2V2301.28H1454.8V2301.13H1456.4V2300.67H1458V2301.32H1459.6V2302.02H1461.2V2301.64H1462.8V2301.32H1464.4V2301.66H1466V2301.39H1467.6V2302.2H1469.2V2301.73H1470.8V2301.03H1472.4V2301.72H1474V2299.3H1475.6V2294.68H1477.2V2287.72H1478.8V2289.01H1480.4V2291.72H1482V2293.6H1483.6V2287.2H1485.2V2284.8H1486.8V2285.89H1488.4V2292.74H1490V2295.85H1491.6V2290.88H1493.2V2290.68H1494.8V2291.28H1496.4V2296.59H1498V2301.05H1499.6V2300.75H1501.2V2301.77H1502.8V2301.25H1504.4V2299.82H1506V2296.44H1507.6V2296.33H1509.2V2297.94H1510.8V2300.92H1512.4V2300.94H1514V2301.12H1515.6V2302.02H1517.2V2302.19H1518.8V2304.6ZM1526.8 2304.6V2301.4H1528.4V2301.42H1530V2301.34H1531.6V2301.33H1533.2V2301.65H1534.8V2301.65H1536.4V2300.63H1538V2300.63H1539.6V2301.07H1541.2V2301.66H1542.8V2301.51H1544.4V2304.6ZM1555.6 2304.6V2301.03H1557.2V2301.4H1558.8V2299.39H1560.4V2300.68H1562V2301.24H1563.6V2301.46H1565.2V2301.39H1566.8V2301.14H1568.4V2300.6H1570V2300.52H1571.6V2300.91H1573.2V2301.36H1574.8V2301.18H1576.4V2301.21H1578V2301.16H1579.6V2304.6ZM1594 2304.6V2300.03H1595.6V2300.67H1597.2V2301H1598.8V2301.49H1600.4V2301.67H1602V2301.49H1603.6V2301.55H1605.2V2301.6H1606.8V2301.37H1608.4V2300.72H1610V2301.25H1611.6V2301.82H1613.2V2302.14H1614.8V2301.61H1616.4V2300.63H1618V2301.57H1619.6V2301.17H1621.2V2301.33H1622.8V2302.06H1624.4V2298.79H1626V2299.87H1627.6V2300.53H1629.2V2302.08H1630.8V2301.57H1632.4V2301.8H1634V2301.46H1635.6V2301.2H1637.2V2301.31H1638.8V2301.68H1640.4V2300.92H1642V2300.89H1643.6V2299.69H1645.2V2301.45H1646.8V2301.32H1648.4V2301.12H1650V2301.02H1651.6V2300.77H1653.2V2300.62H1654.8V2301.33H1656.4V2300.99H1658V2301.05H1659.6V2301.13H1661.2V2301.35H1662.8V2301.64H1664.4V2301.22H1666V2301.82H1667.6V2301.81H1669.2V2301.9H1670.8V2302.01H1672.4V2301.72H1674V2301.13H1675.6V2304.6ZM1680.4 2304.6V2301.33H1682V2301.54H1683.6V2301.17H1685.2V2302.17H1686.8V2301.48H1688.4V2301.55H1690V2301.11H1691.6V2301.88H1693.2V2301.44H1694.8V2301.16H1696.4V2301.08H1698V2301.33H1699.6V2301.41H1701.2V2300.69H1702.8V2301.25H1704.4V2301.93H1706V2301.39H1707.6V2301.03H1709.2V2300.83H1710.8V2300.61H1712.4V2300.8H1714V2301.68H1715.6V2302.15H1717.2V2301.67H1718.8V2301.43H1720.4V2304.6ZM1725.2 2304.6V2300.54H1726.8V2297.3H1728.4V2298.33H1730V2301.77H1731.6V2301.15H1733.2V2301.22H1734.8V2301.5H1736.4V2300.15H1738V2299.31H1739.6V2301.24H1741.2V2300.94H1742.8V2300.92H1744.4V2301.09H1746V2301.2H1747.6V2300.75H1749.2V2301.24H1750.8V2301.28H1752.4V2300.6H1754V2301.26H1755.6V2304.6ZM1758.8 2304.6V2301.38H1760.4V2299.8H1762V2300.33H1763.6V2300.51H1765.2V2301.16H1766.8V2301.14H1768.4V2301.51H1770V2301.43H1771.6V2301.1H1773.2V2301.39H1774.8V2299.03H1776.4V2297.54H1778V2298.08H1779.6V2298.95H1781.2V2301.27H1782.8V2301.4H1784.4V2301.29H1786V2300.77H1787.6V2300.98H1789.2V2300.94H1790.8V2301.96H1792.4V2301.93H1794V2299.24H1795.6V2294.92H1797.2V2291.51H1798.8V2295.52H1800.4V2299.9H1802V2300.15H1803.6V2301.01H1805.2V2301.09H1806.8V2300.7H1808.4V2295.58H1810V2292.25H1811.6V2294.92H1813.2V2298.77H1814.8V2296.97H1816.4V2296.32H1818V2292.54H1819.6V2288.79H1821.2V2286.1H1822.8V2285.47H1824.4V2288.83H1826V2291.43H1827.6V2296.41H1829.2V2297.89H1830.8V2298.88H1832.4V2300.26H1834V2301.3H1835.6V2299.33H1837.2V2295.95H1838.8V2292.82H1840.4V2294.18H1842V2298.14H1843.6V2301.43H1845.2V2300.52H1846.8V2297.85H1848.4V2294.35H1850V2295.38H1851.6V2297.4H1853.2V2300.74H1854.8V2301.84H1856.4V2301.45H1858V2301.21H1859.6V2301.19H1861.2V2301.65H1862.8V2301.6H1864.4V2301.26H1866V2300.96H1867.6V2301.3H1869.2V2302.07H1870.8V2300.55H1872.4V2301.13H1874V2299.69H1875.6V2301.6H1877.2V2300.94H1878.8V2301.35H1880.4V2301.72H1882V2300.77H1883.6V2301.09H1885.2V2301.51H1886.8V2301.43H1888.4V2301.22H1890V2301.52H1891.6V2300.21H1893.2V2301.83H1894.8V2301.77H1896.4V2300.85H1898V2301.33H1899.6V2302.11H1901.2V2299.55H1902.8V2299.29H1904.4V2301.94H1906V2301.92H1907.6V2301.86H1909.2V2301.53H1910.8V2301.64H1912.4V2301.36H1914V2302H1915.6V2300.74H1917.2V2301.02H1918.8V2301.31H1920.4V2301.26H1922V2301.29H1923.6V2301.41H1925.2V2300.75H1926.8V2304.6ZM1931.6 2304.6V2301.39H1933.2V2301.57H1934.8V2301.77H1936.4V2301.08H1938V2304.6ZM1962 2304.6V2300.96H1963.6V2301.59H1965.2V2302.1H1966.8V2299.01H1968.4V2301.49H1970V2300.86H1971.6V2300.72H1973.2V2301.57H1974.8V2300.91H1976.4V2300.86H1978V2301.04H1979.6V2301.29H1981.2V2301.09H1982.8V2300.88H1984.3V2304.6Z" fill="#000"/>
<path d="M1320 2335.6H1790M1385 2332.6l5.5 3l-5.5 3M1479.5 2332.6l5.5 3l-5.5 3M1511 2332.6l5.5 3l-5.5 3M1542.5 2332.6l5.5 3l-5.5 3M1605.5 2332.6l5.5 3l-5.5 3M1637 2332.6l5.5 3l-5.5 3M1668.5 2332.6l5.5 3l-5.5 3M1700.5 2332.6l5.5 3l-5.5 3M1732 2332.6l5.5 3l-5.5 3M1764 2332.6l5.5 3l-5.5 3" stroke="#999999" stroke-width="1.1" fill="none"/>
<path d="M1314.5 2330.6h7.5v10h-7.5zM1846.8 2330.6h110v10h-110zM1322 2326.2h47.5v18.8h-47.5zM1406.5 2326.2h11.8v18.8h-11.8zM1442 2326.2h9v18.8h-9zM1488.3 2326.2h11.7v18.8h-11.7zM1575.5 2326.2h5v18.8h-5zM1788 2326.2h58.8v18.8h-58.8z" fill="#999999"/>
<text class="e" style="font-style:italic;fill:#999999;stroke:#999999" x="1309.5" y="2343.4">TBR1</text>
<path d="M1430 2395.2H1790M1458.5 2392.2l5.5 3l-5.5 3M1522.5 2392.2l5.5 3l-5.5 3M1554 2392.2l5.5 3l-5.5 3M1586 2392.2l5.5 3l-5.5 3M1617.5 2392.2l5.5 3l-5.5 3M1649.5 2392.2l5.5 3l-5.5 3M1681 2392.2l5.5 3l-5.5 3M1713 2392.2l5.5 3l-5.5 3M1744.5 2392.2l5.5 3l-5.5 3M1776.5 2392.2l5.5 3l-5.5 3" stroke="#999999" stroke-width="1.1" fill="none"/>
<path d="M1421.5 2390.2h13.8v10h-13.8zM1846.8 2390.2h4.2v10h-4.2zM1441.5 2385.8h9.5v18.8h-9.5zM1488.3 2385.8h11.7v18.8h-11.7zM1575.5 2385.8h5v18.8h-5zM1788 2385.8h58.8v18.8h-58.8z" fill="#999999"/>
<text class="e" style="font-style:italic;fill:#999999;stroke:#999999" x="1415.5" y="2403">TBR1</text>
</svg>
</body></html>
